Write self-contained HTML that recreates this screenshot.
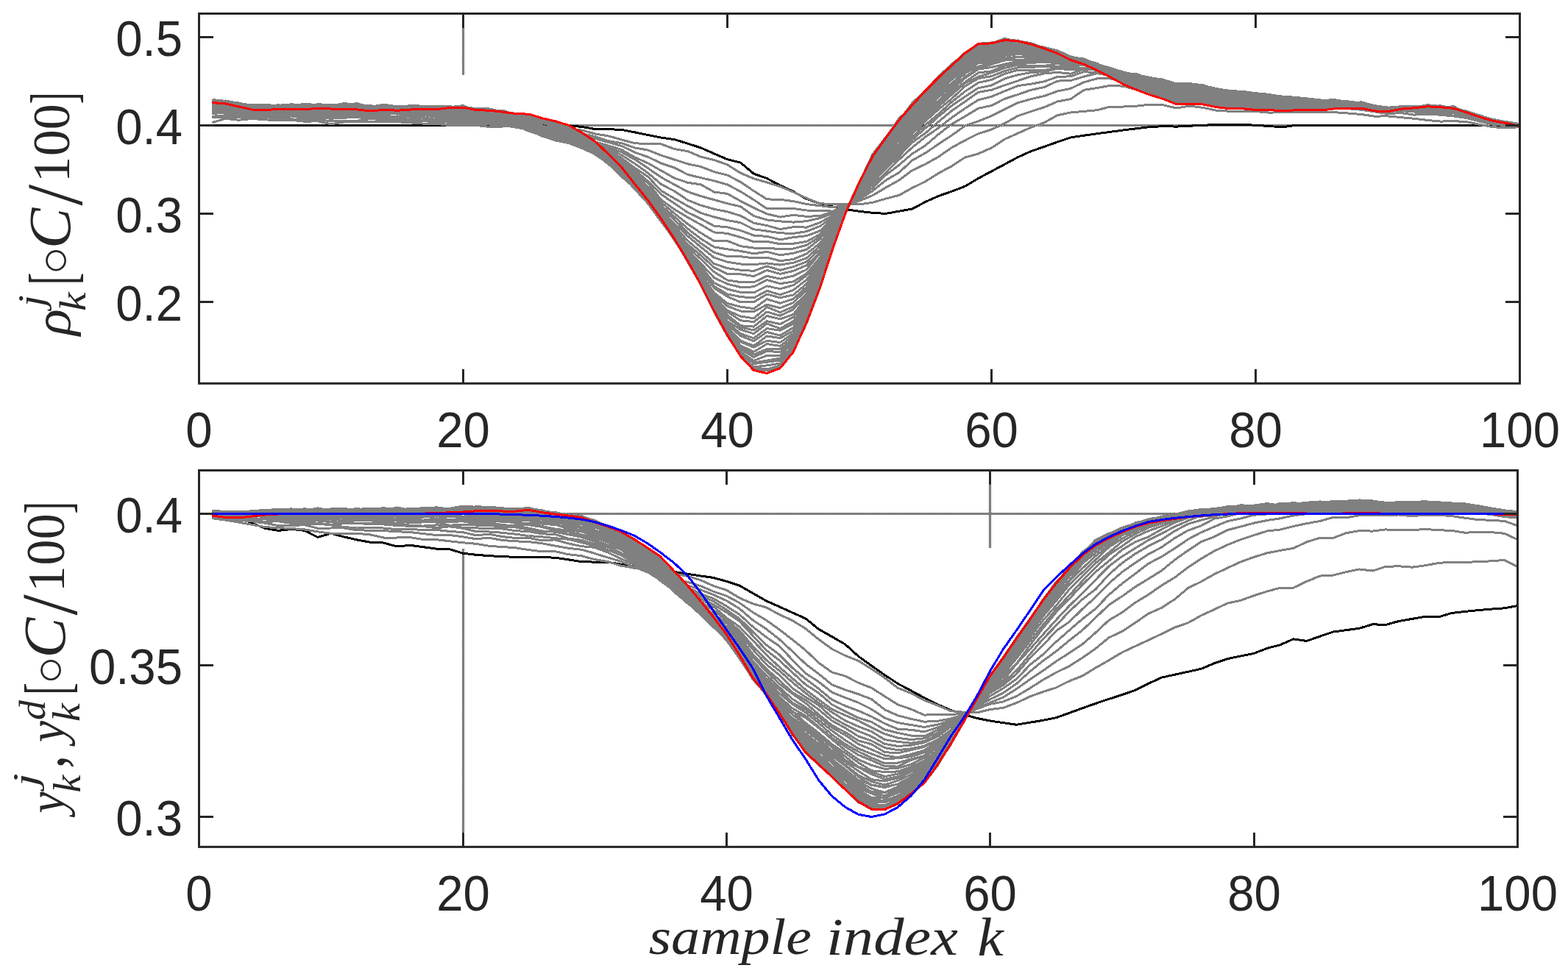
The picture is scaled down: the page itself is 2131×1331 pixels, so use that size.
<!DOCTYPE html>
<html><head><meta charset="utf-8"><title>ILC iterations</title>
<style>
html,body{margin:0;padding:0;background:#fff;}
svg{display:block;}
.tk{font-family:"Liberation Sans",Arial,sans-serif;font-size:68.4px;fill:#262626;}
.lb{font-family:"Liberation Serif","Times New Roman",serif;fill:#262626;}
</style></head><body>
<svg width="2131" height="1331" viewBox="0 0 2131 1331">
<defs>
<pattern id="dot" width="2" height="2" patternUnits="userSpaceOnUse"><rect width="1" height="1" fill="#000"/><rect x="1" y="1" width="1" height="1" fill="#000"/></pattern>
<pattern id="dotv" width="2" height="2" patternUnits="userSpaceOnUse"><rect width="1" height="1" fill="#000"/><rect x="1" y="1" width="1" height="1" fill="#000"/></pattern>
</defs>
<rect width="2131" height="1331" fill="#fff"/>
<line x1="270.5" y1="170.5" x2="2065.5" y2="170.5" stroke="url(#dot)" stroke-width="3"/>
<rect x="628.0" y="38" width="3" height="64" fill="url(#dotv)"/>
<polyline points="288.4,170.5 306.4,170.5 324.4,170.5 342.3,170.5 360.2,170.5 378.2,170.6 396.1,170.6 414.1,170.6 432.0,170.6 450.0,170.6 467.9,170.6 485.9,170.6 503.9,170.6 521.8,170.6 539.8,170.7 557.7,170.7 575.6,170.7 593.6,170.7 611.5,170.7 629.5,170.7 647.5,170.7 665.4,170.7 683.3,170.7 701.3,170.8 719.2,170.8 737.2,170.8 755.1,170.8 773.1,170.8 791.0,172.5 809.0,175.6 826.9,175.7 844.9,176.4 862.9,179.9 880.8,183.6 898.8,187.2 916.7,189.6 934.6,195.2 952.6,201.0 970.5,208.9 988.5,216.6 1006.4,221.1 1024.4,236.2 1042.3,242.5 1060.3,252.1 1078.2,260.4 1096.2,270.4 1114.2,276.7 1132.1,281.1 1150.0,284.8 1168.0,287.3 1185.9,289.4 1203.9,290.4 1221.8,287.2 1239.8,284.0 1257.8,274.4 1275.7,266.4 1293.7,260.1 1311.6,253.3 1329.5,242.5 1347.5,232.9 1365.5,223.3 1383.4,213.7 1401.3,205.6 1419.3,199.4 1437.2,193.0 1455.2,186.9 1473.1,184.2 1491.1,181.7 1509.0,179.3 1527.0,176.9 1545.0,174.7 1562.9,172.5 1580.8,171.7 1598.8,172.1 1616.8,171.2 1634.7,170.3 1652.6,169.5 1670.6,169.1 1688.5,169.4 1706.5,170.3 1724.5,171.5 1742.4,172.8 1760.3,170.5 1778.3,170.2 1796.2,170.2 1814.2,170.2 1832.1,170.2 1850.1,170.2 1868.0,170.2 1886.0,170.2 1904.0,170.3 1921.9,170.4 1939.8,170.5 1957.8,170.6 1975.8,170.7 1993.7,170.9 2011.6,171.0 2029.6,171.0 2047.5,171.0 2065.5,171.0" fill="none" stroke="#000" stroke-width="3" stroke-linejoin="round" stroke-linecap="butt" shape-rendering="crispEdges"/>
<polyline points="288.4,166.7 306.4,161.2 324.4,163.3 342.3,161.5 360.2,162.7 378.2,164.0 396.1,163.2 414.1,165.3 432.0,164.7 450.0,168.9 467.9,165.9 485.9,165.3 503.9,165.5 521.8,165.6 539.8,165.7 557.7,166.8 575.6,168.1 593.6,168.2 611.5,170.7 629.5,170.1 647.5,170.6 665.4,172.4 683.3,172.0 701.3,171.7 719.2,172.8 737.2,174.4 755.1,176.2 773.1,175.6 791.0,177.1 809.0,182.0 826.9,184.9 844.9,190.0 862.9,194.8 880.8,195.5 898.8,195.9 916.7,202.6 934.6,205.6 952.6,213.2 970.5,217.5 988.5,223.9 1006.4,235.2 1024.4,242.8 1042.3,248.0 1060.3,253.6 1078.2,261.1 1096.2,269.4 1114.2,276.7 1132.1,277.7 1150.0,277.3 1168.0,277.8 1185.9,275.3 1203.9,270.1 1221.8,265.4 1239.8,255.5 1257.8,246.7 1275.7,235.4 1293.7,225.7 1311.6,214.0 1329.5,209.0 1347.5,201.0 1365.5,189.2 1383.4,181.2 1401.3,173.1 1419.3,166.7 1437.2,156.7 1455.2,153.0 1473.1,151.4 1491.1,149.7 1509.0,145.0 1527.0,145.0 1545.0,144.1 1562.9,142.2 1580.8,142.8 1598.8,147.0 1616.8,144.1 1634.7,146.3 1652.6,150.1 1670.6,151.2 1688.5,151.5 1706.5,151.5 1724.5,153.1 1742.4,152.8 1760.3,152.9 1778.3,153.0 1796.2,152.7 1814.2,152.7 1832.1,154.0 1850.1,155.5 1868.0,158.1 1886.0,157.9 1904.0,159.6 1921.9,161.3 1939.8,163.4 1957.8,165.1 1975.8,164.6 1993.7,165.7 2011.6,169.5 2029.6,172.8 2047.5,173.7 2065.5,172.7" fill="none" stroke="#808080" stroke-width="3" stroke-linejoin="round" stroke-linecap="butt" shape-rendering="crispEdges"/>
<polyline points="288.4,159.7 306.4,159.8 324.4,159.2 342.3,160.0 360.2,159.5 378.2,161.2 396.1,161.9 414.1,162.9 432.0,162.5 450.0,165.0 467.9,164.0 485.9,164.2 503.9,161.3 521.8,163.3 539.8,163.8 557.7,165.6 575.6,163.6 593.6,168.2 611.5,169.5 629.5,167.7 647.5,168.4 665.4,169.0 683.3,170.7 701.3,172.8 719.2,176.2 737.2,176.1 755.1,178.5 773.1,179.3 791.0,181.6 809.0,185.7 826.9,191.7 844.9,194.7 862.9,201.0 880.8,204.1 898.8,211.3 916.7,217.0 934.6,222.8 952.6,226.6 970.5,233.6 988.5,238.1 1006.4,247.4 1024.4,259.6 1042.3,270.9 1060.3,271.3 1078.2,273.6 1096.2,277.5 1114.2,279.7 1132.1,281.8 1150.0,278.7 1168.0,273.0 1185.9,265.7 1203.9,255.0 1221.8,245.0 1239.8,231.6 1257.8,223.1 1275.7,213.0 1293.7,200.5 1311.6,190.8 1329.5,181.8 1347.5,176.1 1365.5,167.7 1383.4,157.6 1401.3,151.6 1419.3,145.7 1437.2,138.0 1455.2,134.6 1473.1,122.3 1491.1,119.5 1509.0,116.3 1527.0,117.2 1545.0,122.1 1562.9,125.8 1580.8,128.1 1598.8,134.1 1616.8,133.0 1634.7,134.5 1652.6,138.2 1670.6,140.7 1688.5,140.7 1706.5,143.2 1724.5,143.6 1742.4,145.3 1760.3,144.8 1778.3,145.5 1796.2,146.5 1814.2,146.8 1832.1,147.6 1850.1,149.3 1868.0,151.9 1886.0,154.6 1904.0,153.5 1921.9,156.1 1939.8,155.1 1957.8,156.2 1975.8,158.0 1993.7,160.5 2011.6,165.3 2029.6,169.4 2047.5,170.6 2065.5,171.4" fill="none" stroke="#808080" stroke-width="3" stroke-linejoin="round" stroke-linecap="butt" shape-rendering="crispEdges"/>
<polyline points="288.4,158.3 306.4,156.8 324.4,157.1 342.3,157.0 360.2,156.7 378.2,159.5 396.1,157.9 414.1,160.6 432.0,159.9 450.0,161.2 467.9,160.1 485.9,159.6 503.9,161.5 521.8,161.0 539.8,162.4 557.7,163.4 575.6,164.2 593.6,165.5 611.5,166.2 629.5,167.6 647.5,166.2 665.4,168.5 683.3,168.7 701.3,173.2 719.2,176.2 737.2,176.2 755.1,180.1 773.1,181.5 791.0,183.3 809.0,188.5 826.9,193.5 844.9,198.5 862.9,207.2 880.8,213.5 898.8,222.1 916.7,228.1 934.6,237.3 952.6,241.7 970.5,245.8 988.5,251.0 1006.4,260.4 1024.4,271.6 1042.3,283.6 1060.3,284.0 1078.2,283.5 1096.2,286.0 1114.2,286.6 1132.1,287.1 1150.0,278.7 1168.0,270.7 1185.9,259.5 1203.9,245.1 1221.8,234.6 1239.8,218.0 1257.8,207.9 1275.7,195.8 1293.7,183.9 1311.6,171.0 1329.5,164.8 1347.5,157.6 1365.5,148.4 1383.4,139.7 1401.3,134.6 1419.3,130.5 1437.2,124.0 1455.2,120.3 1473.1,111.7 1491.1,106.9 1509.0,106.9 1527.0,110.8 1545.0,115.5 1562.9,119.0 1580.8,122.8 1598.8,129.6 1616.8,128.0 1634.7,129.8 1652.6,134.1 1670.6,136.8 1688.5,136.7 1706.5,138.7 1724.5,139.5 1742.4,141.8 1760.3,141.1 1778.3,143.0 1796.2,144.3 1814.2,143.6 1832.1,146.2 1850.1,146.7 1868.0,149.4 1886.0,151.8 1904.0,150.3 1921.9,152.0 1939.8,154.5 1957.8,153.1 1975.8,157.5 1993.7,159.1 2011.6,164.1 2029.6,167.3 2047.5,168.2 2065.5,170.5" fill="none" stroke="#808080" stroke-width="3" stroke-linejoin="round" stroke-linecap="butt" shape-rendering="crispEdges"/>
<polyline points="288.4,154.5 306.4,153.2 324.4,153.7 342.3,155.9 360.2,155.9 378.2,155.3 396.1,157.2 414.1,159.0 432.0,157.5 450.0,159.2 467.9,159.8 485.9,158.6 503.9,158.4 521.8,158.6 539.8,161.0 557.7,162.7 575.6,163.1 593.6,164.9 611.5,165.3 629.5,166.9 647.5,166.8 665.4,167.3 683.3,167.8 701.3,170.2 719.2,174.9 737.2,178.3 755.1,181.1 773.1,184.0 791.0,186.0 809.0,192.8 826.9,198.0 844.9,203.6 862.9,213.9 880.8,221.9 898.8,232.1 916.7,242.2 934.6,248.3 952.6,250.9 970.5,261.0 988.5,263.4 1006.4,273.3 1024.4,282.5 1042.3,290.8 1060.3,295.1 1078.2,292.3 1096.2,294.4 1114.2,293.5 1132.1,287.9 1150.0,279.3 1168.0,268.9 1185.9,255.4 1203.9,237.9 1221.8,224.4 1239.8,209.0 1257.8,197.7 1275.7,182.3 1293.7,168.6 1311.6,158.2 1329.5,147.4 1347.5,143.4 1365.5,134.3 1383.4,128.5 1401.3,122.3 1419.3,118.5 1437.2,110.1 1455.2,109.5 1473.1,104.1 1491.1,99.7 1509.0,102.1 1527.0,105.8 1545.0,112.4 1562.9,116.1 1580.8,118.5 1598.8,126.0 1616.8,125.0 1634.7,127.2 1652.6,130.6 1670.6,133.9 1688.5,134.1 1706.5,136.0 1724.5,136.9 1742.4,139.1 1760.3,139.9 1778.3,140.9 1796.2,142.6 1814.2,142.6 1832.1,144.5 1850.1,145.3 1868.0,148.4 1886.0,149.5 1904.0,150.5 1921.9,152.0 1939.8,151.4 1957.8,153.1 1975.8,153.7 1993.7,157.6 2011.6,161.7 2029.6,167.3 2047.5,168.6 2065.5,170.1" fill="none" stroke="#808080" stroke-width="3" stroke-linejoin="round" stroke-linecap="butt" shape-rendering="crispEdges"/>
<polyline points="288.4,151.1 306.4,152.5 324.4,155.0 342.3,154.7 360.2,154.4 378.2,156.9 396.1,157.7 414.1,157.6 432.0,157.2 450.0,157.8 467.9,157.2 485.9,157.8 503.9,157.3 521.8,159.9 539.8,159.9 557.7,162.5 575.6,159.5 593.6,163.8 611.5,165.5 629.5,165.0 647.5,166.7 665.4,167.4 683.3,168.9 701.3,171.0 719.2,175.6 737.2,181.2 755.1,184.2 773.1,185.5 791.0,188.2 809.0,193.1 826.9,201.0 844.9,206.9 862.9,216.9 880.8,228.8 898.8,241.2 916.7,251.1 934.6,260.6 952.6,266.7 970.5,271.6 988.5,276.7 1006.4,280.8 1024.4,293.6 1042.3,298.9 1060.3,300.9 1078.2,302.1 1096.2,300.7 1114.2,296.6 1132.1,290.2 1150.0,280.2 1168.0,267.2 1185.9,251.2 1203.9,235.0 1221.8,217.0 1239.8,200.5 1257.8,186.0 1275.7,173.8 1293.7,159.8 1311.6,147.3 1329.5,135.9 1347.5,131.4 1365.5,123.8 1383.4,116.6 1401.3,114.2 1419.3,110.7 1437.2,104.4 1455.2,103.8 1473.1,97.5 1491.1,99.0 1509.0,103.2 1527.0,105.2 1545.0,109.8 1562.9,111.7 1580.8,117.0 1598.8,123.3 1616.8,122.2 1634.7,124.9 1652.6,128.0 1670.6,131.0 1688.5,131.9 1706.5,133.7 1724.5,135.4 1742.4,137.8 1760.3,137.6 1778.3,139.1 1796.2,141.2 1814.2,141.2 1832.1,142.1 1850.1,143.5 1868.0,147.5 1886.0,149.7 1904.0,150.2 1921.9,150.8 1939.8,152.1 1957.8,153.0 1975.8,153.9 1993.7,158.2 2011.6,162.7 2029.6,166.4 2047.5,167.5 2065.5,170.1" fill="none" stroke="#808080" stroke-width="3" stroke-linejoin="round" stroke-linecap="butt" shape-rendering="crispEdges"/>
<polyline points="288.4,151.0 306.4,152.9 324.4,152.4 342.3,153.6 360.2,154.2 378.2,155.9 396.1,155.2 414.1,155.1 432.0,155.4 450.0,154.9 467.9,155.5 485.9,155.7 503.9,157.1 521.8,159.1 539.8,158.0 557.7,159.2 575.6,160.1 593.6,162.6 611.5,162.2 629.5,163.5 647.5,165.2 665.4,166.2 683.3,167.5 701.3,170.8 719.2,175.2 737.2,181.7 755.1,185.6 773.1,187.1 791.0,190.1 809.0,195.3 826.9,201.7 844.9,211.0 862.9,222.6 880.8,235.3 898.8,250.7 916.7,259.9 934.6,272.1 952.6,279.2 970.5,284.3 988.5,287.8 1006.4,293.3 1024.4,303.2 1042.3,306.6 1060.3,311.7 1078.2,308.6 1096.2,309.1 1114.2,302.6 1132.1,292.8 1150.0,280.2 1168.0,266.9 1185.9,247.5 1203.9,229.7 1221.8,212.3 1239.8,193.6 1257.8,180.9 1275.7,165.3 1293.7,150.4 1311.6,138.1 1329.5,125.4 1347.5,122.3 1365.5,115.8 1383.4,109.8 1401.3,103.7 1419.3,100.0 1437.2,98.4 1455.2,100.2 1473.1,94.0 1491.1,95.1 1509.0,99.8 1527.0,103.0 1545.0,108.5 1562.9,112.7 1580.8,115.2 1598.8,121.5 1616.8,120.5 1634.7,123.0 1652.6,126.7 1670.6,129.8 1688.5,131.1 1706.5,132.2 1724.5,132.9 1742.4,136.0 1760.3,136.9 1778.3,138.8 1796.2,140.4 1814.2,139.9 1832.1,141.5 1850.1,143.7 1868.0,146.3 1886.0,149.7 1904.0,148.8 1921.9,150.6 1939.8,150.4 1957.8,151.8 1975.8,153.4 1993.7,155.7 2011.6,161.5 2029.6,165.6 2047.5,167.9 2065.5,170.0" fill="none" stroke="#808080" stroke-width="3" stroke-linejoin="round" stroke-linecap="butt" shape-rendering="crispEdges"/>
<polyline points="288.4,149.4 306.4,149.4 324.4,150.5 342.3,151.9 360.2,153.5 378.2,152.3 396.1,155.0 414.1,154.5 432.0,153.7 450.0,152.8 467.9,154.4 485.9,155.2 503.9,154.0 521.8,157.1 539.8,158.9 557.7,158.3 575.6,159.6 593.6,163.2 611.5,163.4 629.5,162.2 647.5,164.2 665.4,164.6 683.3,166.7 701.3,168.6 719.2,177.0 737.2,181.5 755.1,185.9 773.1,188.3 791.0,192.0 809.0,196.7 826.9,204.3 844.9,214.9 862.9,228.5 880.8,240.4 898.8,259.5 916.7,269.9 934.6,280.0 952.6,289.6 970.5,295.0 988.5,299.5 1006.4,302.7 1024.4,311.8 1042.3,314.1 1060.3,316.8 1078.2,317.5 1096.2,314.6 1114.2,307.6 1132.1,295.3 1150.0,281.1 1168.0,263.4 1185.9,244.7 1203.9,226.6 1221.8,207.9 1239.8,189.9 1257.8,174.1 1275.7,158.2 1293.7,143.5 1311.6,131.3 1329.5,119.7 1347.5,116.1 1365.5,106.9 1383.4,101.8 1401.3,98.5 1419.3,97.7 1437.2,93.0 1455.2,95.0 1473.1,93.0 1491.1,95.5 1509.0,99.0 1527.0,102.0 1545.0,107.5 1562.9,109.9 1580.8,113.9 1598.8,119.7 1616.8,119.5 1634.7,122.4 1652.6,125.8 1670.6,128.8 1688.5,128.8 1706.5,131.1 1724.5,132.9 1742.4,135.5 1760.3,135.6 1778.3,137.5 1796.2,138.8 1814.2,139.4 1832.1,141.7 1850.1,142.2 1868.0,146.0 1886.0,147.9 1904.0,148.7 1921.9,150.2 1939.8,149.8 1957.8,150.7 1975.8,150.7 1993.7,157.8 2011.6,160.8 2029.6,165.2 2047.5,167.8 2065.5,169.0" fill="none" stroke="#808080" stroke-width="3" stroke-linejoin="round" stroke-linecap="butt" shape-rendering="crispEdges"/>
<polyline points="288.4,148.5 306.4,148.9 324.4,150.6 342.3,152.4 360.2,152.3 378.2,150.3 396.1,152.5 414.1,153.3 432.0,153.0 450.0,151.8 467.9,151.4 485.9,153.9 503.9,154.9 521.8,154.8 539.8,154.4 557.7,158.6 575.6,155.1 593.6,159.3 611.5,163.1 629.5,161.9 647.5,163.5 665.4,162.6 683.3,167.5 701.3,169.3 719.2,176.6 737.2,182.8 755.1,186.0 773.1,189.9 791.0,192.7 809.0,198.1 826.9,207.3 844.9,216.8 862.9,231.4 880.8,246.7 898.8,264.4 916.7,276.7 934.6,288.8 952.6,297.6 970.5,307.2 988.5,308.9 1006.4,313.4 1024.4,320.0 1042.3,321.4 1060.3,325.9 1078.2,322.6 1096.2,320.7 1114.2,313.9 1132.1,297.1 1150.0,281.1 1168.0,262.1 1185.9,242.9 1203.9,222.3 1221.8,204.9 1239.8,186.1 1257.8,169.7 1275.7,154.7 1293.7,138.4 1311.6,124.3 1329.5,112.4 1347.5,108.5 1365.5,100.3 1383.4,95.2 1401.3,95.3 1419.3,95.5 1437.2,92.1 1455.2,92.3 1473.1,92.2 1491.1,92.4 1509.0,96.5 1527.0,100.7 1545.0,104.9 1562.9,109.2 1580.8,113.3 1598.8,118.4 1616.8,117.6 1634.7,119.8 1652.6,124.2 1670.6,126.1 1688.5,127.7 1706.5,130.4 1724.5,131.5 1742.4,134.3 1760.3,134.5 1778.3,136.1 1796.2,139.0 1814.2,139.4 1832.1,139.8 1850.1,141.8 1868.0,145.8 1886.0,148.5 1904.0,148.2 1921.9,148.6 1939.8,148.9 1957.8,150.2 1975.8,151.5 1993.7,154.1 2011.6,158.4 2029.6,164.5 2047.5,166.4 2065.5,169.4" fill="none" stroke="#808080" stroke-width="3" stroke-linejoin="round" stroke-linecap="butt" shape-rendering="crispEdges"/>
<polyline points="288.4,148.2 306.4,148.3 324.4,149.0 342.3,150.5 360.2,152.0 378.2,150.4 396.1,152.8 414.1,152.9 432.0,152.1 450.0,153.5 467.9,151.3 485.9,153.3 503.9,152.7 521.8,153.0 539.8,154.1 557.7,156.2 575.6,156.0 593.6,158.6 611.5,158.8 629.5,162.1 647.5,164.2 665.4,163.2 683.3,167.0 701.3,170.8 719.2,178.5 737.2,183.3 755.1,186.5 773.1,191.3 791.0,194.5 809.0,199.4 826.9,208.7 844.9,218.2 862.9,234.3 880.8,249.2 898.8,271.8 916.7,284.7 934.6,295.5 952.6,305.5 970.5,315.9 988.5,317.4 1006.4,322.5 1024.4,328.6 1042.3,328.3 1060.3,331.7 1078.2,331.2 1096.2,328.4 1114.2,318.6 1132.1,300.5 1150.0,282.1 1168.0,261.9 1185.9,241.7 1203.9,220.0 1221.8,202.7 1239.8,181.9 1257.8,164.6 1275.7,148.6 1293.7,134.0 1311.6,117.2 1329.5,106.6 1347.5,103.7 1365.5,96.5 1383.4,91.8 1401.3,91.4 1419.3,90.2 1437.2,90.3 1455.2,91.1 1473.1,87.8 1491.1,89.7 1509.0,96.4 1527.0,102.3 1545.0,105.2 1562.9,109.2 1580.8,110.9 1598.8,116.8 1616.8,117.2 1634.7,119.1 1652.6,123.6 1670.6,125.3 1688.5,126.8 1706.5,129.0 1724.5,130.8 1742.4,133.2 1760.3,134.0 1778.3,135.9 1796.2,138.4 1814.2,138.4 1832.1,139.7 1850.1,140.5 1868.0,144.9 1886.0,148.7 1904.0,146.2 1921.9,147.9 1939.8,149.0 1957.8,150.8 1975.8,150.9 1993.7,156.1 2011.6,160.8 2029.6,165.3 2047.5,167.0 2065.5,169.6" fill="none" stroke="#808080" stroke-width="3" stroke-linejoin="round" stroke-linecap="butt" shape-rendering="crispEdges"/>
<polyline points="288.4,146.8 306.4,148.7 324.4,147.5 342.3,150.5 360.2,149.1 378.2,148.8 396.1,151.5 414.1,150.5 432.0,151.4 450.0,150.1 467.9,152.7 485.9,151.4 503.9,151.6 521.8,153.0 539.8,155.1 557.7,154.0 575.6,156.4 593.6,159.6 611.5,159.8 629.5,160.0 647.5,160.9 665.4,162.7 683.3,163.2 701.3,166.9 719.2,175.7 737.2,182.8 755.1,189.6 773.1,191.6 791.0,195.4 809.0,200.8 826.9,211.8 844.9,221.5 862.9,237.1 880.8,254.2 898.8,275.4 916.7,290.2 934.6,304.5 952.6,316.8 970.5,327.6 988.5,327.5 1006.4,334.6 1024.4,337.1 1042.3,337.1 1060.3,338.7 1078.2,338.0 1096.2,333.3 1114.2,321.9 1132.1,303.7 1150.0,282.4 1168.0,260.8 1185.9,239.1 1203.9,219.2 1221.8,199.8 1239.8,179.7 1257.8,161.9 1275.7,144.7 1293.7,128.4 1311.6,113.1 1329.5,104.3 1347.5,98.9 1365.5,92.4 1383.4,88.3 1401.3,89.4 1419.3,89.4 1437.2,86.5 1455.2,89.3 1473.1,87.3 1491.1,92.9 1509.0,96.6 1527.0,99.7 1545.0,105.6 1562.9,108.0 1580.8,110.6 1598.8,116.8 1616.8,115.9 1634.7,118.1 1652.6,122.8 1670.6,125.0 1688.5,125.6 1706.5,129.2 1724.5,129.8 1742.4,132.6 1760.3,133.4 1778.3,135.8 1796.2,137.9 1814.2,138.1 1832.1,140.3 1850.1,139.9 1868.0,144.9 1886.0,147.4 1904.0,147.4 1921.9,148.9 1939.8,146.0 1957.8,152.4 1975.8,149.9 1993.7,155.4 2011.6,160.6 2029.6,165.0 2047.5,166.9 2065.5,168.4" fill="none" stroke="#808080" stroke-width="3" stroke-linejoin="round" stroke-linecap="butt" shape-rendering="crispEdges"/>
<polyline points="288.4,144.6 306.4,147.1 324.4,146.9 342.3,148.2 360.2,147.4 378.2,150.7 396.1,150.7 414.1,149.6 432.0,149.9 450.0,150.2 467.9,149.1 485.9,150.2 503.9,152.1 521.8,152.4 539.8,154.5 557.7,153.9 575.6,154.5 593.6,156.9 611.5,157.2 629.5,157.8 647.5,161.8 665.4,160.9 683.3,164.2 701.3,170.2 719.2,175.2 737.2,184.6 755.1,189.2 773.1,192.2 791.0,197.0 809.0,202.4 826.9,210.8 844.9,224.2 862.9,239.5 880.8,258.7 898.8,279.8 916.7,294.8 934.6,310.9 952.6,324.6 970.5,335.9 988.5,338.8 1006.4,341.4 1024.4,344.9 1042.3,342.3 1060.3,346.9 1078.2,344.2 1096.2,339.2 1114.2,325.1 1132.1,303.3 1150.0,281.0 1168.0,260.3 1185.9,238.5 1203.9,217.1 1221.8,195.3 1239.8,175.5 1257.8,159.8 1275.7,141.8 1293.7,124.5 1311.6,111.6 1329.5,99.0 1347.5,96.8 1365.5,89.1 1383.4,86.7 1401.3,85.5 1419.3,84.2 1437.2,84.5 1455.2,86.5 1473.1,87.8 1491.1,89.4 1509.0,93.5 1527.0,100.7 1545.0,104.9 1562.9,108.3 1580.8,110.3 1598.8,115.2 1616.8,115.2 1634.7,117.4 1652.6,121.9 1670.6,123.6 1688.5,125.4 1706.5,128.1 1724.5,129.0 1742.4,132.3 1760.3,133.6 1778.3,135.2 1796.2,137.6 1814.2,138.1 1832.1,139.7 1850.1,140.7 1868.0,144.6 1886.0,148.0 1904.0,146.7 1921.9,147.4 1939.8,148.3 1957.8,148.1 1975.8,150.7 1993.7,155.7 2011.6,159.8 2029.6,164.4 2047.5,167.0 2065.5,169.2" fill="none" stroke="#808080" stroke-width="3" stroke-linejoin="round" stroke-linecap="butt" shape-rendering="crispEdges"/>
<polyline points="288.4,143.3 306.4,144.2 324.4,148.4 342.3,148.7 360.2,146.9 378.2,147.4 396.1,149.4 414.1,148.7 432.0,149.7 450.0,149.6 467.9,149.8 485.9,148.5 503.9,151.6 521.8,152.9 539.8,151.6 557.7,154.2 575.6,155.0 593.6,156.2 611.5,156.8 629.5,156.9 647.5,158.9 665.4,161.2 683.3,164.4 701.3,170.3 719.2,177.1 737.2,185.0 755.1,189.1 773.1,192.4 791.0,197.9 809.0,204.5 826.9,214.6 844.9,224.9 862.9,242.5 880.8,259.5 898.8,283.3 916.7,298.9 934.6,316.5 952.6,330.7 970.5,343.2 988.5,348.8 1006.4,348.7 1024.4,351.0 1042.3,350.0 1060.3,354.7 1078.2,352.5 1096.2,344.9 1114.2,331.0 1132.1,307.2 1150.0,281.7 1168.0,259.3 1185.9,235.8 1203.9,213.0 1221.8,195.5 1239.8,172.8 1257.8,155.7 1275.7,139.4 1293.7,122.1 1311.6,106.1 1329.5,94.1 1347.5,91.5 1365.5,87.2 1383.4,83.5 1401.3,83.3 1419.3,82.5 1437.2,83.9 1455.2,86.0 1473.1,85.2 1491.1,89.4 1509.0,94.8 1527.0,100.8 1545.0,103.3 1562.9,107.0 1580.8,110.4 1598.8,115.0 1616.8,114.6 1634.7,117.6 1652.6,121.6 1670.6,124.0 1688.5,125.0 1706.5,127.5 1724.5,129.2 1742.4,131.8 1760.3,133.1 1778.3,134.5 1796.2,136.7 1814.2,137.4 1832.1,138.9 1850.1,140.6 1868.0,144.6 1886.0,146.8 1904.0,147.0 1921.9,147.3 1939.8,145.7 1957.8,147.4 1975.8,149.2 1993.7,154.1 2011.6,159.6 2029.6,164.7 2047.5,166.7 2065.5,169.4" fill="none" stroke="#808080" stroke-width="3" stroke-linejoin="round" stroke-linecap="butt" shape-rendering="crispEdges"/>
<polyline points="288.4,145.4 306.4,144.6 324.4,148.1 342.3,148.8 360.2,147.7 378.2,148.4 396.1,149.8 414.1,149.2 432.0,149.5 450.0,149.2 467.9,149.3 485.9,148.6 503.9,150.6 521.8,149.8 539.8,152.3 557.7,150.4 575.6,153.5 593.6,155.9 611.5,156.5 629.5,157.1 647.5,159.6 665.4,158.9 683.3,161.9 701.3,168.4 719.2,175.8 737.2,185.3 755.1,189.1 773.1,193.9 791.0,198.1 809.0,204.6 826.9,216.0 844.9,229.4 862.9,244.7 880.8,261.5 898.8,286.7 916.7,304.1 934.6,320.8 952.6,336.0 970.5,350.2 988.5,356.1 1006.4,359.0 1024.4,359.6 1042.3,357.9 1060.3,360.1 1078.2,357.2 1096.2,350.9 1114.2,334.7 1132.1,311.4 1150.0,283.7 1168.0,258.6 1185.9,233.2 1203.9,210.9 1221.8,190.8 1239.8,172.5 1257.8,152.8 1275.7,137.1 1293.7,119.8 1311.6,104.1 1329.5,93.3 1347.5,87.3 1365.5,82.0 1383.4,81.3 1401.3,80.7 1419.3,81.1 1437.2,82.0 1455.2,84.1 1473.1,85.2 1491.1,87.9 1509.0,92.3 1527.0,100.6 1545.0,102.1 1562.9,105.6 1580.8,109.7 1598.8,115.6 1616.8,114.5 1634.7,116.6 1652.6,121.1 1670.6,123.3 1688.5,124.8 1706.5,127.4 1724.5,128.8 1742.4,131.9 1760.3,132.9 1778.3,135.3 1796.2,137.3 1814.2,136.4 1832.1,139.5 1850.1,139.2 1868.0,143.7 1886.0,147.4 1904.0,146.0 1921.9,147.3 1939.8,148.1 1957.8,147.5 1975.8,148.8 1993.7,154.5 2011.6,160.2 2029.6,164.3 2047.5,165.6 2065.5,168.7" fill="none" stroke="#808080" stroke-width="3" stroke-linejoin="round" stroke-linecap="butt" shape-rendering="crispEdges"/>
<polyline points="288.4,143.2 306.4,146.0 324.4,146.7 342.3,147.9 360.2,148.6 378.2,147.1 396.1,148.5 414.1,148.8 432.0,146.8 450.0,148.0 467.9,148.4 485.9,147.1 503.9,150.3 521.8,150.1 539.8,151.9 557.7,150.5 575.6,152.4 593.6,155.3 611.5,155.8 629.5,155.5 647.5,158.5 665.4,160.4 683.3,162.1 701.3,168.7 719.2,178.3 737.2,184.5 755.1,189.9 773.1,193.4 791.0,199.1 809.0,207.2 826.9,217.1 844.9,228.6 862.9,246.3 880.8,266.0 898.8,289.7 916.7,306.9 934.6,327.3 952.6,342.5 970.5,358.5 988.5,364.7 1006.4,367.2 1024.4,368.4 1042.3,361.9 1060.3,367.3 1078.2,362.7 1096.2,355.8 1114.2,339.1 1132.1,312.1 1150.0,283.2 1168.0,257.9 1185.9,232.0 1203.9,208.6 1221.8,188.6 1239.8,169.7 1257.8,151.1 1275.7,131.9 1293.7,116.8 1311.6,99.4 1329.5,90.4 1347.5,86.1 1365.5,80.7 1383.4,77.4 1401.3,78.6 1419.3,79.9 1437.2,81.2 1455.2,82.3 1473.1,85.5 1491.1,88.6 1509.0,93.1 1527.0,99.5 1545.0,102.4 1562.9,105.7 1580.8,108.2 1598.8,114.9 1616.8,114.5 1634.7,116.5 1652.6,120.5 1670.6,123.3 1688.5,124.5 1706.5,127.5 1724.5,128.5 1742.4,131.9 1760.3,132.5 1778.3,134.2 1796.2,136.8 1814.2,136.6 1832.1,139.0 1850.1,140.4 1868.0,144.1 1886.0,146.8 1904.0,148.3 1921.9,147.5 1939.8,146.9 1957.8,148.6 1975.8,149.2 1993.7,153.9 2011.6,159.3 2029.6,162.4 2047.5,166.9 2065.5,168.6" fill="none" stroke="#808080" stroke-width="3" stroke-linejoin="round" stroke-linecap="butt" shape-rendering="crispEdges"/>
<polyline points="288.4,141.5 306.4,143.9 324.4,145.2 342.3,145.6 360.2,147.1 378.2,145.6 396.1,146.6 414.1,146.1 432.0,146.2 450.0,147.7 467.9,147.2 485.9,147.8 503.9,149.7 521.8,148.5 539.8,149.4 557.7,150.1 575.6,153.1 593.6,153.0 611.5,154.4 629.5,155.3 647.5,157.7 665.4,158.6 683.3,161.5 701.3,167.6 719.2,174.6 737.2,183.7 755.1,190.4 773.1,194.5 791.0,200.2 809.0,206.9 826.9,217.5 844.9,231.8 862.9,249.6 880.8,266.5 898.8,291.9 916.7,311.2 934.6,332.3 952.6,347.3 970.5,363.6 988.5,372.6 1006.4,372.7 1024.4,375.6 1042.3,367.4 1060.3,372.4 1078.2,368.4 1096.2,360.7 1114.2,343.4 1132.1,313.3 1150.0,283.8 1168.0,256.9 1185.9,231.6 1203.9,207.8 1221.8,187.6 1239.8,165.5 1257.8,148.8 1275.7,129.4 1293.7,115.1 1311.6,99.2 1329.5,85.9 1347.5,84.4 1365.5,79.4 1383.4,77.0 1401.3,77.5 1419.3,77.1 1437.2,78.4 1455.2,81.6 1473.1,84.2 1491.1,89.6 1509.0,94.1 1527.0,98.9 1545.0,101.5 1562.9,106.2 1580.8,108.4 1598.8,113.8 1616.8,113.8 1634.7,116.4 1652.6,120.5 1670.6,124.0 1688.5,124.3 1706.5,126.7 1724.5,128.3 1742.4,131.9 1760.3,132.1 1778.3,134.7 1796.2,136.7 1814.2,137.6 1832.1,139.0 1850.1,139.4 1868.0,144.4 1886.0,146.7 1904.0,147.0 1921.9,147.0 1939.8,148.4 1957.8,147.5 1975.8,149.5 1993.7,153.1 2011.6,159.0 2029.6,163.7 2047.5,166.2 2065.5,169.0" fill="none" stroke="#808080" stroke-width="3" stroke-linejoin="round" stroke-linecap="butt" shape-rendering="crispEdges"/>
<polyline points="288.4,141.4 306.4,142.0 324.4,145.7 342.3,145.9 360.2,145.9 378.2,147.3 396.1,147.6 414.1,144.4 432.0,146.1 450.0,147.5 467.9,147.4 485.9,146.4 503.9,149.7 521.8,147.2 539.8,149.2 557.7,149.9 575.6,150.7 593.6,153.0 611.5,154.3 629.5,154.5 647.5,158.2 665.4,156.9 683.3,160.7 701.3,169.1 719.2,175.1 737.2,185.3 755.1,189.9 773.1,194.3 791.0,200.3 809.0,207.7 826.9,219.1 844.9,232.5 862.9,251.2 880.8,271.0 898.8,293.2 916.7,314.0 934.6,335.3 952.6,352.4 970.5,369.6 988.5,380.9 1006.4,383.6 1024.4,383.8 1042.3,375.3 1060.3,379.1 1078.2,375.1 1096.2,366.4 1114.2,344.7 1132.1,315.7 1150.0,283.4 1168.0,256.8 1185.9,230.6 1203.9,207.3 1221.8,184.2 1239.8,166.0 1257.8,145.3 1275.7,127.7 1293.7,112.9 1311.6,98.1 1329.5,84.2 1347.5,82.6 1365.5,76.3 1383.4,73.4 1401.3,75.2 1419.3,78.1 1437.2,77.9 1455.2,82.4 1473.1,84.3 1491.1,87.4 1509.0,94.7 1527.0,100.4 1545.0,104.2 1562.9,107.0 1580.8,108.3 1598.8,114.5 1616.8,114.1 1634.7,116.2 1652.6,120.5 1670.6,123.8 1688.5,124.9 1706.5,126.9 1724.5,128.7 1742.4,131.1 1760.3,132.3 1778.3,134.2 1796.2,136.1 1814.2,136.9 1832.1,138.7 1850.1,139.3 1868.0,143.8 1886.0,146.1 1904.0,146.0 1921.9,146.3 1939.8,146.4 1957.8,146.1 1975.8,149.0 1993.7,154.0 2011.6,159.7 2029.6,164.2 2047.5,166.1 2065.5,168.6" fill="none" stroke="#808080" stroke-width="3" stroke-linejoin="round" stroke-linecap="butt" shape-rendering="crispEdges"/>
<polyline points="288.4,139.5 306.4,142.2 324.4,145.5 342.3,147.2 360.2,143.8 378.2,145.0 396.1,145.9 414.1,145.4 432.0,146.1 450.0,146.2 467.9,145.4 485.9,146.3 503.9,146.2 521.8,146.4 539.8,147.9 557.7,149.9 575.6,148.4 593.6,151.2 611.5,153.3 629.5,153.7 647.5,156.9 665.4,156.2 683.3,160.7 701.3,167.8 719.2,176.9 737.2,184.8 755.1,191.1 773.1,194.5 791.0,200.7 809.0,209.3 826.9,220.8 844.9,234.9 862.9,252.6 880.8,273.4 898.8,297.0 916.7,314.8 934.6,339.4 952.6,358.3 970.5,377.5 988.5,386.1 1006.4,390.5 1024.4,389.9 1042.3,380.5 1060.3,385.7 1078.2,382.8 1096.2,372.0 1114.2,350.5 1132.1,316.9 1150.0,283.7 1168.0,254.1 1185.9,227.6 1203.9,203.9 1221.8,182.8 1239.8,164.3 1257.8,144.0 1275.7,126.0 1293.7,108.1 1311.6,95.1 1329.5,82.5 1347.5,79.3 1365.5,74.7 1383.4,72.0 1401.3,73.3 1419.3,77.3 1437.2,77.8 1455.2,82.1 1473.1,83.8 1491.1,88.5 1509.0,93.6 1527.0,101.2 1545.0,102.6 1562.9,106.6 1580.8,108.6 1598.8,114.7 1616.8,113.7 1634.7,115.8 1652.6,121.6 1670.6,124.1 1688.5,124.3 1706.5,127.2 1724.5,128.8 1742.4,131.3 1760.3,133.1 1778.3,134.2 1796.2,136.4 1814.2,135.7 1832.1,139.5 1850.1,139.6 1868.0,144.9 1886.0,146.0 1904.0,146.2 1921.9,146.8 1939.8,146.2 1957.8,149.2 1975.8,150.9 1993.7,154.6 2011.6,158.4 2029.6,164.0 2047.5,166.6 2065.5,168.9" fill="none" stroke="#808080" stroke-width="3" stroke-linejoin="round" stroke-linecap="butt" shape-rendering="crispEdges"/>
<polyline points="288.4,141.3 306.4,142.2 324.4,142.8 342.3,145.6 360.2,147.0 378.2,144.3 396.1,145.8 414.1,146.8 432.0,144.0 450.0,145.5 467.9,143.7 485.9,145.2 503.9,145.9 521.8,145.9 539.8,147.8 557.7,148.2 575.6,149.2 593.6,148.3 611.5,153.3 629.5,152.7 647.5,154.3 665.4,155.6 683.3,160.0 701.3,165.4 719.2,173.8 737.2,183.5 755.1,190.4 773.1,194.1 791.0,201.1 809.0,208.9 826.9,220.9 844.9,235.7 862.9,253.0 880.8,271.3 898.8,296.2 916.7,317.7 934.6,340.3 952.6,362.2 970.5,384.7 988.5,393.0 1006.4,397.4 1024.4,397.9 1042.3,388.8 1060.3,392.8 1078.2,387.7 1096.2,374.7 1114.2,353.6 1132.1,318.9 1150.0,283.2 1168.0,254.4 1185.9,226.4 1203.9,203.1 1221.8,179.3 1239.8,160.5 1257.8,143.0 1275.7,123.7 1293.7,107.9 1311.6,92.0 1329.5,79.2 1347.5,78.2 1365.5,72.8 1383.4,70.0 1401.3,72.5 1419.3,75.3 1437.2,76.3 1455.2,81.4 1473.1,82.1 1491.1,89.0 1509.0,92.5 1527.0,100.8 1545.0,102.3 1562.9,105.5 1580.8,108.4 1598.8,114.9 1616.8,114.6 1634.7,116.6 1652.6,121.0 1670.6,124.0 1688.5,125.0 1706.5,127.3 1724.5,129.2 1742.4,131.5 1760.3,132.3 1778.3,134.3 1796.2,136.9 1814.2,136.3 1832.1,137.9 1850.1,140.3 1868.0,145.0 1886.0,147.3 1904.0,144.7 1921.9,146.6 1939.8,146.6 1957.8,147.0 1975.8,146.7 1993.7,152.9 2011.6,157.3 2029.6,162.7 2047.5,166.9 2065.5,169.0" fill="none" stroke="#808080" stroke-width="3" stroke-linejoin="round" stroke-linecap="butt" shape-rendering="crispEdges"/>
<polyline points="288.4,138.7 306.4,139.7 324.4,143.7 342.3,144.5 360.2,145.7 378.2,144.2 396.1,145.1 414.1,145.8 432.0,143.9 450.0,143.3 467.9,143.7 485.9,144.6 503.9,146.6 521.8,146.2 539.8,147.6 557.7,148.4 575.6,147.9 593.6,151.5 611.5,153.0 629.5,152.6 647.5,155.0 665.4,156.9 683.3,159.8 701.3,166.1 719.2,173.5 737.2,182.9 755.1,188.9 773.1,194.7 791.0,201.5 809.0,208.2 826.9,221.5 844.9,235.4 862.9,253.5 880.8,272.8 898.8,296.5 916.7,317.2 934.6,342.8 952.6,365.3 970.5,389.4 988.5,399.9 1006.4,403.6 1024.4,405.0 1042.3,395.4 1060.3,400.7 1078.2,394.4 1096.2,380.4 1114.2,354.9 1132.1,319.4 1150.0,284.5 1168.0,253.7 1185.9,226.2 1203.9,198.6 1221.8,178.7 1239.8,159.5 1257.8,140.8 1275.7,124.0 1293.7,105.1 1311.6,89.8 1329.5,78.7 1347.5,76.5 1365.5,70.5 1383.4,69.2 1401.3,72.2 1419.3,72.0 1437.2,74.7 1455.2,81.3 1473.1,84.0 1491.1,88.4 1509.0,92.4 1527.0,98.2 1545.0,102.0 1562.9,105.3 1580.8,109.0 1598.8,116.1 1616.8,115.2 1634.7,116.9 1652.6,121.2 1670.6,123.6 1688.5,125.4 1706.5,127.0 1724.5,129.1 1742.4,131.6 1760.3,132.5 1778.3,134.4 1796.2,137.2 1814.2,137.0 1832.1,140.2 1850.1,138.9 1868.0,143.5 1886.0,146.9 1904.0,146.2 1921.9,146.2 1939.8,143.5 1957.8,148.1 1975.8,148.7 1993.7,153.4 2011.6,158.0 2029.6,163.7 2047.5,165.6 2065.5,168.9" fill="none" stroke="#808080" stroke-width="3" stroke-linejoin="round" stroke-linecap="butt" shape-rendering="crispEdges"/>
<polyline points="288.4,139.5 306.4,141.9 324.4,142.4 342.3,144.4 360.2,145.8 378.2,144.6 396.1,144.9 414.1,144.9 432.0,145.4 450.0,144.1 467.9,144.9 485.9,146.9 503.9,146.7 521.8,145.0 539.8,146.0 557.7,147.4 575.6,146.9 593.6,147.9 611.5,149.5 629.5,150.4 647.5,155.0 665.4,153.5 683.3,160.2 701.3,164.6 719.2,173.3 737.2,183.7 755.1,189.6 773.1,194.5 791.0,200.8 809.0,207.5 826.9,221.9 844.9,234.1 862.9,254.1 880.8,275.3 898.8,297.5 916.7,319.9 934.6,343.8 952.6,368.4 970.5,391.6 988.5,403.2 1006.4,410.8 1024.4,410.7 1042.3,400.0 1060.3,404.8 1078.2,400.9 1096.2,385.9 1114.2,359.4 1132.1,321.1 1150.0,285.1 1168.0,255.1 1185.9,224.2 1203.9,199.1 1221.8,177.4 1239.8,158.9 1257.8,136.9 1275.7,121.1 1293.7,103.8 1311.6,90.1 1329.5,76.3 1347.5,74.6 1365.5,68.2 1383.4,68.6 1401.3,70.7 1419.3,73.8 1437.2,73.3 1455.2,78.9 1473.1,85.9 1491.1,88.4 1509.0,93.4 1527.0,99.8 1545.0,100.6 1562.9,108.1 1580.8,109.7 1598.8,115.2 1616.8,116.0 1634.7,117.3 1652.6,121.5 1670.6,124.6 1688.5,125.5 1706.5,127.9 1724.5,129.3 1742.4,131.9 1760.3,132.6 1778.3,135.4 1796.2,137.6 1814.2,137.4 1832.1,139.0 1850.1,139.4 1868.0,144.1 1886.0,146.1 1904.0,147.1 1921.9,145.8 1939.8,145.8 1957.8,146.5 1975.8,146.6 1993.7,154.7 2011.6,158.1 2029.6,162.9 2047.5,165.9 2065.5,168.7" fill="none" stroke="#808080" stroke-width="3" stroke-linejoin="round" stroke-linecap="butt" shape-rendering="crispEdges"/>
<polyline points="288.4,139.3 306.4,139.3 324.4,143.1 342.3,144.5 360.2,143.4 378.2,145.2 396.1,144.8 414.1,143.7 432.0,144.5 450.0,144.8 467.9,146.0 485.9,143.7 503.9,146.8 521.8,145.3 539.8,147.5 557.7,146.6 575.6,147.7 593.6,149.5 611.5,148.5 629.5,148.8 647.5,153.6 665.4,154.1 683.3,158.2 701.3,165.6 719.2,172.4 737.2,183.7 755.1,189.0 773.1,194.0 791.0,201.4 809.0,209.8 826.9,222.4 844.9,236.6 862.9,254.7 880.8,274.5 898.8,298.5 916.7,322.5 934.6,346.4 952.6,372.6 970.5,397.9 988.5,412.5 1006.4,417.1 1024.4,419.6 1042.3,406.7 1060.3,412.2 1078.2,406.4 1096.2,390.1 1114.2,363.4 1132.1,323.0 1150.0,285.0 1168.0,253.5 1185.9,222.6 1203.9,199.0 1221.8,176.1 1239.8,156.6 1257.8,138.4 1275.7,118.2 1293.7,103.0 1311.6,87.7 1329.5,75.3 1347.5,72.3 1365.5,69.0 1383.4,67.3 1401.3,67.9 1419.3,73.2 1437.2,72.7 1455.2,79.0 1473.1,81.2 1491.1,87.6 1509.0,94.1 1527.0,98.8 1545.0,103.5 1562.9,107.1 1580.8,109.6 1598.8,117.0 1616.8,116.2 1634.7,118.0 1652.6,122.1 1670.6,124.8 1688.5,125.8 1706.5,128.3 1724.5,130.2 1742.4,132.0 1760.3,132.7 1778.3,135.3 1796.2,136.8 1814.2,137.4 1832.1,138.6 1850.1,140.1 1868.0,144.5 1886.0,147.4 1904.0,146.5 1921.9,147.5 1939.8,145.8 1957.8,147.5 1975.8,148.4 1993.7,152.3 2011.6,157.5 2029.6,162.6 2047.5,166.1 2065.5,168.4" fill="none" stroke="#808080" stroke-width="3" stroke-linejoin="round" stroke-linecap="butt" shape-rendering="crispEdges"/>
<polyline points="288.4,139.1 306.4,139.2 324.4,143.0 342.3,144.5 360.2,143.8 378.2,143.9 396.1,142.1 414.1,144.8 432.0,144.3 450.0,142.3 467.9,144.7 485.9,144.2 503.9,145.9 521.8,143.7 539.8,147.2 557.7,147.1 575.6,147.3 593.6,147.5 611.5,149.9 629.5,151.6 647.5,153.6 665.4,155.0 683.3,157.1 701.3,164.7 719.2,172.5 737.2,182.3 755.1,190.6 773.1,193.7 791.0,200.7 809.0,210.1 826.9,221.8 844.9,237.3 862.9,256.8 880.8,275.2 898.8,298.7 916.7,321.7 934.6,348.6 952.6,373.6 970.5,401.5 988.5,416.2 1006.4,423.0 1024.4,423.6 1042.3,414.2 1060.3,418.7 1078.2,411.5 1096.2,394.0 1114.2,365.6 1132.1,323.8 1150.0,286.8 1168.0,252.9 1185.9,219.7 1203.9,195.9 1221.8,171.7 1239.8,155.1 1257.8,136.3 1275.7,119.4 1293.7,103.8 1311.6,84.9 1329.5,74.2 1347.5,72.9 1365.5,67.4 1383.4,65.7 1401.3,68.7 1419.3,71.0 1437.2,74.7 1455.2,78.6 1473.1,81.5 1491.1,87.1 1509.0,93.4 1527.0,99.2 1545.0,103.8 1562.9,108.2 1580.8,111.1 1598.8,117.7 1616.8,117.1 1634.7,119.0 1652.6,122.5 1670.6,125.7 1688.5,126.8 1706.5,128.6 1724.5,129.8 1742.4,132.9 1760.3,133.5 1778.3,135.7 1796.2,137.4 1814.2,137.9 1832.1,138.5 1850.1,139.8 1868.0,144.2 1886.0,146.3 1904.0,146.6 1921.9,146.2 1939.8,145.7 1957.8,145.9 1975.8,148.5 1993.7,153.4 2011.6,158.2 2029.6,162.3 2047.5,166.2 2065.5,169.2" fill="none" stroke="#808080" stroke-width="3" stroke-linejoin="round" stroke-linecap="butt" shape-rendering="crispEdges"/>
<polyline points="288.4,138.7 306.4,139.9 324.4,142.2 342.3,144.3 360.2,143.4 378.2,143.7 396.1,144.4 414.1,143.7 432.0,142.6 450.0,145.7 467.9,144.2 485.9,143.7 503.9,145.1 521.8,142.2 539.8,144.8 557.7,145.9 575.6,148.2 593.6,146.0 611.5,147.9 629.5,151.7 647.5,153.3 665.4,153.9 683.3,158.4 701.3,163.9 719.2,171.3 737.2,182.2 755.1,188.6 773.1,192.6 791.0,201.2 809.0,208.1 826.9,222.3 844.9,240.2 862.9,255.8 880.8,276.7 898.8,298.4 916.7,323.1 934.6,349.0 952.6,376.1 970.5,403.8 988.5,422.1 1006.4,430.0 1024.4,432.8 1042.3,417.6 1060.3,424.7 1078.2,416.8 1096.2,399.2 1114.2,367.6 1132.1,325.3 1150.0,286.6 1168.0,252.8 1185.9,220.2 1203.9,194.7 1221.8,172.9 1239.8,153.5 1257.8,134.8 1275.7,115.6 1293.7,99.9 1311.6,84.6 1329.5,71.1 1347.5,71.4 1365.5,65.3 1383.4,64.9 1401.3,64.5 1419.3,68.0 1437.2,71.7 1455.2,77.6 1473.1,80.4 1491.1,87.9 1509.0,94.1 1527.0,100.0 1545.0,102.5 1562.9,109.5 1580.8,111.2 1598.8,118.0 1616.8,117.2 1634.7,119.3 1652.6,123.8 1670.6,126.2 1688.5,127.3 1706.5,129.5 1724.5,131.4 1742.4,133.1 1760.3,134.1 1778.3,136.5 1796.2,137.9 1814.2,137.7 1832.1,138.4 1850.1,140.8 1868.0,143.6 1886.0,147.1 1904.0,145.9 1921.9,146.9 1939.8,146.5 1957.8,145.4 1975.8,146.8 1993.7,152.4 2011.6,157.0 2029.6,163.7 2047.5,165.6 2065.5,169.1" fill="none" stroke="#808080" stroke-width="3" stroke-linejoin="round" stroke-linecap="butt" shape-rendering="crispEdges"/>
<polyline points="288.4,137.0 306.4,139.3 324.4,141.1 342.3,143.9 360.2,143.1 378.2,144.5 396.1,143.2 414.1,141.5 432.0,143.9 450.0,143.3 467.9,142.4 485.9,146.2 503.9,145.2 521.8,143.1 539.8,145.3 557.7,146.1 575.6,146.2 593.6,148.8 611.5,149.1 629.5,148.3 647.5,152.1 665.4,153.6 683.3,156.2 701.3,162.9 719.2,171.6 737.2,181.2 755.1,186.3 773.1,192.2 791.0,200.1 809.0,209.1 826.9,222.2 844.9,238.6 862.9,255.5 880.8,275.1 898.8,299.7 916.7,321.7 934.6,349.7 952.6,379.0 970.5,404.8 988.5,423.8 1006.4,435.7 1024.4,437.6 1042.3,424.0 1060.3,429.2 1078.2,420.6 1096.2,401.9 1114.2,370.3 1132.1,329.2 1150.0,286.1 1168.0,251.2 1185.9,219.0 1203.9,194.3 1221.8,170.3 1239.8,150.8 1257.8,134.2 1275.7,113.3 1293.7,98.2 1311.6,83.7 1329.5,72.3 1347.5,68.1 1365.5,65.5 1383.4,63.5 1401.3,67.6 1419.3,69.4 1437.2,71.9 1455.2,78.7 1473.1,82.0 1491.1,86.9 1509.0,96.4 1527.0,100.4 1545.0,106.2 1562.9,108.5 1580.8,111.1 1598.8,118.0 1616.8,118.1 1634.7,120.4 1652.6,125.0 1670.6,126.8 1688.5,127.4 1706.5,129.8 1724.5,131.3 1742.4,134.3 1760.3,134.0 1778.3,137.0 1796.2,138.8 1814.2,139.3 1832.1,139.1 1850.1,140.2 1868.0,144.7 1886.0,146.2 1904.0,145.0 1921.9,145.1 1939.8,145.4 1957.8,146.4 1975.8,148.8 1993.7,152.2 2011.6,157.2 2029.6,163.5 2047.5,166.0 2065.5,169.3" fill="none" stroke="#808080" stroke-width="3" stroke-linejoin="round" stroke-linecap="butt" shape-rendering="crispEdges"/>
<polyline points="288.4,139.1 306.4,138.4 324.4,142.4 342.3,143.0 360.2,144.1 378.2,144.0 396.1,143.6 414.1,144.1 432.0,141.7 450.0,142.8 467.9,143.3 485.9,142.4 503.9,144.4 521.8,146.7 539.8,146.0 557.7,144.7 575.6,145.1 593.6,148.6 611.5,144.7 629.5,148.2 647.5,152.2 665.4,151.9 683.3,156.7 701.3,161.8 719.2,169.9 737.2,180.1 755.1,186.5 773.1,191.8 791.0,199.8 809.0,209.7 826.9,222.5 844.9,236.6 862.9,256.3 880.8,276.0 898.8,298.1 916.7,322.4 934.6,350.2 952.6,380.2 970.5,408.1 988.5,428.2 1006.4,442.7 1024.4,444.1 1042.3,429.5 1060.3,433.8 1078.2,427.5 1096.2,404.4 1114.2,374.0 1132.1,328.3 1150.0,286.8 1168.0,250.3 1185.9,219.0 1203.9,191.3 1221.8,170.2 1239.8,151.4 1257.8,132.0 1275.7,111.6 1293.7,98.1 1311.6,81.7 1329.5,69.3 1347.5,67.1 1365.5,62.5 1383.4,62.2 1401.3,65.9 1419.3,68.6 1437.2,72.7 1455.2,78.3 1473.1,80.0 1491.1,87.8 1509.0,96.6 1527.0,100.0 1545.0,105.8 1562.9,108.8 1580.8,112.4 1598.8,119.4 1616.8,119.3 1634.7,121.1 1652.6,125.2 1670.6,127.8 1688.5,127.6 1706.5,131.1 1724.5,132.1 1742.4,134.7 1760.3,135.3 1778.3,136.7 1796.2,139.1 1814.2,138.1 1832.1,139.0 1850.1,140.3 1868.0,144.6 1886.0,147.0 1904.0,146.9 1921.9,145.8 1939.8,144.8 1957.8,148.0 1975.8,145.9 1993.7,152.8 2011.6,158.9 2029.6,164.0 2047.5,166.9 2065.5,169.1" fill="none" stroke="#808080" stroke-width="3" stroke-linejoin="round" stroke-linecap="butt" shape-rendering="crispEdges"/>
<polyline points="288.4,138.1 306.4,138.6 324.4,140.9 342.3,143.1 360.2,142.6 378.2,143.5 396.1,144.3 414.1,142.6 432.0,143.6 450.0,142.6 467.9,141.9 485.9,140.8 503.9,146.1 521.8,144.8 539.8,145.2 557.7,144.8 575.6,144.5 593.6,147.3 611.5,147.0 629.5,148.6 647.5,151.3 665.4,150.6 683.3,154.1 701.3,162.7 719.2,167.5 737.2,179.5 755.1,186.3 773.1,190.4 791.0,199.5 809.0,208.6 826.9,223.2 844.9,236.6 862.9,256.6 880.8,276.9 898.8,301.6 916.7,325.4 934.6,352.9 952.6,380.1 970.5,411.5 988.5,431.8 1006.4,444.8 1024.4,449.0 1042.3,436.6 1060.3,440.6 1078.2,431.2 1096.2,408.8 1114.2,376.5 1132.1,328.0 1150.0,286.1 1168.0,252.0 1185.9,217.1 1203.9,193.2 1221.8,170.4 1239.8,151.3 1257.8,131.4 1275.7,110.7 1293.7,96.4 1311.6,80.5 1329.5,69.1 1347.5,67.2 1365.5,63.7 1383.4,63.0 1401.3,63.1 1419.3,67.0 1437.2,69.3 1455.2,79.3 1473.1,81.3 1491.1,87.8 1509.0,93.2 1527.0,101.2 1545.0,106.7 1562.9,110.0 1580.8,113.6 1598.8,119.9 1616.8,120.6 1634.7,121.4 1652.6,125.3 1670.6,128.1 1688.5,128.9 1706.5,131.6 1724.5,132.6 1742.4,135.1 1760.3,135.8 1778.3,137.7 1796.2,138.7 1814.2,139.8 1832.1,141.0 1850.1,139.4 1868.0,144.9 1886.0,147.8 1904.0,146.8 1921.9,147.5 1939.8,142.7 1957.8,144.5 1975.8,146.6 1993.7,152.9 2011.6,157.3 2029.6,163.4 2047.5,166.1 2065.5,169.5" fill="none" stroke="#808080" stroke-width="3" stroke-linejoin="round" stroke-linecap="butt" shape-rendering="crispEdges"/>
<polyline points="288.4,135.9 306.4,138.7 324.4,141.3 342.3,143.3 360.2,145.0 378.2,142.8 396.1,144.9 414.1,143.0 432.0,144.5 450.0,144.8 467.9,142.0 485.9,143.7 503.9,145.3 521.8,143.0 539.8,146.2 557.7,145.6 575.6,144.8 593.6,146.6 611.5,147.6 629.5,147.5 647.5,150.1 665.4,153.3 683.3,154.3 701.3,162.1 719.2,169.6 737.2,179.1 755.1,183.5 773.1,190.1 791.0,198.6 809.0,208.0 826.9,223.1 844.9,237.6 862.9,256.8 880.8,276.8 898.8,300.9 916.7,326.3 934.6,351.1 952.6,384.9 970.5,412.8 988.5,436.8 1006.4,448.0 1024.4,453.7 1042.3,440.0 1060.3,446.6 1078.2,436.7 1096.2,412.2 1114.2,377.1 1132.1,330.4 1150.0,285.6 1168.0,249.7 1185.9,215.9 1203.9,192.4 1221.8,168.6 1239.8,147.1 1257.8,129.6 1275.7,111.9 1293.7,96.8 1311.6,78.5 1329.5,67.6 1347.5,67.9 1365.5,60.6 1383.4,60.8 1401.3,64.1 1419.3,66.6 1437.2,71.1 1455.2,77.0 1473.1,80.8 1491.1,89.2 1509.0,94.9 1527.0,101.3 1545.0,106.8 1562.9,111.1 1580.8,115.0 1598.8,121.7 1616.8,121.5 1634.7,122.1 1652.6,126.7 1670.6,128.5 1688.5,130.0 1706.5,132.7 1724.5,133.2 1742.4,135.9 1760.3,136.2 1778.3,137.6 1796.2,139.9 1814.2,140.2 1832.1,139.8 1850.1,142.0 1868.0,145.3 1886.0,146.7 1904.0,146.3 1921.9,146.7 1939.8,145.1 1957.8,145.4 1975.8,148.9 1993.7,152.2 2011.6,158.6 2029.6,163.6 2047.5,165.5 2065.5,169.0" fill="none" stroke="#808080" stroke-width="3" stroke-linejoin="round" stroke-linecap="butt" shape-rendering="crispEdges"/>
<polyline points="288.4,135.4 306.4,138.0 324.4,141.6 342.3,142.3 360.2,143.3 378.2,144.8 396.1,141.7 414.1,144.1 432.0,143.2 450.0,143.9 467.9,141.4 485.9,143.8 503.9,143.8 521.8,145.4 539.8,144.5 557.7,145.3 575.6,144.7 593.6,146.5 611.5,144.8 629.5,147.5 647.5,151.1 665.4,151.3 683.3,156.5 701.3,161.6 719.2,168.5 737.2,177.9 755.1,185.1 773.1,189.0 791.0,197.8 809.0,207.4 826.9,222.7 844.9,237.1 862.9,257.4 880.8,276.7 898.8,299.3 916.7,325.1 934.6,353.9 952.6,381.3 970.5,416.6 988.5,438.5 1006.4,453.7 1024.4,459.8 1042.3,446.6 1060.3,449.2 1078.2,440.0 1096.2,416.8 1114.2,380.3 1132.1,332.2 1150.0,286.0 1168.0,249.7 1185.9,217.0 1203.9,192.3 1221.8,167.7 1239.8,146.4 1257.8,126.3 1275.7,111.8 1293.7,92.8 1311.6,78.5 1329.5,67.0 1347.5,68.1 1365.5,60.2 1383.4,60.2 1401.3,63.5 1419.3,67.2 1437.2,72.2 1455.2,78.2 1473.1,81.0 1491.1,86.4 1509.0,96.1 1527.0,102.3 1545.0,109.3 1562.9,111.0 1580.8,115.9 1598.8,122.0 1616.8,121.6 1634.7,124.4 1652.6,127.9 1670.6,130.1 1688.5,131.2 1706.5,133.1 1724.5,134.2 1742.4,136.7 1760.3,138.0 1778.3,138.9 1796.2,140.5 1814.2,140.3 1832.1,140.8 1850.1,141.2 1868.0,144.8 1886.0,148.0 1904.0,146.2 1921.9,145.6 1939.8,145.9 1957.8,143.8 1975.8,147.7 1993.7,151.2 2011.6,157.4 2029.6,163.2 2047.5,166.7 2065.5,169.3" fill="none" stroke="#808080" stroke-width="3" stroke-linejoin="round" stroke-linecap="butt" shape-rendering="crispEdges"/>
<polyline points="288.4,136.1 306.4,137.2 324.4,143.4 342.3,144.5 360.2,144.5 378.2,145.5 396.1,143.9 414.1,141.6 432.0,142.4 450.0,142.0 467.9,145.1 485.9,142.1 503.9,145.6 521.8,143.6 539.8,145.0 557.7,145.0 575.6,145.4 593.6,145.6 611.5,144.8 629.5,146.3 647.5,149.2 665.4,150.2 683.3,154.8 701.3,160.6 719.2,167.4 737.2,176.4 755.1,184.2 773.1,188.0 791.0,196.8 809.0,207.8 826.9,220.9 844.9,236.7 862.9,257.4 880.8,276.3 898.8,299.5 916.7,326.3 934.6,354.2 952.6,384.0 970.5,415.6 988.5,441.5 1006.4,456.6 1024.4,463.7 1042.3,451.4 1060.3,456.1 1078.2,445.4 1096.2,417.8 1114.2,380.6 1132.1,330.7 1150.0,285.6 1168.0,249.1 1185.9,216.0 1203.9,190.7 1221.8,167.6 1239.8,146.4 1257.8,124.6 1275.7,110.5 1293.7,94.9 1311.6,78.1 1329.5,66.1 1347.5,65.0 1365.5,61.9 1383.4,59.9 1401.3,64.0 1419.3,67.1 1437.2,71.4 1455.2,77.4 1473.1,81.6 1491.1,87.8 1509.0,96.9 1527.0,103.3 1545.0,107.4 1562.9,112.5 1580.8,116.2 1598.8,124.3 1616.8,123.0 1634.7,124.8 1652.6,128.3 1670.6,130.8 1688.5,132.3 1706.5,134.2 1724.5,135.3 1742.4,138.3 1760.3,138.7 1778.3,139.7 1796.2,141.0 1814.2,140.3 1832.1,141.1 1850.1,142.9 1868.0,145.3 1886.0,147.8 1904.0,144.5 1921.9,144.8 1939.8,145.1 1957.8,146.1 1975.8,147.5 1993.7,152.2 2011.6,157.8 2029.6,163.1 2047.5,165.9 2065.5,170.0" fill="none" stroke="#808080" stroke-width="3" stroke-linejoin="round" stroke-linecap="butt" shape-rendering="crispEdges"/>
<polyline points="288.4,138.6 306.4,138.8 324.4,140.8 342.3,143.3 360.2,144.6 378.2,143.3 396.1,141.9 414.1,145.3 432.0,143.0 450.0,143.0 467.9,142.2 485.9,142.8 503.9,146.3 521.8,143.3 539.8,145.7 557.7,145.7 575.6,147.4 593.6,146.8 611.5,145.8 629.5,146.2 647.5,150.9 665.4,151.9 683.3,153.8 701.3,160.9 719.2,165.9 737.2,174.1 755.1,181.0 773.1,187.7 791.0,196.8 809.0,206.8 826.9,220.9 844.9,235.5 862.9,256.7 880.8,276.6 898.8,298.1 916.7,326.1 934.6,353.4 952.6,385.9 970.5,418.8 988.5,445.2 1006.4,463.3 1024.4,470.2 1042.3,456.9 1060.3,459.7 1078.2,449.8 1096.2,421.8 1114.2,381.1 1132.1,330.6 1150.0,287.4 1168.0,251.6 1185.9,215.7 1203.9,189.4 1221.8,166.6 1239.8,143.1 1257.8,125.6 1275.7,109.9 1293.7,93.6 1311.6,74.1 1329.5,65.6 1347.5,63.7 1365.5,59.4 1383.4,58.8 1401.3,61.9 1419.3,64.8 1437.2,70.9 1455.2,78.5 1473.1,81.2 1491.1,89.7 1509.0,96.3 1527.0,105.5 1545.0,110.6 1562.9,112.0 1580.8,118.3 1598.8,125.2 1616.8,124.0 1634.7,125.8 1652.6,129.9 1670.6,131.8 1688.5,132.8 1706.5,135.8 1724.5,136.3 1742.4,139.1 1760.3,139.1 1778.3,140.5 1796.2,141.5 1814.2,141.1 1832.1,142.8 1850.1,142.9 1868.0,146.5 1886.0,147.7 1904.0,145.5 1921.9,146.3 1939.8,145.1 1957.8,143.7 1975.8,147.4 1993.7,152.9 2011.6,158.6 2029.6,163.1 2047.5,167.4 2065.5,170.1" fill="none" stroke="#808080" stroke-width="3" stroke-linejoin="round" stroke-linecap="butt" shape-rendering="crispEdges"/>
<polyline points="288.4,135.6 306.4,137.6 324.4,142.3 342.3,144.8 360.2,144.6 378.2,143.7 396.1,143.7 414.1,143.5 432.0,142.1 450.0,144.1 467.9,140.4 485.9,143.1 503.9,146.8 521.8,143.6 539.8,144.4 557.7,147.0 575.6,146.5 593.6,145.9 611.5,145.0 629.5,146.1 647.5,149.4 665.4,150.3 683.3,153.2 701.3,160.2 719.2,164.6 737.2,172.8 755.1,179.5 773.1,186.1 791.0,194.8 809.0,203.5 826.9,222.0 844.9,236.2 862.9,255.3 880.8,275.5 898.8,300.1 916.7,326.8 934.6,353.7 952.6,386.1 970.5,418.6 988.5,447.0 1006.4,464.6 1024.4,472.2 1042.3,463.3 1060.3,465.5 1078.2,453.4 1096.2,423.2 1114.2,385.6 1132.1,333.5 1150.0,287.9 1168.0,248.6 1185.9,215.9 1203.9,189.0 1221.8,165.8 1239.8,146.2 1257.8,124.1 1275.7,106.9 1293.7,93.8 1311.6,73.9 1329.5,63.0 1347.5,62.9 1365.5,59.1 1383.4,57.8 1401.3,61.5 1419.3,64.4 1437.2,70.0 1455.2,78.7 1473.1,82.7 1491.1,89.6 1509.0,97.8 1527.0,105.2 1545.0,110.6 1562.9,114.9 1580.8,118.7 1598.8,126.3 1616.8,125.0 1634.7,127.5 1652.6,131.9 1670.6,134.0 1688.5,134.9 1706.5,136.0 1724.5,137.2 1742.4,139.2 1760.3,139.3 1778.3,140.2 1796.2,141.6 1814.2,141.6 1832.1,142.5 1850.1,143.1 1868.0,147.2 1886.0,148.8 1904.0,145.7 1921.9,145.9 1939.8,145.3 1957.8,146.8 1975.8,146.7 1993.7,152.1 2011.6,158.0 2029.6,164.5 2047.5,166.6 2065.5,169.9" fill="none" stroke="#808080" stroke-width="3" stroke-linejoin="round" stroke-linecap="butt" shape-rendering="crispEdges"/>
<polyline points="288.4,136.2 306.4,138.9 324.4,139.9 342.3,144.4 360.2,144.3 378.2,143.3 396.1,144.3 414.1,144.6 432.0,146.5 450.0,143.8 467.9,144.2 485.9,143.3 503.9,144.3 521.8,145.8 539.8,147.9 557.7,144.2 575.6,145.5 593.6,147.2 611.5,145.6 629.5,143.6 647.5,150.6 665.4,150.2 683.3,154.4 701.3,158.2 719.2,165.2 737.2,174.2 755.1,178.7 773.1,185.1 791.0,193.9 809.0,204.2 826.9,218.8 844.9,234.8 862.9,254.8 880.8,277.1 898.8,299.3 916.7,324.3 934.6,356.0 952.6,386.8 970.5,421.3 988.5,448.6 1006.4,469.8 1024.4,478.4 1042.3,467.6 1060.3,470.4 1078.2,456.7 1096.2,426.5 1114.2,386.5 1132.1,332.4 1150.0,287.2 1168.0,248.0 1185.9,213.7 1203.9,189.2 1221.8,165.3 1239.8,144.1 1257.8,126.2 1275.7,107.5 1293.7,92.3 1311.6,76.1 1329.5,62.5 1347.5,60.6 1365.5,57.2 1383.4,58.7 1401.3,61.4 1419.3,64.3 1437.2,68.8 1455.2,77.0 1473.1,81.9 1491.1,90.9 1509.0,98.1 1527.0,106.9 1545.0,111.4 1562.9,118.0 1580.8,120.6 1598.8,127.6 1616.8,126.7 1634.7,128.5 1652.6,132.8 1670.6,134.9 1688.5,135.7 1706.5,137.3 1724.5,138.3 1742.4,141.0 1760.3,140.5 1778.3,141.6 1796.2,142.7 1814.2,141.6 1832.1,142.7 1850.1,143.7 1868.0,147.3 1886.0,148.7 1904.0,145.9 1921.9,145.1 1939.8,147.1 1957.8,145.2 1975.8,147.3 1993.7,152.2 2011.6,158.6 2029.6,163.4 2047.5,166.5 2065.5,170.5" fill="none" stroke="#808080" stroke-width="3" stroke-linejoin="round" stroke-linecap="butt" shape-rendering="crispEdges"/>
<polyline points="288.4,136.4 306.4,139.1 324.4,141.8 342.3,145.6 360.2,144.5 378.2,144.7 396.1,143.4 414.1,142.7 432.0,142.3 450.0,143.0 467.9,142.6 485.9,144.1 503.9,147.3 521.8,143.7 539.8,146.6 557.7,145.5 575.6,145.0 593.6,145.2 611.5,145.8 629.5,146.4 647.5,149.1 665.4,150.0 683.3,153.4 701.3,157.3 719.2,163.5 737.2,172.4 755.1,179.1 773.1,183.0 791.0,192.7 809.0,203.6 826.9,218.3 844.9,234.2 862.9,255.1 880.8,275.3 898.8,299.4 916.7,325.9 934.6,353.0 952.6,387.1 970.5,418.8 988.5,452.0 1006.4,473.0 1024.4,482.0 1042.3,474.7 1060.3,474.6 1078.2,460.5 1096.2,429.4 1114.2,387.2 1132.1,334.7 1150.0,287.5 1168.0,248.4 1185.9,213.3 1203.9,187.5 1221.8,163.0 1239.8,145.9 1257.8,125.7 1275.7,105.6 1293.7,91.2 1311.6,74.5 1329.5,60.0 1347.5,60.3 1365.5,56.4 1383.4,59.1 1401.3,61.8 1419.3,66.6 1437.2,70.8 1455.2,79.1 1473.1,82.0 1491.1,91.3 1509.0,99.4 1527.0,105.5 1545.0,112.8 1562.9,119.0 1580.8,123.0 1598.8,129.4 1616.8,127.9 1634.7,129.6 1652.6,133.4 1670.6,136.3 1688.5,136.0 1706.5,138.3 1724.5,138.7 1742.4,141.5 1760.3,141.5 1778.3,142.2 1796.2,143.2 1814.2,142.3 1832.1,143.8 1850.1,142.3 1868.0,147.4 1886.0,149.1 1904.0,147.0 1921.9,147.4 1939.8,145.5 1957.8,145.9 1975.8,148.7 1993.7,153.7 2011.6,158.8 2029.6,163.8 2047.5,165.9 2065.5,170.4" fill="none" stroke="#808080" stroke-width="3" stroke-linejoin="round" stroke-linecap="butt" shape-rendering="crispEdges"/>
<polyline points="288.4,136.5 306.4,137.5 324.4,141.8 342.3,143.8 360.2,144.7 378.2,144.1 396.1,145.1 414.1,144.5 432.0,144.3 450.0,145.9 467.9,144.9 485.9,143.7 503.9,144.9 521.8,144.3 539.8,145.5 557.7,143.6 575.6,144.2 593.6,144.5 611.5,144.7 629.5,147.2 647.5,151.0 665.4,149.0 683.3,152.6 701.3,156.7 719.2,160.7 737.2,170.7 755.1,176.5 773.1,181.9 791.0,191.9 809.0,202.2 826.9,219.1 844.9,233.3 862.9,255.4 880.8,275.0 898.8,299.3 916.7,325.9 934.6,353.3 952.6,385.9 970.5,421.5 988.5,451.4 1006.4,474.9 1024.4,485.6 1042.3,477.3 1060.3,478.8 1078.2,463.6 1096.2,429.8 1114.2,389.1 1132.1,335.9 1150.0,287.7 1168.0,249.1 1185.9,212.4 1203.9,190.1 1221.8,163.7 1239.8,144.2 1257.8,125.1 1275.7,106.8 1293.7,90.4 1311.6,72.9 1329.5,61.2 1347.5,60.6 1365.5,57.3 1383.4,56.3 1401.3,61.1 1419.3,65.6 1437.2,70.7 1455.2,77.9 1473.1,83.5 1491.1,89.5 1509.0,99.5 1527.0,108.0 1545.0,113.1 1562.9,119.4 1580.8,123.5 1598.8,129.8 1616.8,129.9 1634.7,130.8 1652.6,135.9 1670.6,136.8 1688.5,137.3 1706.5,139.6 1724.5,140.5 1742.4,142.8 1760.3,142.3 1778.3,143.1 1796.2,144.8 1814.2,143.5 1832.1,143.4 1850.1,143.6 1868.0,147.0 1886.0,149.3 1904.0,148.2 1921.9,145.2 1939.8,143.3 1957.8,145.8 1975.8,144.8 1993.7,154.0 2011.6,157.6 2029.6,163.4 2047.5,166.6 2065.5,170.8" fill="none" stroke="#808080" stroke-width="3" stroke-linejoin="round" stroke-linecap="butt" shape-rendering="crispEdges"/>
<polyline points="288.4,137.8 306.4,137.0 324.4,140.6 342.3,145.8 360.2,144.0 378.2,144.7 396.1,144.3 414.1,145.9 432.0,145.4 450.0,142.1 467.9,144.9 485.9,145.8 503.9,146.3 521.8,145.0 539.8,145.5 557.7,145.5 575.6,146.5 593.6,147.7 611.5,146.7 629.5,145.3 647.5,148.3 665.4,150.9 683.3,150.1 701.3,156.1 719.2,162.0 737.2,171.4 755.1,174.4 773.1,180.8 791.0,190.0 809.0,201.2 826.9,216.9 844.9,232.4 862.9,254.5 880.8,274.8 898.8,299.5 916.7,325.1 934.6,353.5 952.6,387.0 970.5,422.9 988.5,452.1 1006.4,478.5 1024.4,490.5 1042.3,483.2 1060.3,483.1 1078.2,466.1 1096.2,431.6 1114.2,389.8 1132.1,336.6 1150.0,286.9 1168.0,248.0 1185.9,212.8 1203.9,188.5 1221.8,165.6 1239.8,142.9 1257.8,124.4 1275.7,106.1 1293.7,90.4 1311.6,74.7 1329.5,60.3 1347.5,58.0 1365.5,55.4 1383.4,55.0 1401.3,61.9 1419.3,64.4 1437.2,70.4 1455.2,79.0 1473.1,84.2 1491.1,91.3 1509.0,100.0 1527.0,109.5 1545.0,114.4 1562.9,121.9 1580.8,124.9 1598.8,130.5 1616.8,131.4 1634.7,131.6 1652.6,136.4 1670.6,139.4 1688.5,139.3 1706.5,140.7 1724.5,141.2 1742.4,143.6 1760.3,143.7 1778.3,143.8 1796.2,145.3 1814.2,143.7 1832.1,144.0 1850.1,144.0 1868.0,149.1 1886.0,148.7 1904.0,146.1 1921.9,147.2 1939.8,145.6 1957.8,144.3 1975.8,146.3 1993.7,151.7 2011.6,159.1 2029.6,163.5 2047.5,167.4 2065.5,170.8" fill="none" stroke="#808080" stroke-width="3" stroke-linejoin="round" stroke-linecap="butt" shape-rendering="crispEdges"/>
<polyline points="288.4,137.9 306.4,139.3 324.4,143.2 342.3,146.8 360.2,146.4 378.2,145.7 396.1,146.3 414.1,145.5 432.0,145.6 450.0,144.9 467.9,144.1 485.9,145.9 503.9,149.1 521.8,147.6 539.8,145.6 557.7,146.5 575.6,145.9 593.6,146.2 611.5,145.0 629.5,145.3 647.5,148.6 665.4,149.5 683.3,152.9 701.3,155.8 719.2,159.2 737.2,167.2 755.1,172.7 773.1,179.5 791.0,188.5 809.0,200.0 826.9,216.1 844.9,233.1 862.9,253.6 880.8,275.7 898.8,298.8 916.7,325.5 934.6,355.5 952.6,385.5 970.5,422.8 988.5,455.4 1006.4,479.3 1024.4,493.1 1042.3,490.2 1060.3,487.0 1078.2,470.7 1096.2,431.8 1114.2,389.8 1132.1,335.6 1150.0,287.6 1168.0,249.3 1185.9,212.7 1203.9,187.4 1221.8,161.1 1239.8,144.1 1257.8,125.1 1275.7,106.0 1293.7,89.0 1311.6,73.3 1329.5,61.8 1347.5,60.4 1365.5,57.3 1383.4,55.8 1401.3,58.7 1419.3,65.6 1437.2,72.2 1455.2,78.6 1473.1,84.5 1491.1,91.7 1509.0,99.5 1527.0,108.8 1545.0,113.8 1562.9,121.8 1580.8,126.5 1598.8,133.6 1616.8,132.3 1634.7,133.6 1652.6,137.0 1670.6,139.3 1688.5,140.6 1706.5,143.3 1724.5,142.3 1742.4,144.6 1760.3,144.5 1778.3,144.7 1796.2,145.8 1814.2,144.1 1832.1,144.4 1850.1,145.1 1868.0,148.5 1886.0,149.2 1904.0,147.8 1921.9,146.4 1939.8,144.1 1957.8,144.8 1975.8,147.8 1993.7,152.1 2011.6,158.8 2029.6,164.5 2047.5,166.8 2065.5,171.1" fill="none" stroke="#808080" stroke-width="3" stroke-linejoin="round" stroke-linecap="butt" shape-rendering="crispEdges"/>
<polyline points="288.4,136.5 306.4,139.9 324.4,143.5 342.3,148.1 360.2,146.9 378.2,146.8 396.1,145.8 414.1,144.9 432.0,144.2 450.0,144.8 467.9,146.1 485.9,145.4 503.9,148.1 521.8,147.5 539.8,148.9 557.7,147.6 575.6,148.2 593.6,145.7 611.5,145.0 629.5,145.9 647.5,150.3 665.4,150.3 683.3,151.7 701.3,156.3 719.2,157.7 737.2,167.5 755.1,170.6 773.1,177.7 791.0,187.8 809.0,199.4 826.9,213.3 844.9,231.7 862.9,252.7 880.8,274.0 898.8,300.3 916.7,325.5 934.6,353.3 952.6,386.0 970.5,423.4 988.5,454.8 1006.4,479.8 1024.4,494.6 1042.3,492.2 1060.3,490.0 1078.2,472.8 1096.2,435.0 1114.2,391.0 1132.1,337.6 1150.0,286.2 1168.0,247.4 1185.9,214.3 1203.9,187.1 1221.8,163.7 1239.8,144.0 1257.8,122.8 1275.7,105.1 1293.7,87.6 1311.6,73.1 1329.5,60.0 1347.5,59.0 1365.5,52.3 1383.4,57.1 1401.3,60.6 1419.3,64.4 1437.2,72.3 1455.2,77.0 1473.1,84.9 1491.1,91.2 1509.0,104.2 1527.0,107.8 1545.0,115.8 1562.9,122.2 1580.8,128.2 1598.8,135.2 1616.8,134.3 1634.7,135.2 1652.6,140.0 1670.6,141.0 1688.5,141.7 1706.5,144.2 1724.5,143.5 1742.4,145.6 1760.3,145.6 1778.3,146.0 1796.2,146.0 1814.2,144.9 1832.1,146.2 1850.1,144.8 1868.0,149.4 1886.0,150.2 1904.0,146.7 1921.9,147.9 1939.8,145.6 1957.8,146.7 1975.8,147.0 1993.7,152.9 2011.6,159.0 2029.6,164.3 2047.5,166.8 2065.5,170.9" fill="none" stroke="#808080" stroke-width="3" stroke-linejoin="round" stroke-linecap="butt" shape-rendering="crispEdges"/>
<polyline points="288.4,139.4 306.4,138.5 324.4,142.8 342.3,146.7 360.2,146.9 378.2,145.2 396.1,145.6 414.1,147.2 432.0,145.1 450.0,145.2 467.9,147.5 485.9,145.4 503.9,149.6 521.8,147.4 539.8,146.7 557.7,146.6 575.6,146.7 593.6,148.3 611.5,146.5 629.5,145.2 647.5,147.9 665.4,148.0 683.3,152.1 701.3,154.5 719.2,158.0 737.2,165.1 755.1,170.4 773.1,176.3 791.0,185.8 809.0,197.5 826.9,213.4 844.9,231.6 862.9,253.1 880.8,275.4 898.8,299.8 916.7,324.3 934.6,353.1 952.6,387.6 970.5,423.8 988.5,454.3 1006.4,483.7 1024.4,498.9 1042.3,496.9 1060.3,494.0 1078.2,472.8 1096.2,435.0 1114.2,390.4 1132.1,335.4 1150.0,287.3 1168.0,247.8 1185.9,209.9 1203.9,186.5 1221.8,164.0 1239.8,140.5 1257.8,123.0 1275.7,103.9 1293.7,87.0 1311.6,73.4 1329.5,61.2 1347.5,58.6 1365.5,54.1 1383.4,57.2 1401.3,61.0 1419.3,65.2 1437.2,72.2 1455.2,79.9 1473.1,85.1 1491.1,94.1 1509.0,101.8 1527.0,112.0 1545.0,117.9 1562.9,123.9 1580.8,129.0 1598.8,136.6 1616.8,136.1 1634.7,137.1 1652.6,140.3 1670.6,143.0 1688.5,142.7 1706.5,144.6 1724.5,145.1 1742.4,147.2 1760.3,146.5 1778.3,147.0 1796.2,147.7 1814.2,146.0 1832.1,145.5 1850.1,146.0 1868.0,149.3 1886.0,150.7 1904.0,147.9 1921.9,146.4 1939.8,143.1 1957.8,145.3 1975.8,146.8 1993.7,152.7 2011.6,158.6 2029.6,163.5 2047.5,166.3 2065.5,171.3" fill="none" stroke="#808080" stroke-width="3" stroke-linejoin="round" stroke-linecap="butt" shape-rendering="crispEdges"/>
<polyline points="288.4,139.2 306.4,140.3 324.4,143.7 342.3,149.2 360.2,148.6 378.2,147.0 396.1,147.8 414.1,147.0 432.0,146.8 450.0,146.8 467.9,147.0 485.9,147.4 503.9,148.9 521.8,148.2 539.8,149.9 557.7,146.7 575.6,147.1 593.6,146.4 611.5,146.7 629.5,145.4 647.5,150.1 665.4,149.0 683.3,153.0 701.3,154.9 719.2,156.8 737.2,164.3 755.1,168.2 773.1,173.8 791.0,184.5 809.0,195.6 826.9,213.6 844.9,232.1 862.9,251.2 880.8,273.1 898.8,296.7 916.7,323.8 934.6,355.2 952.6,387.4 970.5,423.1 988.5,455.8 1006.4,482.5 1024.4,499.3 1042.3,502.1 1060.3,496.8 1078.2,477.3 1096.2,437.6 1114.2,392.0 1132.1,336.3 1150.0,287.4 1168.0,247.7 1185.9,212.9 1203.9,188.7 1221.8,164.1 1239.8,140.0 1257.8,123.2 1275.7,105.3 1293.7,89.7 1311.6,72.3 1329.5,59.3 1347.5,58.2 1365.5,54.2 1383.4,55.2 1401.3,61.3 1419.3,66.1 1437.2,71.8 1455.2,81.4 1473.1,88.2 1491.1,94.0 1509.0,103.1 1527.0,112.3 1545.0,118.4 1562.9,125.3 1580.8,130.5 1598.8,138.4 1616.8,137.6 1634.7,138.9 1652.6,141.9 1670.6,144.7 1688.5,144.2 1706.5,146.4 1724.5,147.0 1742.4,148.6 1760.3,147.8 1778.3,148.5 1796.2,148.5 1814.2,146.2 1832.1,146.2 1850.1,145.6 1868.0,150.1 1886.0,150.5 1904.0,147.3 1921.9,145.7 1939.8,143.1 1957.8,148.1 1975.8,148.2 1993.7,151.1 2011.6,159.4 2029.6,164.0 2047.5,166.2 2065.5,171.3" fill="none" stroke="#808080" stroke-width="3" stroke-linejoin="round" stroke-linecap="butt" shape-rendering="crispEdges"/>
<polyline points="288.4,139.2 306.4,141.0 324.4,145.5 342.3,147.6 360.2,148.7 378.2,148.4 396.1,148.3 414.1,148.2 432.0,146.9 450.0,148.5 467.9,146.0 485.9,146.7 503.9,151.8 521.8,148.9 539.8,150.6 557.7,148.5 575.6,147.9 593.6,147.6 611.5,146.3 629.5,145.4 647.5,149.4 665.4,149.9 683.3,153.0 701.3,155.8 719.2,157.8 737.2,161.7 755.1,166.7 773.1,172.8 791.0,182.5 809.0,192.3 826.9,211.4 844.9,228.7 862.9,250.7 880.8,272.8 898.8,297.4 916.7,326.1 934.6,355.4 952.6,387.4 970.5,424.1 988.5,456.5 1006.4,483.3 1024.4,501.7 1042.3,503.8 1060.3,499.9 1078.2,477.8 1096.2,439.5 1114.2,392.1 1132.1,336.9 1150.0,286.6 1168.0,247.7 1185.9,214.8 1203.9,186.8 1221.8,162.8 1239.8,142.7 1257.8,124.7 1275.7,105.3 1293.7,87.9 1311.6,71.6 1329.5,59.9 1347.5,59.0 1365.5,55.6 1383.4,58.4 1401.3,61.4 1419.3,66.4 1437.2,72.3 1455.2,80.3 1473.1,87.4 1491.1,96.3 1509.0,104.9 1527.0,113.6 1545.0,121.7 1562.9,127.3 1580.8,132.7 1598.8,139.9 1616.8,139.3 1634.7,140.2 1652.6,144.3 1670.6,146.0 1688.5,146.1 1706.5,148.3 1724.5,148.3 1742.4,149.9 1760.3,148.4 1778.3,149.3 1796.2,149.0 1814.2,146.6 1832.1,146.9 1850.1,145.9 1868.0,150.0 1886.0,151.1 1904.0,148.8 1921.9,145.5 1939.8,145.1 1957.8,145.4 1975.8,148.9 1993.7,153.3 2011.6,159.6 2029.6,165.2 2047.5,166.9 2065.5,171.5" fill="none" stroke="#808080" stroke-width="3" stroke-linejoin="round" stroke-linecap="butt" shape-rendering="crispEdges"/>
<polyline points="288.4,139.5 306.4,141.0 324.4,145.0 342.3,149.0 360.2,149.5 378.2,148.5 396.1,148.5 414.1,148.5 432.0,147.5 450.0,148.0 467.9,148.0 485.9,149.0 503.9,151.0 521.8,149.3 539.8,150.2 557.7,149.0 575.6,148.9 593.6,148.6 611.5,146.5 629.5,146.1 647.5,149.7 665.4,150.2 683.3,152.2 701.3,154.6 719.2,155.2 737.2,160.8 755.1,164.9 773.1,170.4 791.0,180.5 809.0,192.4 826.9,209.6 844.9,227.6 862.9,250.4 880.8,272.7 898.8,297.8 916.7,324.8 934.6,354.6 952.6,387.1 970.5,422.9 988.5,455.6 1006.4,484.3 1024.4,503.5 1042.3,507.5 1060.3,500.6 1078.2,478.6 1096.2,438.5 1114.2,391.5 1132.1,337.0 1150.0,287.4 1168.0,247.8 1185.9,212.5 1203.9,187.4 1221.8,163.5 1239.8,142.8 1257.8,123.2 1275.7,105.2 1293.7,88.8 1311.6,72.1 1329.5,59.9 1347.5,58.8 1365.5,54.5 1383.4,55.9 1401.3,60.1 1419.3,66.0 1437.2,72.6 1455.2,81.6 1473.1,87.4 1491.1,95.6 1509.0,104.9 1527.0,114.8 1545.0,122.3 1562.9,129.0 1580.8,134.5 1598.8,141.8 1616.8,141.0 1634.7,141.9 1652.6,145.6 1670.6,147.6 1688.5,147.7 1706.5,149.5 1724.5,149.4 1742.4,150.8 1760.3,149.8 1778.3,149.9 1796.2,149.9 1814.2,147.8 1832.1,147.6 1850.1,147.2 1868.0,150.9 1886.0,151.7 1904.0,148.2 1921.9,146.8 1939.8,144.8 1957.8,145.7 1975.8,147.4 1993.7,153.1 2011.6,159.3 2029.6,164.5 2047.5,167.5 2065.5,171.8" fill="none" stroke="#f00" stroke-width="3" stroke-linejoin="round" stroke-linecap="butt" shape-rendering="crispEdges"/>
<rect x="270.5" y="18.5" width="1795.0" height="502.79999999999995" fill="none" stroke="#262626" stroke-width="3"/>
<line x1="270.5" y1="521.3" x2="270.5" y2="501.79999999999995" stroke="#262626" stroke-width="3"/>
<line x1="270.5" y1="18.5" x2="270.5" y2="38.0" stroke="#262626" stroke-width="3"/>
<text transform="translate(270.5 607.5) scale(0.955 1)" class="tk" text-anchor="middle">0</text>
<line x1="629.5" y1="521.3" x2="629.5" y2="501.79999999999995" stroke="#262626" stroke-width="3"/>
<line x1="629.5" y1="18.5" x2="629.5" y2="38.0" stroke="#262626" stroke-width="3"/>
<text transform="translate(629.5 607.5) scale(0.955 1)" class="tk" text-anchor="middle">20</text>
<line x1="988.5" y1="521.3" x2="988.5" y2="501.79999999999995" stroke="#262626" stroke-width="3"/>
<line x1="988.5" y1="18.5" x2="988.5" y2="38.0" stroke="#262626" stroke-width="3"/>
<text transform="translate(988.5 607.5) scale(0.955 1)" class="tk" text-anchor="middle">40</text>
<line x1="1347.5" y1="521.3" x2="1347.5" y2="501.79999999999995" stroke="#262626" stroke-width="3"/>
<line x1="1347.5" y1="18.5" x2="1347.5" y2="38.0" stroke="#262626" stroke-width="3"/>
<text transform="translate(1347.5 607.5) scale(0.955 1)" class="tk" text-anchor="middle">60</text>
<line x1="1706.5" y1="521.3" x2="1706.5" y2="501.79999999999995" stroke="#262626" stroke-width="3"/>
<line x1="1706.5" y1="18.5" x2="1706.5" y2="38.0" stroke="#262626" stroke-width="3"/>
<text transform="translate(1706.5 607.5) scale(0.955 1)" class="tk" text-anchor="middle">80</text>
<line x1="2065.5" y1="521.3" x2="2065.5" y2="501.79999999999995" stroke="#262626" stroke-width="3"/>
<line x1="2065.5" y1="18.5" x2="2065.5" y2="38.0" stroke="#262626" stroke-width="3"/>
<text transform="translate(2065.5 607.5) scale(0.955 1)" class="tk" text-anchor="middle">100</text>
<line x1="270.5" y1="410.5" x2="290.0" y2="410.5" stroke="#262626" stroke-width="3"/>
<line x1="2065.5" y1="410.5" x2="2046.0" y2="410.5" stroke="#262626" stroke-width="3"/>
<text transform="translate(248 436.3) scale(0.955 1)" class="tk" text-anchor="end">0.2</text>
<line x1="270.5" y1="290.5" x2="290.0" y2="290.5" stroke="#262626" stroke-width="3"/>
<line x1="2065.5" y1="290.5" x2="2046.0" y2="290.5" stroke="#262626" stroke-width="3"/>
<text transform="translate(248 316.3) scale(0.955 1)" class="tk" text-anchor="end">0.3</text>
<line x1="270.5" y1="170.5" x2="290.0" y2="170.5" stroke="#262626" stroke-width="3"/>
<line x1="2065.5" y1="170.5" x2="2046.0" y2="170.5" stroke="#262626" stroke-width="3"/>
<text transform="translate(248 196.3) scale(0.955 1)" class="tk" text-anchor="end">0.4</text>
<line x1="270.5" y1="50.5" x2="290.0" y2="50.5" stroke="#262626" stroke-width="3"/>
<line x1="2065.5" y1="50.5" x2="2046.0" y2="50.5" stroke="#262626" stroke-width="3"/>
<text transform="translate(248 76.3) scale(0.955 1)" class="tk" text-anchor="end">0.5</text>
<line x1="270.5" y1="698.5" x2="2062.5" y2="698.5" stroke="url(#dot)" stroke-width="3"/>
<rect x="628.0" y="746" width="3" height="405.4" fill="url(#dotv)"/>
<rect x="1344.0" y="639.5" width="3" height="105.5" fill="url(#dotv)"/>
<polyline points="288.4,698.5 306.3,700.1 324.3,704.1 342.2,711.0 360.1,718.2 378.0,721.4 395.9,719.4 413.9,721.3 431.8,730.4 449.7,725.2 467.6,729.9 485.5,734.0 503.5,737.3 521.4,738.0 539.3,743.0 557.2,741.3 575.1,743.7 593.1,746.1 611.0,746.7 628.9,752.1 646.8,754.3 664.7,755.6 682.7,756.8 700.6,757.2 718.5,757.5 736.4,757.8 754.3,758.1 772.3,760.8 790.2,763.7 808.1,764.1 826.0,764.1 843.9,767.2 861.9,770.2 879.8,772.6 897.7,775.0 915.6,777.4 933.5,780.1 951.5,782.9 969.4,785.4 987.3,790.3 1005.2,796.3 1023.1,806.5 1041.1,816.8 1059.0,824.8 1076.9,832.9 1094.8,840.9 1112.7,855.4 1130.7,865.6 1148.6,875.9 1166.5,892.2 1184.4,905.1 1202.3,917.6 1220.3,929.5 1238.2,939.0 1256.1,948.6 1274.0,957.6 1291.9,965.5 1309.9,971.5 1327.8,976.5 1345.7,980.0 1363.6,982.7 1381.5,985.3 1399.5,982.3 1417.4,979.4 1435.3,975.8 1453.2,969.3 1471.1,962.8 1489.1,956.4 1507.0,950.4 1524.9,944.6 1542.8,938.4 1560.7,929.4 1578.7,921.1 1596.6,917.2 1614.5,913.3 1632.4,909.3 1650.3,901.8 1668.3,895.7 1686.2,891.9 1704.1,888.4 1722.0,881.4 1739.9,876.7 1757.9,868.8 1775.8,871.5 1793.7,865.2 1811.6,859.1 1829.5,856.7 1847.5,854.2 1865.4,848.8 1883.3,849.4 1901.2,844.5 1919.1,841.4 1937.1,838.3 1955.0,838.9 1972.9,833.5 1990.8,831.4 2008.7,829.6 2026.7,828.1 2044.6,826.8 2062.5,823.6" fill="none" stroke="#000" stroke-width="3" stroke-linejoin="round" stroke-linecap="butt" shape-rendering="crispEdges"/>
<polyline points="288.4,704.7 306.3,707.1 324.3,710.1 342.2,713.2 360.1,716.6 378.0,717.6 395.9,718.5 413.9,719.9 431.8,722.9 449.7,725.3 467.6,725.4 485.5,725.3 503.5,727.0 521.4,731.0 539.3,731.0 557.2,730.6 575.1,733.5 593.1,733.6 611.0,735.8 628.9,737.7 646.8,739.3 664.7,742.3 682.7,743.5 700.6,744.8 718.5,747.6 736.4,749.8 754.3,749.6 772.3,753.7 790.2,755.7 808.1,760.6 826.0,763.6 843.9,769.1 861.9,772.3 879.8,774.6 897.7,776.3 915.6,779.7 933.5,783.2 951.5,788.4 969.4,796.5 987.3,802.3 1005.2,813.0 1023.1,820.8 1041.1,825.7 1059.0,835.3 1076.9,843.6 1094.8,854.6 1112.7,869.3 1130.7,882.3 1148.6,891.3 1166.5,898.3 1184.4,909.4 1202.3,921.5 1220.3,935.4 1238.2,942.4 1256.1,952.0 1274.0,958.9 1291.9,966.6 1309.9,968.3 1327.8,968.9 1345.7,964.5 1363.6,962.3 1381.5,955.6 1399.5,947.1 1417.4,940.6 1435.3,934.9 1453.2,926.0 1471.1,918.9 1489.1,907.9 1507.0,897.7 1524.9,887.0 1542.8,878.6 1560.7,870.4 1578.7,861.8 1596.6,853.0 1614.5,846.9 1632.4,836.8 1650.3,828.6 1668.3,820.1 1686.2,816.3 1704.1,809.7 1722.0,804.1 1739.9,799.2 1757.9,799.1 1775.8,790.5 1793.7,783.1 1811.6,782.1 1829.5,777.6 1847.5,773.9 1865.4,776.1 1883.3,770.3 1901.2,769.8 1919.1,771.2 1937.1,768.7 1955.0,765.5 1972.9,764.0 1990.8,764.7 2008.7,763.5 2026.7,762.9 2044.6,761.4 2062.5,770.5" fill="none" stroke="#808080" stroke-width="3" stroke-linejoin="round" stroke-linecap="butt" shape-rendering="crispEdges"/>
<polyline points="288.4,702.3 306.3,704.7 324.3,707.2 342.2,708.8 360.1,711.2 378.0,714.6 395.9,714.5 413.9,713.7 431.8,718.3 449.7,718.0 467.6,717.9 485.5,720.9 503.5,721.1 521.4,721.6 539.3,722.7 557.2,723.5 575.1,725.6 593.1,727.6 611.0,727.5 628.9,729.8 646.8,732.7 664.7,731.2 682.7,734.5 700.6,735.8 718.5,736.6 736.4,738.7 754.3,742.1 772.3,745.3 790.2,747.2 808.1,752.4 826.0,758.0 843.9,763.3 861.9,770.7 879.8,778.0 897.7,783.1 915.6,787.1 933.5,791.1 951.5,796.4 969.4,804.1 987.3,810.1 1005.2,819.7 1023.1,832.5 1041.1,843.0 1059.0,855.8 1076.9,869.6 1094.8,884.1 1112.7,901.1 1130.7,914.0 1148.6,919.1 1166.5,928.3 1184.4,935.2 1202.3,946.7 1220.3,958.0 1238.2,964.2 1256.1,972.1 1274.0,971.5 1291.9,972.0 1309.9,969.5 1327.8,963.8 1345.7,957.3 1363.6,953.9 1381.5,946.5 1399.5,935.8 1417.4,924.4 1435.3,914.3 1453.2,905.6 1471.1,894.3 1489.1,881.7 1507.0,866.9 1524.9,858.5 1542.8,846.7 1560.7,834.3 1578.7,826.3 1596.6,814.7 1614.5,799.6 1632.4,790.8 1650.3,780.7 1668.3,772.1 1686.2,763.9 1704.1,757.4 1722.0,751.9 1739.9,748.4 1757.9,745.3 1775.8,736.9 1793.7,731.3 1811.6,731.5 1829.5,724.7 1847.5,721.6 1865.4,722.1 1883.3,719.9 1901.2,721.0 1919.1,720.6 1937.1,719.5 1955.0,720.7 1972.9,721.4 1990.8,724.2 2008.7,723.5 2026.7,723.6 2044.6,725.3 2062.5,733.6" fill="none" stroke="#808080" stroke-width="3" stroke-linejoin="round" stroke-linecap="butt" shape-rendering="crispEdges"/>
<polyline points="288.4,700.9 306.3,702.6 324.3,705.0 342.2,706.8 360.1,709.5 378.0,708.7 395.9,711.5 413.9,712.7 431.8,712.3 449.7,713.7 467.6,716.7 485.5,717.6 503.5,717.6 521.4,718.0 539.3,719.8 557.2,719.5 575.1,720.4 593.1,720.4 611.0,722.4 628.9,723.6 646.8,727.8 664.7,726.2 682.7,729.6 700.6,731.5 718.5,731.2 736.4,734.9 754.3,733.9 772.3,738.9 790.2,742.7 808.1,744.3 826.0,751.0 843.9,759.8 861.9,767.1 879.8,776.3 897.7,784.1 915.6,789.6 933.5,795.5 951.5,801.6 969.4,808.6 987.3,816.6 1005.2,827.6 1023.1,843.1 1041.1,855.0 1059.0,869.0 1076.9,885.6 1094.8,902.6 1112.7,916.2 1130.7,930.9 1148.6,937.8 1166.5,943.7 1184.4,950.5 1202.3,964.8 1220.3,972.8 1238.2,977.4 1256.1,981.2 1274.0,980.4 1291.9,977.1 1309.9,971.8 1327.8,963.5 1345.7,955.2 1363.6,947.9 1381.5,936.6 1399.5,923.9 1417.4,912.0 1435.3,899.1 1453.2,887.8 1471.1,875.8 1489.1,860.0 1507.0,843.3 1524.9,832.7 1542.8,819.3 1560.7,808.5 1578.7,795.9 1596.6,785.1 1614.5,771.5 1632.4,759.6 1650.3,749.2 1668.3,740.7 1686.2,733.6 1704.1,727.7 1722.0,722.0 1739.9,720.0 1757.9,715.5 1775.8,711.7 1793.7,708.5 1811.6,703.4 1829.5,703.9 1847.5,700.7 1865.4,700.8 1883.3,700.3 1901.2,700.0 1919.1,701.7 1937.1,700.2 1955.0,700.3 1972.9,701.6 1990.8,704.2 2008.7,706.6 2026.7,707.3 2044.6,708.4 2062.5,714.7" fill="none" stroke="#808080" stroke-width="3" stroke-linejoin="round" stroke-linecap="butt" shape-rendering="crispEdges"/>
<polyline points="288.4,699.6 306.3,702.7 324.3,703.9 342.2,704.5 360.1,705.7 378.0,708.0 395.9,709.3 413.9,709.2 431.8,711.3 449.7,713.2 467.6,711.8 485.5,711.6 503.5,712.5 521.4,712.9 539.3,714.5 557.2,715.3 575.1,715.4 593.1,717.9 611.0,715.8 628.9,718.2 646.8,722.6 664.7,723.0 682.7,724.3 700.6,726.2 718.5,728.6 736.4,729.8 754.3,731.7 772.3,733.2 790.2,737.4 808.1,741.9 826.0,747.7 843.9,754.7 861.9,765.3 879.8,776.9 897.7,786.6 915.6,792.0 933.5,798.3 951.5,807.0 969.4,813.7 987.3,824.0 1005.2,835.7 1023.1,852.0 1041.1,866.0 1059.0,878.2 1076.9,897.2 1094.8,915.3 1112.7,927.0 1130.7,941.3 1148.6,948.4 1166.5,955.2 1184.4,964.3 1202.3,976.0 1220.3,982.6 1238.2,985.6 1256.1,988.5 1274.0,985.2 1291.9,979.6 1309.9,971.9 1327.8,960.8 1345.7,950.7 1363.6,941.9 1381.5,929.5 1399.5,913.1 1417.4,898.6 1435.3,885.5 1453.2,870.8 1471.1,856.7 1489.1,839.6 1507.0,822.4 1524.9,810.8 1542.8,797.9 1560.7,787.0 1578.7,775.8 1596.6,761.1 1614.5,748.4 1632.4,736.6 1650.3,729.8 1668.3,720.6 1686.2,716.0 1704.1,711.1 1722.0,707.5 1739.9,704.8 1757.9,700.9 1775.8,698.6 1793.7,696.1 1811.6,694.8 1829.5,695.1 1847.5,691.7 1865.4,693.6 1883.3,693.4 1901.2,693.8 1919.1,693.5 1937.1,691.5 1955.0,693.3 1972.9,695.8 1990.8,695.1 2008.7,697.8 2026.7,699.5 2044.6,702.6 2062.5,703.9" fill="none" stroke="#808080" stroke-width="3" stroke-linejoin="round" stroke-linecap="butt" shape-rendering="crispEdges"/>
<polyline points="288.4,699.8 306.3,701.1 324.3,702.0 342.2,705.0 360.1,705.6 378.0,706.2 395.9,707.0 413.9,707.0 431.8,708.0 449.7,709.6 467.6,710.5 485.5,711.2 503.5,711.1 521.4,711.1 539.3,712.2 557.2,714.2 575.1,715.1 593.1,713.9 611.0,714.6 628.9,717.4 646.8,717.8 664.7,719.0 682.7,718.9 700.6,721.7 718.5,722.6 736.4,725.8 754.3,726.4 772.3,732.1 790.2,734.3 808.1,739.7 826.0,744.1 843.9,752.7 861.9,765.1 879.8,775.3 897.7,787.0 915.6,795.1 933.5,800.8 951.5,809.5 969.4,817.5 987.3,829.1 1005.2,841.4 1023.1,859.0 1041.1,876.5 1059.0,889.9 1076.9,908.0 1094.8,923.0 1112.7,936.5 1130.7,951.3 1148.6,959.6 1166.5,966.3 1184.4,974.2 1202.3,983.7 1220.3,991.3 1238.2,992.2 1256.1,994.9 1274.0,989.2 1291.9,981.9 1309.9,972.7 1327.8,962.0 1345.7,946.2 1363.6,935.7 1381.5,923.1 1399.5,904.2 1417.4,889.9 1435.3,872.6 1453.2,856.9 1471.1,841.5 1489.1,827.5 1507.0,808.6 1524.9,793.5 1542.8,780.0 1560.7,766.3 1578.7,756.8 1596.6,745.5 1614.5,733.3 1632.4,723.8 1650.3,716.1 1668.3,708.6 1686.2,704.9 1704.1,700.2 1722.0,698.9 1739.9,695.3 1757.9,694.0 1775.8,693.0 1793.7,691.1 1811.6,690.7 1829.5,689.2 1847.5,688.2 1865.4,689.9 1883.3,687.7 1901.2,688.0 1919.1,689.6 1937.1,689.6 1955.0,691.1 1972.9,691.1 1990.8,692.9 2008.7,693.3 2026.7,697.3 2044.6,699.4 2062.5,699.8" fill="none" stroke="#808080" stroke-width="3" stroke-linejoin="round" stroke-linecap="butt" shape-rendering="crispEdges"/>
<polyline points="288.4,698.0 306.3,700.4 324.3,701.9 342.2,700.2 360.1,703.3 378.0,704.4 395.9,704.7 413.9,705.9 431.8,706.8 449.7,705.9 467.6,708.0 485.5,707.9 503.5,707.7 521.4,709.5 539.3,711.4 557.2,709.1 575.1,709.3 593.1,709.9 611.0,714.3 628.9,713.0 646.8,714.0 664.7,714.4 682.7,716.2 700.6,717.0 718.5,720.1 736.4,722.8 754.3,723.0 772.3,726.7 790.2,730.3 808.1,736.4 826.0,742.9 843.9,751.6 861.9,763.6 879.8,777.6 897.7,788.8 915.6,796.2 933.5,803.5 951.5,813.0 969.4,821.9 987.3,832.5 1005.2,844.8 1023.1,864.2 1041.1,883.6 1059.0,897.7 1076.9,914.2 1094.8,930.6 1112.7,942.3 1130.7,957.8 1148.6,967.2 1166.5,975.9 1184.4,981.5 1202.3,992.0 1220.3,996.5 1238.2,1000.1 1256.1,1000.9 1274.0,992.6 1291.9,984.9 1309.9,973.3 1327.8,958.7 1345.7,941.9 1363.6,931.4 1381.5,916.2 1399.5,895.0 1417.4,877.5 1435.3,857.8 1453.2,845.5 1471.1,828.0 1489.1,811.7 1507.0,793.2 1524.9,777.8 1542.8,765.2 1560.7,753.5 1578.7,744.0 1596.6,731.5 1614.5,721.2 1632.4,714.8 1650.3,705.2 1668.3,701.9 1686.2,697.5 1704.1,694.3 1722.0,691.3 1739.9,692.4 1757.9,689.4 1775.8,688.5 1793.7,689.0 1811.6,686.3 1829.5,686.4 1847.5,685.7 1865.4,687.5 1883.3,688.5 1901.2,687.0 1919.1,688.0 1937.1,686.6 1955.0,687.2 1972.9,688.1 1990.8,690.9 2008.7,691.1 2026.7,695.1 2044.6,698.2 2062.5,698.6" fill="none" stroke="#808080" stroke-width="3" stroke-linejoin="round" stroke-linecap="butt" shape-rendering="crispEdges"/>
<polyline points="288.4,698.5 306.3,699.4 324.3,701.1 342.2,701.0 360.1,701.4 378.0,701.6 395.9,702.8 413.9,704.0 431.8,703.9 449.7,706.1 467.6,707.3 485.5,704.7 503.5,707.5 521.4,707.4 539.3,708.0 557.2,710.8 575.1,709.9 593.1,709.5 611.0,710.0 628.9,708.5 646.8,712.2 664.7,711.7 682.7,714.6 700.6,716.4 718.5,718.1 736.4,721.9 754.3,723.2 772.3,726.3 790.2,728.1 808.1,734.4 826.0,741.0 843.9,746.9 861.9,762.9 879.8,775.4 897.7,786.7 915.6,798.9 933.5,807.8 951.5,814.0 969.4,824.5 987.3,839.8 1005.2,852.3 1023.1,870.7 1041.1,889.7 1059.0,906.8 1076.9,922.2 1094.8,937.6 1112.7,951.3 1130.7,964.3 1148.6,972.5 1166.5,979.8 1184.4,989.1 1202.3,997.7 1220.3,1003.3 1238.2,1005.6 1256.1,1003.8 1274.0,996.3 1291.9,986.6 1309.9,974.4 1327.8,959.4 1345.7,940.6 1363.6,927.8 1381.5,911.5 1399.5,889.9 1417.4,868.9 1435.3,850.5 1453.2,831.2 1471.1,814.8 1489.1,801.0 1507.0,781.1 1524.9,765.5 1542.8,753.0 1560.7,742.5 1578.7,733.6 1596.6,721.9 1614.5,712.4 1632.4,707.2 1650.3,702.6 1668.3,696.4 1686.2,693.7 1704.1,693.4 1722.0,689.5 1739.9,688.9 1757.9,687.9 1775.8,687.7 1793.7,686.6 1811.6,685.1 1829.5,685.3 1847.5,683.3 1865.4,683.8 1883.3,684.4 1901.2,687.5 1919.1,684.2 1937.1,686.0 1955.0,686.5 1972.9,688.0 1990.8,688.9 2008.7,690.8 2026.7,694.0 2044.6,695.6 2062.5,696.7" fill="none" stroke="#808080" stroke-width="3" stroke-linejoin="round" stroke-linecap="butt" shape-rendering="crispEdges"/>
<polyline points="288.4,697.7 306.3,698.8 324.3,701.1 342.2,700.8 360.1,700.5 378.0,702.0 395.9,703.3 413.9,701.3 431.8,702.3 449.7,702.6 467.6,704.3 485.5,705.0 503.5,705.0 521.4,704.6 539.3,705.3 557.2,707.5 575.1,707.7 593.1,707.1 611.0,706.3 628.9,709.0 646.8,709.3 664.7,710.3 682.7,713.7 700.6,714.7 718.5,713.6 736.4,716.4 754.3,721.2 772.3,722.8 790.2,726.8 808.1,731.5 826.0,737.1 843.9,746.7 861.9,761.1 879.8,775.9 897.7,787.3 915.6,799.5 933.5,808.0 951.5,817.5 969.4,829.3 987.3,842.6 1005.2,857.4 1023.1,878.4 1041.1,897.2 1059.0,911.7 1076.9,927.6 1094.8,942.3 1112.7,955.6 1130.7,968.3 1148.6,979.6 1166.5,987.7 1184.4,994.5 1202.3,1005.6 1220.3,1008.4 1238.2,1010.3 1256.1,1007.6 1274.0,999.3 1291.9,987.6 1309.9,974.1 1327.8,958.6 1345.7,939.0 1363.6,924.7 1381.5,902.6 1399.5,883.0 1417.4,862.8 1435.3,842.9 1453.2,823.7 1471.1,806.4 1489.1,788.1 1507.0,769.9 1524.9,756.6 1542.8,745.4 1560.7,734.3 1578.7,725.5 1596.6,715.9 1614.5,708.1 1632.4,700.9 1650.3,694.8 1668.3,693.2 1686.2,690.6 1704.1,689.9 1722.0,688.3 1739.9,687.4 1757.9,687.6 1775.8,686.6 1793.7,686.0 1811.6,686.7 1829.5,683.7 1847.5,683.4 1865.4,686.1 1883.3,684.7 1901.2,684.4 1919.1,686.5 1937.1,685.1 1955.0,685.8 1972.9,687.2 1990.8,689.4 2008.7,690.4 2026.7,693.4 2044.6,694.7 2062.5,697.8" fill="none" stroke="#808080" stroke-width="3" stroke-linejoin="round" stroke-linecap="butt" shape-rendering="crispEdges"/>
<polyline points="288.4,696.8 306.3,698.4 324.3,700.0 342.2,701.9 360.1,698.9 378.0,701.4 395.9,702.0 413.9,702.7 431.8,701.3 449.7,703.6 467.6,703.5 485.5,703.0 503.5,703.1 521.4,704.1 539.3,705.2 557.2,705.6 575.1,707.2 593.1,704.9 611.0,706.3 628.9,706.0 646.8,707.8 664.7,708.0 682.7,709.3 700.6,710.4 718.5,711.6 736.4,715.4 754.3,719.1 772.3,721.2 790.2,722.6 808.1,729.2 826.0,736.2 843.9,744.6 861.9,758.4 879.8,775.8 897.7,788.9 915.6,800.5 933.5,808.7 951.5,819.4 969.4,829.5 987.3,843.9 1005.2,861.9 1023.1,882.9 1041.1,902.9 1059.0,917.5 1076.9,935.7 1094.8,947.7 1112.7,958.8 1130.7,975.1 1148.6,985.1 1166.5,993.9 1184.4,1001.3 1202.3,1011.4 1220.3,1014.5 1238.2,1013.2 1256.1,1009.5 1274.0,1001.5 1291.9,988.3 1309.9,973.5 1327.8,956.3 1345.7,936.4 1363.6,919.9 1381.5,902.3 1399.5,877.4 1417.4,854.2 1435.3,832.6 1453.2,814.3 1471.1,794.8 1489.1,777.5 1507.0,762.7 1524.9,747.6 1542.8,736.9 1560.7,729.9 1578.7,719.7 1596.6,710.6 1614.5,704.0 1632.4,698.7 1650.3,694.3 1668.3,692.1 1686.2,691.6 1704.1,688.9 1722.0,687.0 1739.9,686.0 1757.9,685.3 1775.8,685.6 1793.7,685.6 1811.6,684.7 1829.5,684.5 1847.5,682.8 1865.4,684.9 1883.3,685.4 1901.2,686.0 1919.1,682.6 1937.1,685.3 1955.0,682.9 1972.9,684.7 1990.8,688.6 2008.7,689.9 2026.7,694.8 2044.6,695.6 2062.5,696.3" fill="none" stroke="#808080" stroke-width="3" stroke-linejoin="round" stroke-linecap="butt" shape-rendering="crispEdges"/>
<polyline points="288.4,696.3 306.3,697.9 324.3,699.8 342.2,700.1 360.1,699.7 378.0,699.0 395.9,699.9 413.9,701.4 431.8,699.9 449.7,700.2 467.6,702.2 485.5,702.4 503.5,701.7 521.4,701.9 539.3,700.6 557.2,704.1 575.1,702.9 593.1,701.9 611.0,702.6 628.9,703.5 646.8,706.5 664.7,706.4 682.7,706.3 700.6,711.4 718.5,711.4 736.4,711.9 754.3,712.7 772.3,719.2 790.2,721.0 808.1,727.4 826.0,733.6 843.9,744.1 861.9,758.4 879.8,775.1 897.7,788.5 915.6,801.7 933.5,812.2 951.5,820.3 969.4,835.0 987.3,846.9 1005.2,865.8 1023.1,889.2 1041.1,909.2 1059.0,924.5 1076.9,941.6 1094.8,951.6 1112.7,964.7 1130.7,979.9 1148.6,989.6 1166.5,1001.0 1184.4,1007.1 1202.3,1016.6 1220.3,1019.7 1238.2,1017.9 1256.1,1014.1 1274.0,1005.8 1291.9,992.8 1309.9,973.9 1327.8,956.7 1345.7,935.7 1363.6,917.0 1381.5,895.0 1399.5,872.0 1417.4,849.7 1435.3,828.5 1453.2,809.5 1471.1,789.7 1489.1,771.5 1507.0,754.1 1524.9,742.5 1542.8,729.9 1560.7,721.8 1578.7,715.4 1596.6,708.1 1614.5,701.7 1632.4,698.6 1650.3,693.4 1668.3,692.0 1686.2,689.2 1704.1,688.9 1722.0,688.1 1739.9,686.0 1757.9,683.4 1775.8,686.2 1793.7,685.2 1811.6,684.0 1829.5,682.3 1847.5,682.3 1865.4,684.2 1883.3,684.8 1901.2,686.2 1919.1,684.2 1937.1,682.8 1955.0,684.7 1972.9,684.9 1990.8,687.8 2008.7,688.3 2026.7,692.6 2044.6,695.9 2062.5,696.6" fill="none" stroke="#808080" stroke-width="3" stroke-linejoin="round" stroke-linecap="butt" shape-rendering="crispEdges"/>
<polyline points="288.4,695.8 306.3,698.0 324.3,698.6 342.2,699.6 360.1,698.0 378.0,698.4 395.9,698.8 413.9,697.4 431.8,698.2 449.7,700.4 467.6,699.9 485.5,701.8 503.5,700.5 521.4,700.7 539.3,702.2 557.2,701.7 575.1,703.1 593.1,700.6 611.0,702.5 628.9,703.3 646.8,703.6 664.7,704.9 682.7,706.8 700.6,707.7 718.5,707.5 736.4,712.0 754.3,713.5 772.3,717.2 790.2,721.1 808.1,725.9 826.0,731.5 843.9,741.1 861.9,756.6 879.8,773.4 897.7,789.8 915.6,802.5 933.5,813.3 951.5,823.3 969.4,836.2 987.3,851.4 1005.2,869.0 1023.1,893.2 1041.1,912.4 1059.0,929.5 1076.9,943.1 1094.8,955.9 1112.7,971.3 1130.7,986.2 1148.6,995.4 1166.5,1006.9 1184.4,1011.8 1202.3,1022.6 1220.3,1023.8 1238.2,1019.7 1256.1,1015.4 1274.0,1006.3 1291.9,993.3 1309.9,976.1 1327.8,955.8 1345.7,934.6 1363.6,915.2 1381.5,890.5 1399.5,867.1 1417.4,843.6 1435.3,823.5 1453.2,801.4 1471.1,783.2 1489.1,765.6 1507.0,751.3 1524.9,736.3 1542.8,725.9 1560.7,717.5 1578.7,711.6 1596.6,707.1 1614.5,698.9 1632.4,695.1 1650.3,692.8 1668.3,691.4 1686.2,688.4 1704.1,689.1 1722.0,688.4 1739.9,686.5 1757.9,685.4 1775.8,684.2 1793.7,684.2 1811.6,682.7 1829.5,683.9 1847.5,683.9 1865.4,683.2 1883.3,684.4 1901.2,682.8 1919.1,683.2 1937.1,683.6 1955.0,684.0 1972.9,685.4 1990.8,688.2 2008.7,690.0 2026.7,692.4 2044.6,696.8 2062.5,695.2" fill="none" stroke="#808080" stroke-width="3" stroke-linejoin="round" stroke-linecap="butt" shape-rendering="crispEdges"/>
<polyline points="288.4,695.1 306.3,697.1 324.3,697.7 342.2,697.1 360.1,697.3 378.0,697.1 395.9,698.0 413.9,699.0 431.8,698.7 449.7,699.0 467.6,698.2 485.5,698.1 503.5,699.1 521.4,700.5 539.3,700.2 557.2,701.1 575.1,701.1 593.1,701.3 611.0,699.7 628.9,702.2 646.8,702.1 664.7,704.1 682.7,704.6 700.6,706.1 718.5,706.0 736.4,709.3 754.3,710.0 772.3,714.2 790.2,717.8 808.1,725.0 826.0,730.1 843.9,739.9 861.9,756.4 879.8,772.3 897.7,789.3 915.6,802.8 933.5,814.3 951.5,826.0 969.4,839.3 987.3,852.4 1005.2,871.6 1023.1,898.9 1041.1,917.6 1059.0,934.2 1076.9,950.3 1094.8,961.6 1112.7,974.6 1130.7,989.3 1148.6,999.2 1166.5,1011.6 1184.4,1019.0 1202.3,1027.0 1220.3,1029.8 1238.2,1025.4 1256.1,1020.3 1274.0,1007.8 1291.9,995.2 1309.9,977.4 1327.8,954.2 1345.7,932.5 1363.6,911.3 1381.5,888.4 1399.5,863.2 1417.4,838.0 1435.3,817.0 1453.2,794.9 1471.1,778.0 1489.1,760.9 1507.0,744.0 1524.9,732.3 1542.8,722.3 1560.7,714.6 1578.7,709.0 1596.6,702.6 1614.5,698.0 1632.4,693.8 1650.3,691.4 1668.3,689.7 1686.2,689.2 1704.1,687.6 1722.0,689.2 1739.9,686.2 1757.9,685.0 1775.8,685.1 1793.7,685.2 1811.6,685.0 1829.5,683.3 1847.5,681.4 1865.4,683.0 1883.3,685.2 1901.2,684.6 1919.1,684.3 1937.1,682.9 1955.0,685.0 1972.9,686.4 1990.8,688.2 2008.7,689.9 2026.7,691.0 2044.6,693.8 2062.5,697.4" fill="none" stroke="#808080" stroke-width="3" stroke-linejoin="round" stroke-linecap="butt" shape-rendering="crispEdges"/>
<polyline points="288.4,695.5 306.3,695.9 324.3,697.5 342.2,698.0 360.1,697.8 378.0,696.6 395.9,697.9 413.9,697.6 431.8,697.6 449.7,699.0 467.6,699.2 485.5,697.7 503.5,697.4 521.4,697.2 539.3,697.3 557.2,700.1 575.1,700.6 593.1,699.1 611.0,700.2 628.9,698.9 646.8,699.7 664.7,701.3 682.7,702.7 700.6,704.2 718.5,702.8 736.4,706.1 754.3,709.6 772.3,712.2 790.2,716.2 808.1,721.8 826.0,729.0 843.9,738.4 861.9,754.0 879.8,772.2 897.7,787.7 915.6,803.4 933.5,816.1 951.5,827.0 969.4,839.5 987.3,854.3 1005.2,875.9 1023.1,901.5 1041.1,922.4 1059.0,937.5 1076.9,955.4 1094.8,964.7 1112.7,979.0 1130.7,993.4 1148.6,1006.2 1166.5,1017.7 1184.4,1024.9 1202.3,1031.6 1220.3,1030.8 1238.2,1028.6 1256.1,1023.0 1274.0,1011.2 1291.9,995.2 1309.9,975.8 1327.8,954.1 1345.7,931.0 1363.6,910.5 1381.5,885.5 1399.5,860.5 1417.4,835.5 1435.3,813.1 1453.2,790.6 1471.1,772.7 1489.1,755.8 1507.0,741.4 1524.9,728.0 1542.8,719.5 1560.7,711.2 1578.7,707.2 1596.6,701.5 1614.5,698.1 1632.4,694.5 1650.3,692.7 1668.3,689.6 1686.2,689.4 1704.1,687.6 1722.0,686.8 1739.9,686.3 1757.9,685.6 1775.8,683.1 1793.7,682.5 1811.6,683.2 1829.5,682.1 1847.5,679.9 1865.4,681.4 1883.3,683.2 1901.2,684.5 1919.1,683.5 1937.1,683.8 1955.0,684.4 1972.9,687.2 1990.8,685.6 2008.7,689.6 2026.7,693.6 2044.6,693.9 2062.5,695.6" fill="none" stroke="#808080" stroke-width="3" stroke-linejoin="round" stroke-linecap="butt" shape-rendering="crispEdges"/>
<polyline points="288.4,695.1 306.3,697.2 324.3,698.0 342.2,695.4 360.1,695.2 378.0,696.3 395.9,696.0 413.9,697.2 431.8,697.2 449.7,698.8 467.6,697.2 485.5,697.5 503.5,697.4 521.4,698.5 539.3,696.5 557.2,698.1 575.1,696.9 593.1,696.3 611.0,699.0 628.9,698.7 646.8,699.7 664.7,699.2 682.7,701.5 700.6,702.8 718.5,703.4 736.4,705.6 754.3,710.1 772.3,710.4 790.2,716.4 808.1,720.8 826.0,728.7 843.9,737.2 861.9,752.9 879.8,772.8 897.7,788.0 915.6,803.5 933.5,816.5 951.5,829.2 969.4,839.8 987.3,858.4 1005.2,879.4 1023.1,902.4 1041.1,924.4 1059.0,942.5 1076.9,957.2 1094.8,968.7 1112.7,983.1 1130.7,999.0 1148.6,1011.5 1166.5,1021.8 1184.4,1030.3 1202.3,1037.8 1220.3,1037.1 1238.2,1031.9 1256.1,1027.5 1274.0,1012.2 1291.9,997.3 1309.9,976.6 1327.8,953.5 1345.7,929.4 1363.6,907.5 1381.5,885.4 1399.5,857.9 1417.4,832.7 1435.3,811.2 1453.2,789.1 1471.1,766.1 1489.1,751.5 1507.0,737.5 1524.9,725.4 1542.8,717.5 1560.7,709.9 1578.7,706.0 1596.6,699.2 1614.5,695.1 1632.4,693.8 1650.3,692.1 1668.3,691.3 1686.2,688.5 1704.1,687.0 1722.0,688.1 1739.9,686.2 1757.9,687.0 1775.8,684.3 1793.7,682.0 1811.6,682.2 1829.5,681.1 1847.5,680.4 1865.4,682.1 1883.3,683.2 1901.2,683.9 1919.1,682.7 1937.1,683.1 1955.0,683.6 1972.9,684.9 1990.8,687.1 2008.7,687.7 2026.7,690.9 2044.6,694.2 2062.5,697.2" fill="none" stroke="#808080" stroke-width="3" stroke-linejoin="round" stroke-linecap="butt" shape-rendering="crispEdges"/>
<polyline points="288.4,694.3 306.3,696.4 324.3,697.3 342.2,697.8 360.1,696.1 378.0,695.3 395.9,697.0 413.9,696.4 431.8,696.0 449.7,697.4 467.6,695.5 485.5,696.6 503.5,696.5 521.4,697.4 539.3,695.5 557.2,695.4 575.1,696.2 593.1,696.3 611.0,696.7 628.9,696.6 646.8,697.5 664.7,698.3 682.7,699.7 700.6,700.2 718.5,702.5 736.4,703.0 754.3,706.8 772.3,710.6 790.2,712.6 808.1,720.8 826.0,728.4 843.9,737.3 861.9,751.8 879.8,771.5 897.7,786.9 915.6,804.2 933.5,817.3 951.5,829.9 969.4,843.9 987.3,859.1 1005.2,878.7 1023.1,907.3 1041.1,927.7 1059.0,947.2 1076.9,963.0 1094.8,973.1 1112.7,988.3 1130.7,1003.2 1148.6,1014.9 1166.5,1026.4 1184.4,1033.8 1202.3,1041.6 1220.3,1042.1 1238.2,1033.5 1256.1,1028.0 1274.0,1016.3 1291.9,998.5 1309.9,977.6 1327.8,951.7 1345.7,927.3 1363.6,906.1 1381.5,881.2 1399.5,855.0 1417.4,828.5 1435.3,806.9 1453.2,783.6 1471.1,763.7 1489.1,747.0 1507.0,735.5 1524.9,723.4 1542.8,715.6 1560.7,706.9 1578.7,705.7 1596.6,700.7 1614.5,695.0 1632.4,692.6 1650.3,693.4 1668.3,688.9 1686.2,690.5 1704.1,687.2 1722.0,684.6 1739.9,687.2 1757.9,685.6 1775.8,685.0 1793.7,683.3 1811.6,682.7 1829.5,683.0 1847.5,680.9 1865.4,680.9 1883.3,684.7 1901.2,683.4 1919.1,684.4 1937.1,682.2 1955.0,682.7 1972.9,684.4 1990.8,684.5 2008.7,690.7 2026.7,691.8 2044.6,694.8 2062.5,698.4" fill="none" stroke="#808080" stroke-width="3" stroke-linejoin="round" stroke-linecap="butt" shape-rendering="crispEdges"/>
<polyline points="288.4,694.7 306.3,696.8 324.3,697.1 342.2,696.6 360.1,695.6 378.0,696.4 395.9,695.1 413.9,696.0 431.8,694.9 449.7,696.8 467.6,693.5 485.5,695.9 503.5,696.0 521.4,696.0 539.3,695.8 557.2,697.2 575.1,697.7 593.1,695.0 611.0,693.7 628.9,694.8 646.8,695.1 664.7,696.2 682.7,698.2 700.6,701.1 718.5,699.6 736.4,703.2 754.3,705.8 772.3,707.6 790.2,711.6 808.1,721.1 826.0,725.2 843.9,733.6 861.9,748.2 879.8,770.7 897.7,786.6 915.6,803.8 933.5,819.4 951.5,832.3 969.4,843.4 987.3,860.7 1005.2,883.8 1023.1,910.2 1041.1,928.8 1059.0,950.2 1076.9,967.8 1094.8,975.6 1112.7,989.6 1130.7,1005.2 1148.6,1020.0 1166.5,1032.6 1184.4,1040.3 1202.3,1045.3 1220.3,1044.3 1238.2,1039.2 1256.1,1030.4 1274.0,1015.8 1291.9,999.4 1309.9,978.6 1327.8,953.2 1345.7,926.9 1363.6,903.2 1381.5,879.5 1399.5,850.8 1417.4,826.9 1435.3,803.2 1453.2,782.0 1471.1,760.9 1489.1,746.3 1507.0,731.9 1524.9,721.7 1542.8,714.8 1560.7,708.1 1578.7,703.4 1596.6,699.3 1614.5,697.2 1632.4,693.1 1650.3,691.5 1668.3,689.6 1686.2,689.0 1704.1,687.5 1722.0,689.3 1739.9,684.4 1757.9,685.7 1775.8,684.3 1793.7,684.9 1811.6,681.3 1829.5,683.2 1847.5,680.3 1865.4,683.5 1883.3,684.3 1901.2,684.1 1919.1,682.4 1937.1,681.8 1955.0,683.2 1972.9,684.0 1990.8,684.9 2008.7,687.7 2026.7,693.2 2044.6,695.8 2062.5,697.4" fill="none" stroke="#808080" stroke-width="3" stroke-linejoin="round" stroke-linecap="butt" shape-rendering="crispEdges"/>
<polyline points="288.4,694.6 306.3,696.5 324.3,697.0 342.2,695.9 360.1,694.2 378.0,694.1 395.9,693.7 413.9,695.2 431.8,694.1 449.7,694.8 467.6,696.4 485.5,694.6 503.5,695.9 521.4,696.5 539.3,693.2 557.2,693.6 575.1,695.3 593.1,694.0 611.0,695.3 628.9,695.6 646.8,694.3 664.7,696.1 682.7,698.9 700.6,699.8 718.5,697.9 736.4,701.9 754.3,704.0 772.3,708.8 790.2,710.5 808.1,716.5 826.0,724.2 843.9,734.0 861.9,749.0 879.8,768.9 897.7,786.4 915.6,804.3 933.5,818.8 951.5,832.1 969.4,845.9 987.3,863.0 1005.2,883.8 1023.1,912.6 1041.1,932.5 1059.0,951.6 1076.9,967.0 1094.8,982.8 1112.7,996.6 1130.7,1011.8 1148.6,1023.8 1166.5,1036.8 1184.4,1047.7 1202.3,1049.6 1220.3,1048.9 1238.2,1042.5 1256.1,1034.4 1274.0,1019.8 1291.9,999.6 1309.9,978.4 1327.8,951.4 1345.7,927.6 1363.6,903.3 1381.5,876.0 1399.5,848.6 1417.4,825.1 1435.3,802.2 1453.2,778.9 1471.1,761.4 1489.1,743.8 1507.0,730.0 1524.9,719.8 1542.8,713.4 1560.7,707.4 1578.7,704.2 1596.6,700.9 1614.5,696.5 1632.4,694.6 1650.3,693.2 1668.3,690.6 1686.2,688.5 1704.1,688.5 1722.0,686.8 1739.9,686.7 1757.9,685.3 1775.8,683.5 1793.7,684.6 1811.6,683.2 1829.5,683.0 1847.5,680.6 1865.4,684.2 1883.3,685.2 1901.2,683.9 1919.1,683.2 1937.1,682.9 1955.0,683.3 1972.9,685.7 1990.8,686.3 2008.7,688.5 2026.7,692.3 2044.6,697.0 2062.5,696.7" fill="none" stroke="#808080" stroke-width="3" stroke-linejoin="round" stroke-linecap="butt" shape-rendering="crispEdges"/>
<polyline points="288.4,694.1 306.3,695.9 324.3,696.8 342.2,696.5 360.1,694.0 378.0,694.7 395.9,694.7 413.9,695.1 431.8,694.8 449.7,695.6 467.6,695.3 485.5,693.9 503.5,696.8 521.4,693.0 539.3,693.1 557.2,695.4 575.1,694.3 593.1,693.8 611.0,694.2 628.9,694.8 646.8,693.6 664.7,693.7 682.7,695.2 700.6,697.0 718.5,696.9 736.4,702.1 754.3,703.8 772.3,706.7 790.2,709.1 808.1,717.2 826.0,721.6 843.9,733.0 861.9,749.2 879.8,767.4 897.7,784.8 915.6,804.1 933.5,817.8 951.5,831.7 969.4,847.5 987.3,862.8 1005.2,886.2 1023.1,915.4 1041.1,933.7 1059.0,954.8 1076.9,971.6 1094.8,983.9 1112.7,998.4 1130.7,1014.1 1148.6,1028.4 1166.5,1042.6 1184.4,1049.2 1202.3,1055.7 1220.3,1052.1 1238.2,1045.6 1256.1,1036.2 1274.0,1020.5 1291.9,1001.5 1309.9,977.5 1327.8,952.3 1345.7,923.7 1363.6,901.2 1381.5,875.5 1399.5,850.9 1417.4,824.9 1435.3,800.3 1453.2,777.5 1471.1,758.4 1489.1,742.6 1507.0,729.0 1524.9,719.4 1542.8,711.1 1560.7,707.1 1578.7,705.2 1596.6,699.5 1614.5,696.8 1632.4,694.5 1650.3,692.3 1668.3,690.8 1686.2,686.8 1704.1,687.7 1722.0,687.7 1739.9,686.2 1757.9,686.6 1775.8,684.3 1793.7,685.0 1811.6,685.0 1829.5,682.1 1847.5,682.0 1865.4,682.9 1883.3,684.9 1901.2,682.2 1919.1,682.0 1937.1,682.7 1955.0,684.3 1972.9,685.6 1990.8,686.3 2008.7,691.4 2026.7,692.7 2044.6,694.5 2062.5,697.6" fill="none" stroke="#808080" stroke-width="3" stroke-linejoin="round" stroke-linecap="butt" shape-rendering="crispEdges"/>
<polyline points="288.4,695.0 306.3,696.2 324.3,695.8 342.2,695.0 360.1,694.6 378.0,695.2 395.9,693.2 413.9,694.5 431.8,693.1 449.7,694.2 467.6,692.8 485.5,693.6 503.5,692.4 521.4,692.9 539.3,692.3 557.2,691.9 575.1,694.8 593.1,694.6 611.0,693.8 628.9,693.0 646.8,694.7 664.7,693.2 682.7,695.8 700.6,698.1 718.5,697.0 736.4,701.5 754.3,702.4 772.3,705.1 790.2,708.8 808.1,714.1 826.0,721.2 843.9,732.4 861.9,745.9 879.8,768.3 897.7,785.4 915.6,804.1 933.5,819.1 951.5,833.9 969.4,850.2 987.3,865.1 1005.2,887.7 1023.1,916.2 1041.1,935.1 1059.0,957.4 1076.9,976.3 1094.8,986.7 1112.7,1000.9 1130.7,1015.9 1148.6,1033.5 1166.5,1043.2 1184.4,1052.5 1202.3,1059.3 1220.3,1055.7 1238.2,1048.1 1256.1,1039.2 1274.0,1022.5 1291.9,1001.8 1309.9,977.8 1327.8,952.6 1345.7,925.1 1363.6,901.3 1381.5,874.0 1399.5,845.6 1417.4,822.3 1435.3,798.2 1453.2,773.9 1471.1,757.8 1489.1,740.7 1507.0,728.3 1524.9,719.8 1542.8,712.6 1560.7,707.2 1578.7,703.2 1596.6,699.7 1614.5,697.1 1632.4,694.6 1650.3,694.4 1668.3,690.3 1686.2,688.5 1704.1,687.5 1722.0,687.9 1739.9,686.6 1757.9,685.8 1775.8,684.7 1793.7,684.2 1811.6,684.2 1829.5,684.0 1847.5,682.6 1865.4,683.3 1883.3,683.2 1901.2,683.5 1919.1,683.7 1937.1,683.0 1955.0,683.6 1972.9,684.1 1990.8,687.2 2008.7,687.9 2026.7,691.5 2044.6,694.4 2062.5,697.7" fill="none" stroke="#808080" stroke-width="3" stroke-linejoin="round" stroke-linecap="butt" shape-rendering="crispEdges"/>
<polyline points="288.4,694.2 306.3,695.9 324.3,696.7 342.2,695.2 360.1,695.2 378.0,694.3 395.9,694.1 413.9,693.7 431.8,694.5 449.7,693.0 467.6,692.2 485.5,694.5 503.5,693.0 521.4,693.4 539.3,694.0 557.2,694.3 575.1,690.1 593.1,691.7 611.0,693.9 628.9,691.0 646.8,692.9 664.7,692.3 682.7,693.6 700.6,696.0 718.5,694.1 736.4,699.5 754.3,702.8 772.3,702.9 790.2,707.1 808.1,715.5 826.0,721.7 843.9,730.4 861.9,748.2 879.8,764.6 897.7,784.1 915.6,803.3 933.5,818.3 951.5,834.5 969.4,847.4 987.3,866.1 1005.2,888.1 1023.1,917.6 1041.1,938.2 1059.0,957.5 1076.9,977.2 1094.8,990.2 1112.7,1004.5 1130.7,1020.7 1148.6,1035.7 1166.5,1048.2 1184.4,1059.6 1202.3,1062.1 1220.3,1057.9 1238.2,1049.4 1256.1,1040.8 1274.0,1025.6 1291.9,1004.1 1309.9,979.9 1327.8,953.0 1345.7,923.7 1363.6,898.3 1381.5,872.7 1399.5,846.7 1417.4,818.9 1435.3,797.4 1453.2,774.3 1471.1,755.1 1489.1,738.8 1507.0,728.2 1524.9,721.8 1542.8,710.9 1560.7,706.7 1578.7,705.1 1596.6,698.8 1614.5,696.4 1632.4,694.2 1650.3,692.4 1668.3,688.6 1686.2,689.4 1704.1,688.8 1722.0,690.1 1739.9,686.6 1757.9,685.1 1775.8,685.2 1793.7,681.9 1811.6,684.0 1829.5,684.3 1847.5,682.4 1865.4,683.5 1883.3,684.3 1901.2,684.9 1919.1,682.6 1937.1,685.0 1955.0,683.4 1972.9,684.9 1990.8,689.1 2008.7,690.0 2026.7,692.4 2044.6,696.9 2062.5,697.3" fill="none" stroke="#808080" stroke-width="3" stroke-linejoin="round" stroke-linecap="butt" shape-rendering="crispEdges"/>
<polyline points="288.4,694.9 306.3,696.1 324.3,695.7 342.2,695.4 360.1,695.6 378.0,693.3 395.9,694.0 413.9,694.4 431.8,693.9 449.7,693.5 467.6,694.2 485.5,693.5 503.5,692.6 521.4,694.1 539.3,693.9 557.2,693.3 575.1,693.3 593.1,689.7 611.0,692.5 628.9,692.2 646.8,689.9 664.7,694.2 682.7,694.2 700.6,695.0 718.5,694.7 736.4,698.7 754.3,700.9 772.3,701.9 790.2,706.6 808.1,714.0 826.0,721.2 843.9,730.9 861.9,744.9 879.8,764.8 897.7,784.0 915.6,802.6 933.5,818.7 951.5,833.2 969.4,850.3 987.3,867.0 1005.2,890.6 1023.1,917.7 1041.1,937.6 1059.0,958.9 1076.9,980.9 1094.8,992.8 1112.7,1007.1 1130.7,1024.1 1148.6,1039.7 1166.5,1053.8 1184.4,1062.5 1202.3,1067.1 1220.3,1061.3 1238.2,1053.1 1256.1,1042.6 1274.0,1025.3 1291.9,1006.1 1309.9,979.3 1327.8,952.1 1345.7,925.2 1363.6,900.2 1381.5,871.2 1399.5,846.8 1417.4,818.9 1435.3,797.1 1453.2,772.5 1471.1,753.5 1489.1,737.8 1507.0,729.3 1524.9,717.2 1542.8,713.2 1560.7,707.8 1578.7,703.2 1596.6,700.7 1614.5,699.4 1632.4,694.8 1650.3,692.0 1668.3,691.9 1686.2,690.1 1704.1,687.3 1722.0,688.1 1739.9,687.2 1757.9,684.9 1775.8,684.4 1793.7,684.3 1811.6,682.8 1829.5,683.7 1847.5,683.1 1865.4,681.7 1883.3,684.5 1901.2,685.3 1919.1,682.9 1937.1,683.5 1955.0,684.5 1972.9,684.0 1990.8,687.4 2008.7,687.8 2026.7,693.7 2044.6,694.7 2062.5,695.8" fill="none" stroke="#808080" stroke-width="3" stroke-linejoin="round" stroke-linecap="butt" shape-rendering="crispEdges"/>
<polyline points="288.4,693.9 306.3,695.7 324.3,697.3 342.2,694.6 360.1,693.5 378.0,693.3 395.9,692.0 413.9,694.3 431.8,690.9 449.7,694.1 467.6,692.4 485.5,693.1 503.5,693.2 521.4,693.6 539.3,691.5 557.2,693.2 575.1,692.2 593.1,691.8 611.0,691.5 628.9,692.8 646.8,691.8 664.7,692.8 682.7,694.2 700.6,692.7 718.5,694.2 736.4,698.7 754.3,699.3 772.3,701.1 790.2,703.9 808.1,714.8 826.0,718.9 843.9,729.4 861.9,744.0 879.8,764.9 897.7,784.4 915.6,801.7 933.5,818.2 951.5,833.4 969.4,848.2 987.3,866.6 1005.2,890.9 1023.1,919.9 1041.1,940.6 1059.0,961.6 1076.9,981.4 1094.8,996.9 1112.7,1011.5 1130.7,1027.6 1148.6,1041.0 1166.5,1056.0 1184.4,1067.4 1202.3,1070.6 1220.3,1065.9 1238.2,1056.4 1256.1,1045.1 1274.0,1027.5 1291.9,1005.4 1309.9,979.4 1327.8,950.8 1345.7,921.1 1363.6,898.6 1381.5,870.8 1399.5,845.9 1417.4,818.6 1435.3,796.0 1453.2,774.1 1471.1,754.4 1489.1,738.8 1507.0,725.9 1524.9,717.4 1542.8,711.9 1560.7,708.4 1578.7,702.3 1596.6,699.0 1614.5,699.2 1632.4,693.1 1650.3,691.8 1668.3,690.2 1686.2,688.8 1704.1,687.9 1722.0,689.1 1739.9,687.3 1757.9,686.4 1775.8,683.9 1793.7,686.0 1811.6,684.5 1829.5,683.6 1847.5,683.9 1865.4,684.5 1883.3,685.1 1901.2,685.9 1919.1,683.8 1937.1,683.2 1955.0,683.1 1972.9,686.9 1990.8,687.2 2008.7,690.5 2026.7,694.2 2044.6,697.3 2062.5,696.9" fill="none" stroke="#808080" stroke-width="3" stroke-linejoin="round" stroke-linecap="butt" shape-rendering="crispEdges"/>
<polyline points="288.4,694.8 306.3,696.5 324.3,696.1 342.2,694.9 360.1,696.8 378.0,693.5 395.9,695.2 413.9,694.1 431.8,695.0 449.7,694.4 467.6,693.2 485.5,691.6 503.5,694.1 521.4,693.3 539.3,693.0 557.2,693.3 575.1,691.2 593.1,691.8 611.0,691.4 628.9,689.8 646.8,689.7 664.7,690.9 682.7,690.5 700.6,695.0 718.5,694.5 736.4,697.0 754.3,699.9 772.3,700.3 790.2,705.8 808.1,712.9 826.0,719.7 843.9,729.5 861.9,744.3 879.8,765.6 897.7,782.2 915.6,801.9 933.5,818.8 951.5,833.5 969.4,849.3 987.3,868.9 1005.2,890.3 1023.1,918.8 1041.1,941.2 1059.0,961.8 1076.9,984.1 1094.8,997.6 1112.7,1013.3 1130.7,1032.5 1148.6,1045.9 1166.5,1060.5 1184.4,1067.0 1202.3,1069.9 1220.3,1066.2 1238.2,1059.2 1256.1,1048.6 1274.0,1026.8 1291.9,1004.2 1309.9,979.9 1327.8,951.1 1345.7,921.9 1363.6,897.5 1381.5,869.4 1399.5,844.5 1417.4,817.8 1435.3,795.9 1453.2,772.7 1471.1,751.2 1489.1,738.9 1507.0,728.5 1524.9,719.7 1542.8,711.6 1560.7,705.8 1578.7,704.2 1596.6,699.5 1614.5,697.5 1632.4,695.6 1650.3,692.4 1668.3,688.8 1686.2,690.2 1704.1,687.7 1722.0,686.7 1739.9,687.3 1757.9,686.6 1775.8,685.8 1793.7,686.2 1811.6,682.7 1829.5,684.4 1847.5,685.1 1865.4,684.5 1883.3,685.0 1901.2,685.6 1919.1,686.2 1937.1,684.3 1955.0,684.0 1972.9,684.5 1990.8,689.6 2008.7,692.0 2026.7,693.2 2044.6,697.6 2062.5,696.9" fill="none" stroke="#808080" stroke-width="3" stroke-linejoin="round" stroke-linecap="butt" shape-rendering="crispEdges"/>
<polyline points="288.4,695.1 306.3,696.1 324.3,696.3 342.2,695.3 360.1,694.5 378.0,694.1 395.9,692.4 413.9,692.7 431.8,693.0 449.7,692.6 467.6,692.5 485.5,693.5 503.5,693.7 521.4,690.5 539.3,693.7 557.2,692.4 575.1,692.1 593.1,691.8 611.0,692.1 628.9,691.7 646.8,689.0 664.7,691.5 682.7,691.2 700.6,694.1 718.5,693.4 736.4,695.0 754.3,699.1 772.3,701.4 790.2,704.4 808.1,713.7 826.0,718.8 843.9,727.5 861.9,745.4 879.8,762.6 897.7,780.7 915.6,800.0 933.5,818.0 951.5,835.2 969.4,852.6 987.3,867.4 1005.2,893.2 1023.1,921.6 1041.1,941.6 1059.0,964.1 1076.9,985.3 1094.8,1001.7 1112.7,1016.5 1130.7,1031.6 1148.6,1049.0 1166.5,1062.7 1184.4,1072.1 1202.3,1077.4 1220.3,1069.5 1238.2,1058.3 1256.1,1047.0 1274.0,1030.6 1291.9,1006.5 1309.9,978.8 1327.8,948.5 1345.7,920.1 1363.6,895.1 1381.5,869.8 1399.5,843.0 1417.4,816.7 1435.3,794.1 1453.2,771.7 1471.1,753.1 1489.1,733.9 1507.0,725.4 1524.9,719.9 1542.8,712.2 1560.7,705.7 1578.7,703.1 1596.6,699.6 1614.5,696.8 1632.4,696.5 1650.3,692.4 1668.3,691.3 1686.2,689.1 1704.1,688.3 1722.0,687.0 1739.9,687.0 1757.9,686.4 1775.8,686.0 1793.7,686.0 1811.6,685.2 1829.5,685.0 1847.5,683.7 1865.4,686.3 1883.3,686.5 1901.2,687.6 1919.1,685.3 1937.1,686.1 1955.0,685.4 1972.9,684.9 1990.8,688.5 2008.7,690.6 2026.7,691.9 2044.6,694.6 2062.5,696.8" fill="none" stroke="#808080" stroke-width="3" stroke-linejoin="round" stroke-linecap="butt" shape-rendering="crispEdges"/>
<polyline points="288.4,695.9 306.3,697.0 324.3,698.0 342.2,696.1 360.1,695.1 378.0,694.3 395.9,691.8 413.9,694.5 431.8,692.1 449.7,693.3 467.6,692.7 485.5,694.3 503.5,693.7 521.4,694.2 539.3,692.8 557.2,692.2 575.1,692.5 593.1,693.8 611.0,691.6 628.9,690.9 646.8,689.1 664.7,689.6 682.7,692.0 700.6,694.1 718.5,693.4 736.4,696.0 754.3,698.8 772.3,702.7 790.2,706.4 808.1,712.4 826.0,719.7 843.9,728.6 861.9,744.8 879.8,760.5 897.7,779.3 915.6,800.1 933.5,817.3 951.5,835.3 969.4,848.8 987.3,868.9 1005.2,892.9 1023.1,920.0 1041.1,941.2 1059.0,966.2 1076.9,989.1 1094.8,1003.8 1112.7,1019.8 1130.7,1035.9 1148.6,1052.2 1166.5,1065.8 1184.4,1076.5 1202.3,1077.8 1220.3,1072.5 1238.2,1061.4 1256.1,1050.8 1274.0,1032.1 1291.9,1006.3 1309.9,979.4 1327.8,950.6 1345.7,920.2 1363.6,896.7 1381.5,868.3 1399.5,844.4 1417.4,818.6 1435.3,795.5 1453.2,772.2 1471.1,751.8 1489.1,735.8 1507.0,727.4 1524.9,719.7 1542.8,712.5 1560.7,707.3 1578.7,704.2 1596.6,700.1 1614.5,696.0 1632.4,693.9 1650.3,692.3 1668.3,690.5 1686.2,688.7 1704.1,688.9 1722.0,687.8 1739.9,688.7 1757.9,687.2 1775.8,687.6 1793.7,685.2 1811.6,684.6 1829.5,683.2 1847.5,684.7 1865.4,688.6 1883.3,686.6 1901.2,686.3 1919.1,686.1 1937.1,685.4 1955.0,686.8 1972.9,687.1 1990.8,688.0 2008.7,689.2 2026.7,694.0 2044.6,696.9 2062.5,697.7" fill="none" stroke="#808080" stroke-width="3" stroke-linejoin="round" stroke-linecap="butt" shape-rendering="crispEdges"/>
<polyline points="288.4,694.8 306.3,696.9 324.3,697.1 342.2,696.1 360.1,694.2 378.0,694.8 395.9,693.2 413.9,692.6 431.8,695.0 449.7,691.9 467.6,692.0 485.5,694.8 503.5,692.8 521.4,694.2 539.3,689.9 557.2,693.5 575.1,691.7 593.1,691.5 611.0,691.5 628.9,688.0 646.8,689.3 664.7,690.7 682.7,695.1 700.6,692.4 718.5,694.8 736.4,696.4 754.3,699.3 772.3,699.9 790.2,704.8 808.1,709.9 826.0,716.5 843.9,728.2 861.9,741.6 879.8,760.3 897.7,779.5 915.6,798.8 933.5,815.4 951.5,833.9 969.4,850.9 987.3,870.5 1005.2,891.8 1023.1,921.9 1041.1,942.6 1059.0,965.6 1076.9,990.0 1094.8,1006.2 1112.7,1020.9 1130.7,1037.2 1148.6,1054.7 1166.5,1067.7 1184.4,1077.5 1202.3,1081.8 1220.3,1074.4 1238.2,1064.1 1256.1,1051.3 1274.0,1031.1 1291.9,1006.6 1309.9,978.7 1327.8,951.6 1345.7,919.3 1363.6,893.1 1381.5,868.0 1399.5,843.9 1417.4,815.7 1435.3,793.4 1453.2,771.1 1471.1,750.7 1489.1,736.7 1507.0,725.7 1524.9,719.1 1542.8,713.0 1560.7,707.0 1578.7,706.3 1596.6,699.5 1614.5,698.9 1632.4,695.9 1650.3,694.8 1668.3,692.2 1686.2,688.2 1704.1,689.3 1722.0,690.2 1739.9,688.4 1757.9,686.3 1775.8,686.7 1793.7,687.3 1811.6,687.4 1829.5,684.7 1847.5,685.0 1865.4,685.0 1883.3,685.6 1901.2,686.6 1919.1,687.7 1937.1,686.6 1955.0,685.9 1972.9,687.4 1990.8,689.7 2008.7,691.2 2026.7,693.3 2044.6,695.6 2062.5,698.2" fill="none" stroke="#808080" stroke-width="3" stroke-linejoin="round" stroke-linecap="butt" shape-rendering="crispEdges"/>
<polyline points="288.4,695.2 306.3,697.6 324.3,696.5 342.2,695.2 360.1,693.8 378.0,694.2 395.9,692.4 413.9,692.7 431.8,693.4 449.7,692.7 467.6,692.1 485.5,692.3 503.5,691.5 521.4,693.2 539.3,692.8 557.2,693.0 575.1,693.9 593.1,692.5 611.0,691.4 628.9,690.5 646.8,692.3 664.7,690.3 682.7,691.4 700.6,694.1 718.5,692.5 736.4,695.2 754.3,698.4 772.3,702.5 790.2,704.0 808.1,710.8 826.0,716.5 843.9,726.0 861.9,742.6 879.8,759.8 897.7,777.8 915.6,798.6 933.5,815.4 951.5,834.9 969.4,849.9 987.3,868.3 1005.2,892.5 1023.1,920.1 1041.1,942.8 1059.0,966.8 1076.9,992.9 1094.8,1007.7 1112.7,1025.0 1130.7,1042.2 1148.6,1056.3 1166.5,1071.4 1184.4,1078.8 1202.3,1085.6 1220.3,1077.1 1238.2,1067.1 1256.1,1053.7 1274.0,1033.8 1291.9,1007.4 1309.9,980.6 1327.8,950.3 1345.7,919.7 1363.6,895.6 1381.5,867.1 1399.5,843.2 1417.4,816.3 1435.3,794.8 1453.2,772.7 1471.1,752.3 1489.1,737.1 1507.0,730.0 1524.9,718.2 1542.8,714.4 1560.7,708.3 1578.7,704.7 1596.6,699.0 1614.5,698.7 1632.4,695.3 1650.3,692.8 1668.3,692.6 1686.2,690.2 1704.1,690.6 1722.0,688.6 1739.9,689.4 1757.9,688.6 1775.8,686.9 1793.7,686.6 1811.6,686.1 1829.5,685.4 1847.5,684.9 1865.4,688.4 1883.3,687.8 1901.2,687.4 1919.1,686.6 1937.1,685.7 1955.0,687.1 1972.9,687.9 1990.8,688.9 2008.7,691.0 2026.7,693.6 2044.6,695.1 2062.5,697.8" fill="none" stroke="#808080" stroke-width="3" stroke-linejoin="round" stroke-linecap="butt" shape-rendering="crispEdges"/>
<polyline points="288.4,695.3 306.3,697.8 324.3,697.6 342.2,696.4 360.1,694.0 378.0,692.0 395.9,692.2 413.9,693.2 431.8,693.7 449.7,693.4 467.6,693.5 485.5,693.5 503.5,693.1 521.4,693.0 539.3,692.4 557.2,692.9 575.1,691.8 593.1,691.4 611.0,691.3 628.9,693.1 646.8,688.7 664.7,689.5 682.7,691.3 700.6,693.2 718.5,691.9 736.4,696.9 754.3,696.2 772.3,702.1 790.2,702.3 808.1,709.4 826.0,717.6 843.9,726.1 861.9,741.0 879.8,759.0 897.7,776.9 915.6,797.4 933.5,815.0 951.5,831.5 969.4,849.4 987.3,870.3 1005.2,895.3 1023.1,922.8 1041.1,943.5 1059.0,967.6 1076.9,994.7 1094.8,1009.8 1112.7,1025.9 1130.7,1042.2 1148.6,1060.4 1166.5,1073.5 1184.4,1084.3 1202.3,1084.6 1220.3,1077.8 1238.2,1069.2 1256.1,1056.3 1274.0,1035.2 1291.9,1009.2 1309.9,979.9 1327.8,949.7 1345.7,918.7 1363.6,894.5 1381.5,870.0 1399.5,842.7 1417.4,815.3 1435.3,792.9 1453.2,770.9 1471.1,751.3 1489.1,737.4 1507.0,726.4 1524.9,718.1 1542.8,714.2 1560.7,709.3 1578.7,704.2 1596.6,702.6 1614.5,697.7 1632.4,696.1 1650.3,695.3 1668.3,692.7 1686.2,692.1 1704.1,687.7 1722.0,690.3 1739.9,688.8 1757.9,688.5 1775.8,686.8 1793.7,687.4 1811.6,688.0 1829.5,687.2 1847.5,686.9 1865.4,688.0 1883.3,689.1 1901.2,688.8 1919.1,687.4 1937.1,686.6 1955.0,687.0 1972.9,687.6 1990.8,689.1 2008.7,692.0 2026.7,692.0 2044.6,695.1 2062.5,697.0" fill="none" stroke="#808080" stroke-width="3" stroke-linejoin="round" stroke-linecap="butt" shape-rendering="crispEdges"/>
<polyline points="288.4,696.1 306.3,698.3 324.3,698.3 342.2,696.3 360.1,694.3 378.0,695.2 395.9,694.4 413.9,693.0 431.8,693.4 449.7,693.6 467.6,694.1 485.5,692.7 503.5,694.4 521.4,694.0 539.3,692.4 557.2,692.4 575.1,691.2 593.1,690.8 611.0,691.5 628.9,692.3 646.8,691.6 664.7,690.3 682.7,691.2 700.6,692.0 718.5,692.2 736.4,694.7 754.3,698.4 772.3,700.0 790.2,703.7 808.1,709.4 826.0,718.8 843.9,726.8 861.9,740.5 879.8,757.1 897.7,775.9 915.6,796.2 933.5,813.0 951.5,832.2 969.4,851.9 987.3,869.0 1005.2,893.1 1023.1,922.7 1041.1,944.5 1059.0,967.4 1076.9,993.3 1094.8,1012.0 1112.7,1028.3 1130.7,1046.2 1148.6,1061.3 1166.5,1074.2 1184.4,1086.7 1202.3,1088.6 1220.3,1081.8 1238.2,1070.1 1256.1,1056.9 1274.0,1035.8 1291.9,1008.9 1309.9,978.9 1327.8,949.7 1345.7,918.5 1363.6,896.5 1381.5,868.5 1399.5,844.4 1417.4,815.2 1435.3,791.9 1453.2,772.3 1471.1,750.9 1489.1,737.1 1507.0,725.5 1524.9,720.1 1542.8,711.2 1560.7,707.6 1578.7,702.6 1596.6,701.8 1614.5,699.5 1632.4,696.6 1650.3,693.4 1668.3,693.2 1686.2,692.6 1704.1,691.6 1722.0,691.7 1739.9,691.6 1757.9,689.4 1775.8,688.6 1793.7,688.1 1811.6,688.1 1829.5,687.0 1847.5,686.3 1865.4,688.1 1883.3,690.6 1901.2,688.2 1919.1,687.8 1937.1,687.5 1955.0,687.0 1972.9,690.2 1990.8,690.4 2008.7,693.0 2026.7,693.0 2044.6,697.1 2062.5,697.8" fill="none" stroke="#808080" stroke-width="3" stroke-linejoin="round" stroke-linecap="butt" shape-rendering="crispEdges"/>
<polyline points="288.4,695.6 306.3,698.6 324.3,698.9 342.2,696.8 360.1,695.5 378.0,693.4 395.9,695.0 413.9,693.6 431.8,694.1 449.7,694.0 467.6,693.8 485.5,692.5 503.5,693.4 521.4,693.2 539.3,694.2 557.2,692.1 575.1,693.3 593.1,692.3 611.0,691.5 628.9,692.9 646.8,691.1 664.7,689.6 682.7,691.9 700.6,691.9 718.5,690.5 736.4,694.5 754.3,697.1 772.3,701.7 790.2,704.0 808.1,707.3 826.0,716.4 843.9,724.6 861.9,739.6 879.8,757.1 897.7,774.0 915.6,794.8 933.5,812.1 951.5,832.7 969.4,849.1 987.3,869.8 1005.2,893.4 1023.1,922.6 1041.1,941.8 1059.0,969.3 1076.9,994.8 1094.8,1013.5 1112.7,1030.2 1130.7,1047.2 1148.6,1061.4 1166.5,1077.8 1184.4,1087.4 1202.3,1091.0 1220.3,1083.0 1238.2,1070.6 1256.1,1057.4 1274.0,1035.9 1291.9,1007.6 1309.9,980.2 1327.8,951.4 1345.7,918.0 1363.6,893.3 1381.5,867.2 1399.5,843.1 1417.4,815.6 1435.3,794.9 1453.2,771.6 1471.1,752.1 1489.1,736.8 1507.0,728.4 1524.9,720.9 1542.8,713.3 1560.7,709.2 1578.7,705.8 1596.6,701.9 1614.5,698.8 1632.4,696.2 1650.3,694.9 1668.3,692.8 1686.2,693.5 1704.1,691.9 1722.0,690.7 1739.9,689.8 1757.9,690.1 1775.8,690.5 1793.7,689.7 1811.6,689.8 1829.5,687.5 1847.5,687.7 1865.4,689.0 1883.3,689.5 1901.2,690.1 1919.1,690.0 1937.1,688.5 1955.0,689.7 1972.9,689.2 1990.8,691.6 2008.7,692.4 2026.7,694.5 2044.6,697.3 2062.5,699.4" fill="none" stroke="#808080" stroke-width="3" stroke-linejoin="round" stroke-linecap="butt" shape-rendering="crispEdges"/>
<polyline points="288.4,696.5 306.3,698.6 324.3,699.5 342.2,696.4 360.1,696.3 378.0,693.5 395.9,692.4 413.9,694.5 431.8,693.7 449.7,693.2 467.6,691.3 485.5,694.0 503.5,693.0 521.4,692.3 539.3,693.3 557.2,692.0 575.1,691.9 593.1,691.4 611.0,692.7 628.9,691.2 646.8,691.8 664.7,689.5 682.7,690.5 700.6,694.4 718.5,690.3 736.4,696.2 754.3,696.4 772.3,700.6 790.2,702.3 808.1,711.1 826.0,718.4 843.9,726.0 861.9,739.5 879.8,755.6 897.7,773.5 915.6,794.1 933.5,811.2 951.5,829.3 969.4,850.5 987.3,868.1 1005.2,894.2 1023.1,922.5 1041.1,943.3 1059.0,968.3 1076.9,995.2 1094.8,1013.8 1112.7,1031.0 1130.7,1047.7 1148.6,1066.0 1166.5,1080.2 1184.4,1090.6 1202.3,1090.4 1220.3,1084.6 1238.2,1074.2 1256.1,1059.5 1274.0,1037.6 1291.9,1010.0 1309.9,979.9 1327.8,950.8 1345.7,918.9 1363.6,893.5 1381.5,868.3 1399.5,842.3 1417.4,817.4 1435.3,793.8 1453.2,770.4 1471.1,753.3 1489.1,736.8 1507.0,728.2 1524.9,720.7 1542.8,712.9 1560.7,707.7 1578.7,705.6 1596.6,701.6 1614.5,698.0 1632.4,698.8 1650.3,696.1 1668.3,694.1 1686.2,692.9 1704.1,692.7 1722.0,691.4 1739.9,691.6 1757.9,690.7 1775.8,689.5 1793.7,691.3 1811.6,689.7 1829.5,688.0 1847.5,687.8 1865.4,686.8 1883.3,688.4 1901.2,689.0 1919.1,690.4 1937.1,690.0 1955.0,690.6 1972.9,690.8 1990.8,693.4 2008.7,692.9 2026.7,694.5 2044.6,696.0 2062.5,698.5" fill="none" stroke="#808080" stroke-width="3" stroke-linejoin="round" stroke-linecap="butt" shape-rendering="crispEdges"/>
<polyline points="288.4,696.7 306.3,698.6 324.3,698.9 342.2,697.5 360.1,694.5 378.0,694.9 395.9,694.5 413.9,696.1 431.8,694.4 449.7,692.7 467.6,694.2 485.5,694.1 503.5,692.5 521.4,690.7 539.3,694.5 557.2,693.4 575.1,692.3 593.1,692.3 611.0,693.3 628.9,693.3 646.8,690.3 664.7,692.0 682.7,691.8 700.6,692.7 718.5,691.5 736.4,694.9 754.3,697.4 772.3,699.2 790.2,703.0 808.1,708.5 826.0,716.8 843.9,724.0 861.9,739.0 879.8,754.8 897.7,769.5 915.6,792.3 933.5,810.5 951.5,829.4 969.4,847.7 987.3,869.7 1005.2,893.1 1023.1,923.2 1041.1,943.2 1059.0,967.4 1076.9,996.6 1094.8,1015.3 1112.7,1033.4 1130.7,1050.4 1148.6,1066.6 1166.5,1081.5 1184.4,1093.6 1202.3,1095.4 1220.3,1085.0 1238.2,1073.4 1256.1,1061.9 1274.0,1036.8 1291.9,1011.5 1309.9,979.6 1327.8,949.1 1345.7,919.4 1363.6,894.8 1381.5,866.8 1399.5,841.5 1417.4,816.8 1435.3,794.2 1453.2,772.4 1471.1,753.3 1489.1,738.8 1507.0,727.0 1524.9,720.8 1542.8,714.5 1560.7,709.0 1578.7,703.9 1596.6,701.2 1614.5,700.5 1632.4,696.0 1650.3,694.4 1668.3,695.5 1686.2,692.0 1704.1,691.3 1722.0,692.4 1739.9,692.0 1757.9,690.7 1775.8,689.3 1793.7,690.3 1811.6,690.4 1829.5,688.5 1847.5,687.9 1865.4,691.0 1883.3,691.2 1901.2,691.8 1919.1,691.3 1937.1,689.0 1955.0,690.6 1972.9,692.1 1990.8,692.8 2008.7,692.5 2026.7,693.9 2044.6,696.3 2062.5,698.9" fill="none" stroke="#808080" stroke-width="3" stroke-linejoin="round" stroke-linecap="butt" shape-rendering="crispEdges"/>
<polyline points="288.4,697.2 306.3,699.5 324.3,699.0 342.2,698.4 360.1,695.3 378.0,696.4 395.9,694.8 413.9,691.7 431.8,694.3 449.7,693.4 467.6,693.4 485.5,694.0 503.5,695.2 521.4,695.0 539.3,695.5 557.2,693.9 575.1,691.5 593.1,692.3 611.0,691.4 628.9,691.2 646.8,693.7 664.7,691.5 682.7,691.0 700.6,694.0 718.5,691.4 736.4,693.7 754.3,698.7 772.3,699.4 790.2,703.0 808.1,711.7 826.0,715.1 843.9,725.4 861.9,737.6 879.8,752.7 897.7,769.6 915.6,790.4 933.5,809.1 951.5,826.8 969.4,848.1 987.3,866.6 1005.2,893.5 1023.1,922.5 1041.1,942.5 1059.0,969.5 1076.9,995.6 1094.8,1017.1 1112.7,1032.8 1130.7,1049.4 1148.6,1067.1 1166.5,1081.6 1184.4,1093.5 1202.3,1094.6 1220.3,1088.8 1238.2,1073.8 1256.1,1062.3 1274.0,1038.1 1291.9,1011.1 1309.9,980.0 1327.8,948.8 1345.7,918.8 1363.6,894.2 1381.5,868.7 1399.5,842.0 1417.4,817.8 1435.3,794.6 1453.2,769.4 1471.1,753.2 1489.1,738.5 1507.0,727.6 1524.9,718.0 1542.8,712.1 1560.7,708.5 1578.7,706.0 1596.6,702.9 1614.5,700.2 1632.4,697.6 1650.3,696.9 1668.3,694.8 1686.2,694.5 1704.1,692.4 1722.0,691.6 1739.9,690.2 1757.9,693.0 1775.8,690.9 1793.7,690.5 1811.6,688.9 1829.5,690.8 1847.5,688.3 1865.4,690.6 1883.3,691.6 1901.2,693.2 1919.1,690.5 1937.1,688.8 1955.0,691.7 1972.9,691.9 1990.8,692.0 2008.7,694.1 2026.7,697.7 2044.6,697.4 2062.5,697.9" fill="none" stroke="#808080" stroke-width="3" stroke-linejoin="round" stroke-linecap="butt" shape-rendering="crispEdges"/>
<polyline points="288.4,697.6 306.3,700.0 324.3,700.3 342.2,698.4 360.1,696.8 378.0,694.4 395.9,695.8 413.9,696.1 431.8,695.5 449.7,694.5 467.6,694.5 485.5,694.8 503.5,694.6 521.4,692.9 539.3,694.5 557.2,695.7 575.1,693.5 593.1,692.8 611.0,693.4 628.9,692.4 646.8,690.7 664.7,691.2 682.7,694.0 700.6,694.9 718.5,691.9 736.4,695.0 754.3,698.9 772.3,700.4 790.2,703.5 808.1,709.3 826.0,714.7 843.9,722.8 861.9,737.3 879.8,751.7 897.7,769.3 915.6,789.2 933.5,808.6 951.5,827.3 969.4,848.4 987.3,868.3 1005.2,893.4 1023.1,923.0 1041.1,942.5 1059.0,965.9 1076.9,997.8 1094.8,1019.7 1112.7,1037.1 1130.7,1053.0 1148.6,1069.0 1166.5,1084.8 1184.4,1094.7 1202.3,1096.7 1220.3,1086.6 1238.2,1074.8 1256.1,1062.8 1274.0,1036.3 1291.9,1009.5 1309.9,980.1 1327.8,949.3 1345.7,919.1 1363.6,895.1 1381.5,868.5 1399.5,843.1 1417.4,815.7 1435.3,793.0 1453.2,771.3 1471.1,753.2 1489.1,739.6 1507.0,729.4 1524.9,719.1 1542.8,713.0 1560.7,710.9 1578.7,703.6 1596.6,702.9 1614.5,698.9 1632.4,698.0 1650.3,695.8 1668.3,694.9 1686.2,692.7 1704.1,694.1 1722.0,695.0 1739.9,689.9 1757.9,691.3 1775.8,690.7 1793.7,692.5 1811.6,693.3 1829.5,692.5 1847.5,691.9 1865.4,691.6 1883.3,691.6 1901.2,693.8 1919.1,691.4 1937.1,690.8 1955.0,691.7 1972.9,691.1 1990.8,693.1 2008.7,693.6 2026.7,696.2 2044.6,698.5 2062.5,698.2" fill="none" stroke="#808080" stroke-width="3" stroke-linejoin="round" stroke-linecap="butt" shape-rendering="crispEdges"/>
<polyline points="288.4,698.3 306.3,700.7 324.3,700.2 342.2,698.6 360.1,696.5 378.0,697.9 395.9,695.1 413.9,695.6 431.8,693.9 449.7,694.1 467.6,695.7 485.5,694.8 503.5,695.8 521.4,695.1 539.3,697.8 557.2,694.7 575.1,695.3 593.1,693.1 611.0,692.8 628.9,691.2 646.8,694.4 664.7,689.3 682.7,692.7 700.6,692.8 718.5,692.7 736.4,694.7 754.3,699.7 772.3,701.2 790.2,703.6 808.1,709.9 826.0,717.1 843.9,724.5 861.9,738.5 879.8,752.6 897.7,767.0 915.6,787.4 933.5,806.2 951.5,827.2 969.4,845.4 987.3,866.7 1005.2,891.6 1023.1,923.0 1041.1,943.4 1059.0,968.5 1076.9,998.9 1094.8,1020.2 1112.7,1035.3 1130.7,1054.8 1148.6,1070.2 1166.5,1083.4 1184.4,1097.0 1202.3,1097.7 1220.3,1089.5 1238.2,1076.6 1256.1,1061.9 1274.0,1038.9 1291.9,1009.6 1309.9,980.5 1327.8,950.6 1345.7,920.1 1363.6,893.8 1381.5,870.2 1399.5,842.9 1417.4,815.9 1435.3,793.2 1453.2,771.5 1471.1,754.4 1489.1,738.4 1507.0,728.7 1524.9,720.2 1542.8,713.7 1560.7,709.0 1578.7,707.9 1596.6,703.4 1614.5,701.7 1632.4,698.7 1650.3,697.8 1668.3,694.4 1686.2,693.3 1704.1,695.5 1722.0,693.8 1739.9,691.5 1757.9,693.5 1775.8,692.8 1793.7,693.0 1811.6,693.6 1829.5,690.8 1847.5,692.7 1865.4,692.5 1883.3,692.5 1901.2,692.2 1919.1,694.7 1937.1,692.2 1955.0,691.2 1972.9,693.0 1990.8,694.4 2008.7,695.7 2026.7,698.0 2044.6,698.4 2062.5,698.9" fill="none" stroke="#808080" stroke-width="3" stroke-linejoin="round" stroke-linecap="butt" shape-rendering="crispEdges"/>
<polyline points="288.4,699.4 306.3,701.6 324.3,700.5 342.2,699.9 360.1,696.8 378.0,698.0 395.9,695.1 413.9,696.2 431.8,697.3 449.7,695.9 467.6,696.7 485.5,694.9 503.5,694.4 521.4,694.5 539.3,696.3 557.2,694.9 575.1,696.4 593.1,694.1 611.0,695.2 628.9,693.6 646.8,691.2 664.7,691.9 682.7,693.4 700.6,694.0 718.5,692.1 736.4,696.6 754.3,699.0 772.3,701.2 790.2,702.4 808.1,707.4 826.0,716.6 843.9,723.0 861.9,735.8 879.8,750.4 897.7,765.8 915.6,784.8 933.5,804.3 951.5,826.0 969.4,843.2 987.3,865.7 1005.2,894.1 1023.1,923.1 1041.1,943.8 1059.0,969.4 1076.9,995.9 1094.8,1021.1 1112.7,1036.3 1130.7,1054.6 1148.6,1070.5 1166.5,1086.4 1184.4,1097.7 1202.3,1099.7 1220.3,1089.8 1238.2,1077.7 1256.1,1064.0 1274.0,1039.6 1291.9,1010.2 1309.9,980.3 1327.8,950.0 1345.7,919.1 1363.6,896.0 1381.5,868.8 1399.5,841.7 1417.4,817.0 1435.3,794.2 1453.2,772.9 1471.1,754.3 1489.1,738.3 1507.0,729.7 1524.9,722.3 1542.8,714.4 1560.7,709.2 1578.7,706.8 1596.6,702.9 1614.5,699.9 1632.4,698.9 1650.3,697.2 1668.3,696.8 1686.2,694.7 1704.1,693.0 1722.0,694.4 1739.9,692.8 1757.9,694.3 1775.8,693.2 1793.7,694.7 1811.6,694.0 1829.5,692.7 1847.5,691.0 1865.4,692.6 1883.3,695.2 1901.2,694.5 1919.1,695.0 1937.1,693.5 1955.0,693.4 1972.9,692.9 1990.8,695.0 2008.7,694.8 2026.7,696.1 2044.6,699.2 2062.5,698.1" fill="none" stroke="#808080" stroke-width="3" stroke-linejoin="round" stroke-linecap="butt" shape-rendering="crispEdges"/>
<polyline points="288.4,699.9 306.3,701.3 324.3,701.3 342.2,700.7 360.1,696.9 378.0,697.1 395.9,696.6 413.9,697.3 431.8,697.9 449.7,696.3 467.6,694.8 485.5,694.8 503.5,695.7 521.4,697.0 539.3,696.4 557.2,696.4 575.1,695.2 593.1,696.3 611.0,693.2 628.9,695.7 646.8,693.9 664.7,692.9 682.7,693.3 700.6,693.5 718.5,692.3 736.4,695.1 754.3,697.8 772.3,699.5 790.2,704.0 808.1,709.6 826.0,716.4 843.9,722.9 861.9,734.4 879.8,748.6 897.7,764.0 915.6,783.2 933.5,803.1 951.5,822.2 969.4,843.1 987.3,865.5 1005.2,891.1 1023.1,920.0 1041.1,944.2 1059.0,969.0 1076.9,996.8 1094.8,1023.2 1112.7,1040.1 1130.7,1055.2 1148.6,1072.3 1166.5,1090.9 1184.4,1097.9 1202.3,1100.6 1220.3,1091.9 1238.2,1077.5 1256.1,1062.7 1274.0,1038.5 1291.9,1011.7 1309.9,981.0 1327.8,952.2 1345.7,918.0 1363.6,894.4 1381.5,867.4 1399.5,843.4 1417.4,816.7 1435.3,791.7 1453.2,771.8 1471.1,754.0 1489.1,740.7 1507.0,730.6 1524.9,722.7 1542.8,715.1 1560.7,710.4 1578.7,706.7 1596.6,704.8 1614.5,701.8 1632.4,698.6 1650.3,697.7 1668.3,695.6 1686.2,695.3 1704.1,695.3 1722.0,694.6 1739.9,694.2 1757.9,693.7 1775.8,696.1 1793.7,695.0 1811.6,693.6 1829.5,693.4 1847.5,694.2 1865.4,695.9 1883.3,696.0 1901.2,694.9 1919.1,695.6 1937.1,692.7 1955.0,695.1 1972.9,694.4 1990.8,695.5 2008.7,694.9 2026.7,697.7 2044.6,697.1 2062.5,697.7" fill="none" stroke="#808080" stroke-width="3" stroke-linejoin="round" stroke-linecap="butt" shape-rendering="crispEdges"/>
<polyline points="288.4,700.1 306.3,701.3 324.3,702.7 342.2,699.8 360.1,698.3 378.0,697.5 395.9,698.1 413.9,697.3 431.8,695.8 449.7,695.9 467.6,697.9 485.5,698.0 503.5,696.2 521.4,697.7 539.3,696.8 557.2,697.8 575.1,695.2 593.1,696.4 611.0,694.4 628.9,693.0 646.8,693.8 664.7,693.2 682.7,692.2 700.6,691.8 718.5,692.4 736.4,696.3 754.3,697.9 772.3,700.6 790.2,702.9 808.1,709.0 826.0,716.3 843.9,724.7 861.9,735.5 879.8,748.0 897.7,761.4 915.6,781.9 933.5,799.2 951.5,821.7 969.4,842.3 987.3,864.6 1005.2,891.7 1023.1,921.8 1041.1,941.6 1059.0,969.8 1076.9,997.2 1094.8,1022.1 1112.7,1037.9 1130.7,1054.2 1148.6,1073.2 1166.5,1088.7 1184.4,1098.9 1202.3,1100.4 1220.3,1093.1 1238.2,1078.5 1256.1,1064.6 1274.0,1041.3 1291.9,1011.3 1309.9,981.7 1327.8,949.6 1345.7,920.0 1363.6,894.3 1381.5,869.1 1399.5,841.8 1417.4,815.8 1435.3,792.5 1453.2,772.1 1471.1,755.3 1489.1,740.8 1507.0,731.1 1524.9,722.1 1542.8,715.4 1560.7,710.6 1578.7,707.3 1596.6,703.6 1614.5,701.2 1632.4,698.9 1650.3,699.0 1668.3,698.0 1686.2,697.9 1704.1,692.2 1722.0,696.0 1739.9,695.5 1757.9,697.6 1775.8,695.0 1793.7,695.1 1811.6,695.7 1829.5,693.3 1847.5,692.7 1865.4,695.4 1883.3,693.9 1901.2,695.0 1919.1,696.8 1937.1,695.8 1955.0,693.8 1972.9,696.8 1990.8,695.9 2008.7,696.3 2026.7,697.8 2044.6,698.5 2062.5,700.6" fill="none" stroke="#808080" stroke-width="3" stroke-linejoin="round" stroke-linecap="butt" shape-rendering="crispEdges"/>
<polyline points="288.4,700.2 306.3,702.0 324.3,702.5 342.2,701.4 360.1,698.3 378.0,696.9 395.9,695.1 413.9,698.1 431.8,697.1 449.7,696.7 467.6,696.1 485.5,696.6 503.5,697.2 521.4,696.2 539.3,697.6 557.2,699.1 575.1,696.2 593.1,696.2 611.0,697.1 628.9,694.9 646.8,695.3 664.7,694.1 682.7,695.0 700.6,694.2 718.5,692.3 736.4,697.4 754.3,698.7 772.3,700.6 790.2,701.2 808.1,709.5 826.0,718.4 843.9,723.9 861.9,736.2 879.8,747.3 897.7,759.0 915.6,779.9 933.5,800.4 951.5,820.2 969.4,841.0 987.3,863.7 1005.2,890.5 1023.1,921.6 1041.1,943.2 1059.0,970.2 1076.9,998.4 1094.8,1021.4 1112.7,1036.9 1130.7,1055.8 1148.6,1072.3 1166.5,1090.3 1184.4,1098.6 1202.3,1101.0 1220.3,1091.4 1238.2,1080.0 1256.1,1064.4 1274.0,1037.6 1291.9,1009.3 1309.9,981.0 1327.8,948.6 1345.7,919.9 1363.6,894.2 1381.5,869.9 1399.5,842.5 1417.4,815.5 1435.3,791.1 1453.2,772.9 1471.1,754.2 1489.1,740.3 1507.0,733.5 1524.9,723.5 1542.8,714.7 1560.7,711.1 1578.7,705.7 1596.6,703.9 1614.5,702.8 1632.4,699.0 1650.3,698.7 1668.3,697.5 1686.2,696.7 1704.1,694.8 1722.0,694.3 1739.9,695.6 1757.9,696.3 1775.8,695.2 1793.7,697.6 1811.6,697.6 1829.5,696.1 1847.5,696.1 1865.4,696.7 1883.3,697.6 1901.2,697.3 1919.1,696.9 1937.1,696.6 1955.0,697.3 1972.9,695.8 1990.8,698.0 2008.7,696.2 2026.7,700.0 2044.6,699.5 2062.5,702.3" fill="none" stroke="#808080" stroke-width="3" stroke-linejoin="round" stroke-linecap="butt" shape-rendering="crispEdges"/>
<polyline points="288.4,700.6 306.3,703.2 324.3,702.6 342.2,701.2 360.1,699.6 378.0,698.9 395.9,698.7 413.9,698.0 431.8,697.6 449.7,698.4 467.6,696.1 485.5,697.3 503.5,698.6 521.4,698.0 539.3,699.4 557.2,697.4 575.1,697.1 593.1,697.5 611.0,698.0 628.9,694.1 646.8,692.6 664.7,692.4 682.7,693.3 700.6,695.0 718.5,694.0 736.4,696.3 754.3,699.1 772.3,701.5 790.2,704.0 808.1,710.1 826.0,716.2 843.9,724.3 861.9,732.7 879.8,745.4 897.7,758.8 915.6,779.0 933.5,796.4 951.5,819.1 969.4,839.3 987.3,863.0 1005.2,890.6 1023.1,923.7 1041.1,943.4 1059.0,968.7 1076.9,998.6 1094.8,1022.0 1112.7,1039.3 1130.7,1055.0 1148.6,1073.0 1166.5,1090.1 1184.4,1100.3 1202.3,1099.8 1220.3,1091.3 1238.2,1077.3 1256.1,1062.4 1274.0,1039.4 1291.9,1012.8 1309.9,981.1 1327.8,950.2 1345.7,919.0 1363.6,894.2 1381.5,868.1 1399.5,844.2 1417.4,815.9 1435.3,794.3 1453.2,771.2 1471.1,753.6 1489.1,741.0 1507.0,729.8 1524.9,724.6 1542.8,716.2 1560.7,711.2 1578.7,707.2 1596.6,705.5 1614.5,701.8 1632.4,702.2 1650.3,700.6 1668.3,697.4 1686.2,696.3 1704.1,695.0 1722.0,695.0 1739.9,697.6 1757.9,697.4 1775.8,698.8 1793.7,698.4 1811.6,698.5 1829.5,697.6 1847.5,695.7 1865.4,697.0 1883.3,698.5 1901.2,698.3 1919.1,696.8 1937.1,696.4 1955.0,700.1 1972.9,696.4 1990.8,696.8 2008.7,697.9 2026.7,698.5 2044.6,700.3 2062.5,699.6" fill="none" stroke="#808080" stroke-width="3" stroke-linejoin="round" stroke-linecap="butt" shape-rendering="crispEdges"/>
<polyline points="288.4,701.0 306.3,703.5 324.3,704.0 342.2,702.0 360.1,700.0 378.0,699.0 395.9,698.5 413.9,698.3 431.8,698.2 449.7,698.0 467.6,698.2 485.5,698.4 503.5,698.5 521.4,698.7 539.3,698.9 557.2,698.8 575.1,698.1 593.1,697.5 611.0,696.8 628.9,696.0 646.8,694.8 664.7,694.1 682.7,695.0 700.6,695.1 718.5,693.3 736.4,696.6 754.3,699.1 772.3,701.1 790.2,703.7 808.1,709.8 826.0,716.0 843.9,722.9 861.9,733.2 879.8,744.6 897.7,756.7 915.6,775.8 933.5,795.0 951.5,816.5 969.4,838.7 987.3,862.3 1005.2,891.0 1023.1,921.7 1041.1,943.0 1059.0,969.2 1076.9,997.6 1094.8,1022.8 1112.7,1039.1 1130.7,1056.4 1148.6,1073.4 1166.5,1089.8 1184.4,1100.0 1202.3,1100.7 1220.3,1092.1 1238.2,1079.1 1256.1,1064.5 1274.0,1039.7 1291.9,1011.7 1309.9,980.7 1327.8,949.6 1345.7,918.9 1363.6,894.2 1381.5,868.1 1399.5,842.5 1417.4,816.2 1435.3,793.1 1453.2,772.6 1471.1,754.9 1489.1,741.4 1507.0,731.7 1524.9,723.4 1542.8,716.3 1560.7,711.1 1578.7,707.9 1596.6,705.3 1614.5,702.8 1632.4,701.3 1650.3,699.8 1668.3,698.6 1686.2,697.7 1704.1,697.0 1722.0,697.0 1739.9,697.0 1757.9,697.3 1775.8,698.0 1793.7,698.7 1811.6,698.5 1829.5,697.8 1847.5,697.1 1865.4,697.6 1883.3,698.3 1901.2,699.0 1919.1,698.6 1937.1,698.3 1955.0,698.0 1972.9,698.0 1990.8,698.0 2008.7,698.3 2026.7,698.9 2044.6,699.4 2062.5,700.0" fill="none" stroke="#f00" stroke-width="3" stroke-linejoin="round" stroke-linecap="butt" shape-rendering="crispEdges"/>
<polyline points="288.4,698.5 306.3,698.5 324.3,698.5 342.2,698.5 360.1,698.5 378.0,698.5 395.9,698.5 413.9,698.5 431.8,698.5 449.7,698.5 467.6,698.5 485.5,698.5 503.5,698.5 521.4,698.5 539.3,698.5 557.2,698.5 575.1,698.6 593.1,698.6 611.0,698.6 628.9,698.6 646.8,698.6 664.7,698.7 682.7,699.1 700.6,699.7 718.5,700.3 736.4,701.2 754.3,702.4 772.3,704.0 790.2,706.1 808.1,709.6 826.0,714.9 843.9,720.9 861.9,728.1 879.8,738.6 897.7,751.2 915.6,764.9 933.5,781.6 951.5,804.7 969.4,830.3 987.3,856.2 1005.2,881.3 1023.1,908.6 1041.1,945.1 1059.0,975.4 1076.9,1005.8 1094.8,1031.9 1112.7,1060.8 1130.7,1082.4 1148.6,1097.2 1166.5,1107.3 1184.4,1110.5 1202.3,1107.0 1220.3,1097.4 1238.2,1081.8 1256.1,1060.5 1274.0,1031.4 1291.9,1001.5 1309.9,975.7 1327.8,946.1 1345.7,912.1 1363.6,882.3 1381.5,856.9 1399.5,830.4 1417.4,803.5 1435.3,785.0 1453.2,768.5 1471.1,752.7 1489.1,739.7 1507.0,730.0 1524.9,722.0 1542.8,715.3 1560.7,709.6 1578.7,706.5 1596.6,704.3 1614.5,702.6 1632.4,701.0 1650.3,699.7 1668.3,699.0 1686.2,698.5 1704.1,698.4 1722.0,698.4 1739.9,698.4 1757.9,698.4 1775.8,698.4 1793.7,698.4 1811.6,698.4 1829.5,698.4 1847.5,698.4 1865.4,698.4 1883.3,698.4 1901.2,698.4 1919.1,698.4 1937.1,698.4 1955.0,698.4 1972.9,698.4 1990.8,698.4 2008.7,698.4 2026.7,698.4 2044.6,698.4 2062.5,698.4" fill="none" stroke="#00f" stroke-width="3" stroke-linejoin="round" stroke-linecap="butt" shape-rendering="crispEdges"/>
<rect x="270.5" y="639.5" width="1792.0" height="511.9000000000001" fill="none" stroke="#262626" stroke-width="3"/>
<line x1="270.5" y1="1151.4" x2="270.5" y2="1131.9" stroke="#262626" stroke-width="3"/>
<line x1="270.5" y1="639.5" x2="270.5" y2="659.0" stroke="#262626" stroke-width="3"/>
<text transform="translate(270.5 1237.6) scale(0.955 1)" class="tk" text-anchor="middle">0</text>
<line x1="629.5" y1="1151.4" x2="629.5" y2="1131.9" stroke="#262626" stroke-width="3"/>
<line x1="629.5" y1="639.5" x2="629.5" y2="659.0" stroke="#262626" stroke-width="3"/>
<text transform="translate(629.5 1237.6) scale(0.955 1)" class="tk" text-anchor="middle">20</text>
<line x1="987.5" y1="1151.4" x2="987.5" y2="1131.9" stroke="#262626" stroke-width="3"/>
<line x1="987.5" y1="639.5" x2="987.5" y2="659.0" stroke="#262626" stroke-width="3"/>
<text transform="translate(987.5 1237.6) scale(0.955 1)" class="tk" text-anchor="middle">40</text>
<line x1="1345.5" y1="1151.4" x2="1345.5" y2="1131.9" stroke="#262626" stroke-width="3"/>
<line x1="1345.5" y1="639.5" x2="1345.5" y2="659.0" stroke="#262626" stroke-width="3"/>
<text transform="translate(1345.5 1237.6) scale(0.955 1)" class="tk" text-anchor="middle">60</text>
<line x1="1704.5" y1="1151.4" x2="1704.5" y2="1131.9" stroke="#262626" stroke-width="3"/>
<line x1="1704.5" y1="639.5" x2="1704.5" y2="659.0" stroke="#262626" stroke-width="3"/>
<text transform="translate(1704.5 1237.6) scale(0.955 1)" class="tk" text-anchor="middle">80</text>
<line x1="2062.5" y1="1151.4" x2="2062.5" y2="1131.9" stroke="#262626" stroke-width="3"/>
<line x1="2062.5" y1="639.5" x2="2062.5" y2="659.0" stroke="#262626" stroke-width="3"/>
<text transform="translate(2062.5 1237.6) scale(0.955 1)" class="tk" text-anchor="middle">100</text>
<line x1="270.5" y1="1110.5" x2="290.0" y2="1110.5" stroke="#262626" stroke-width="3"/>
<line x1="2062.5" y1="1110.5" x2="2043.0" y2="1110.5" stroke="#262626" stroke-width="3"/>
<text transform="translate(248 1136.3) scale(0.955 1)" class="tk" text-anchor="end">0.3</text>
<line x1="270.5" y1="904.5" x2="290.0" y2="904.5" stroke="#262626" stroke-width="3"/>
<line x1="2062.5" y1="904.5" x2="2043.0" y2="904.5" stroke="#262626" stroke-width="3"/>
<text transform="translate(248 930.3) scale(0.955 1)" class="tk" text-anchor="end">0.35</text>
<line x1="270.5" y1="698.5" x2="290.0" y2="698.5" stroke="#262626" stroke-width="3"/>
<line x1="2062.5" y1="698.5" x2="2043.0" y2="698.5" stroke="#262626" stroke-width="3"/>
<text transform="translate(248 724.3) scale(0.955 1)" class="tk" text-anchor="end">0.4</text>
<text transform="translate(94.62 438.29) rotate(-90) scale(0.7426 0.6941)" text-anchor="middle" style="font-family:'Liberation Serif','Times New Roman',serif;font-size:100px;font-style:italic;" fill="#262626">ρ</text>
<text transform="translate(115.60 410.25) rotate(-90) scale(0.5762 0.5159)" text-anchor="middle" style="font-family:'Liberation Serif','Times New Roman',serif;font-size:100px;font-style:italic;" fill="#262626">k</text>
<text transform="translate(59.18 408.99) rotate(-90) scale(0.5714 0.5151)" text-anchor="middle" style="font-family:'Liberation Serif','Times New Roman',serif;font-size:100px;font-style:italic;" fill="#262626">j</text>
<text transform="translate(100.59 379.02) rotate(-90) scale(0.4864 0.8780)" text-anchor="middle" style="font-family:'Liberation Serif','Times New Roman',serif;font-size:100px;" fill="#262626">[</text>
<text transform="translate(94.95 354.15) rotate(-90) scale(0.6477 0.6318)" text-anchor="middle" style="font-family:'Liberation Serif','Times New Roman',serif;font-size:100px;" fill="#262626">○</text>
<text transform="translate(94.80 310.29) rotate(-90) scale(0.8290 0.8000)" text-anchor="middle" style="font-family:'Liberation Serif','Times New Roman',serif;font-size:100px;font-style:italic;" fill="#262626">C</text>
<text transform="translate(110.91 265.15) rotate(-90) scale(1.0393 1.0864)" text-anchor="middle" style="font-family:'Liberation Serif','Times New Roman',serif;font-size:100px;" fill="#262626">/</text>
<text transform="translate(93.70 230.55) rotate(-90) scale(0.7029 0.7273)" text-anchor="middle" style="font-family:'Liberation Serif','Times New Roman',serif;font-size:100px;" fill="#262626">1</text>
<text transform="translate(93.65 194.20) rotate(-90) scale(0.7190 0.7269)" text-anchor="middle" style="font-family:'Liberation Serif','Times New Roman',serif;font-size:100px;" fill="#262626">0</text>
<text transform="translate(93.65 158.80) rotate(-90) scale(0.7000 0.7269)" text-anchor="middle" style="font-family:'Liberation Serif','Times New Roman',serif;font-size:100px;" fill="#262626">0</text>
<text transform="translate(100.63 133.45) rotate(-90) scale(0.4727 0.8744)" text-anchor="middle" style="font-family:'Liberation Serif','Times New Roman',serif;font-size:100px;" fill="#262626">]</text>
<text transform="translate(87.30 1091.07) rotate(-90) scale(0.6577 0.7000)" text-anchor="middle" style="font-family:'Liberation Serif','Times New Roman',serif;font-size:100px;font-style:italic;" fill="#262626">y</text>
<text transform="translate(108.80 1065.48) rotate(-90) scale(0.5381 0.5304)" text-anchor="middle" style="font-family:'Liberation Serif','Times New Roman',serif;font-size:100px;font-style:italic;" fill="#262626">k</text>
<text transform="translate(49.69 1060.20) rotate(-90) scale(0.6457 0.4721)" text-anchor="middle" style="font-family:'Liberation Serif','Times New Roman',serif;font-size:100px;font-style:italic;" fill="#262626">j</text>
<text transform="translate(87.18 1035.82) rotate(-90) scale(0.7200 0.8680)" text-anchor="middle" style="font-family:'Liberation Serif','Times New Roman',serif;font-size:100px;" fill="#262626">,</text>
<text transform="translate(87.30 994.61) rotate(-90) scale(0.6596 0.7000)" text-anchor="middle" style="font-family:'Liberation Serif','Times New Roman',serif;font-size:100px;font-style:italic;" fill="#262626">y</text>
<text transform="translate(108.30 968.57) rotate(-90) scale(0.5595 0.5232)" text-anchor="middle" style="font-family:'Liberation Serif','Times New Roman',serif;font-size:100px;font-style:italic;" fill="#262626">k</text>
<text transform="translate(60.90 965.56) rotate(-90) scale(0.5383 0.5029)" text-anchor="middle" style="font-family:'Liberation Serif','Times New Roman',serif;font-size:100px;font-style:italic;" fill="#262626">d</text>
<text transform="translate(93.35 936.54) rotate(-90) scale(0.4955 0.8732)" text-anchor="middle" style="font-family:'Liberation Serif','Times New Roman',serif;font-size:100px;" fill="#262626">[</text>
<text transform="translate(87.55 911.10) rotate(-90) scale(0.6364 0.6318)" text-anchor="middle" style="font-family:'Liberation Serif','Times New Roman',serif;font-size:100px;" fill="#262626">○</text>
<text transform="translate(87.80 867.17) rotate(-90) scale(0.8226 0.7985)" text-anchor="middle" style="font-family:'Liberation Serif','Times New Roman',serif;font-size:100px;font-style:italic;" fill="#262626">C</text>
<text transform="translate(103.52 822.35) rotate(-90) scale(1.0179 1.0803)" text-anchor="middle" style="font-family:'Liberation Serif','Times New Roman',serif;font-size:100px;" fill="#262626">/</text>
<text transform="translate(86.80 787.17) rotate(-90) scale(0.7143 0.7182)" text-anchor="middle" style="font-family:'Liberation Serif','Times New Roman',serif;font-size:100px;" fill="#262626">1</text>
<text transform="translate(87.13 751.15) rotate(-90) scale(0.6976 0.7343)" text-anchor="middle" style="font-family:'Liberation Serif','Times New Roman',serif;font-size:100px;" fill="#262626">0</text>
<text transform="translate(87.13 715.75) rotate(-90) scale(0.6976 0.7343)" text-anchor="middle" style="font-family:'Liberation Serif','Times New Roman',serif;font-size:100px;" fill="#262626">0</text>
<text transform="translate(93.30 690.36) rotate(-90) scale(0.4955 0.8695)" text-anchor="middle" style="font-family:'Liberation Serif','Times New Roman',serif;font-size:100px;" fill="#262626">]</text>
<text transform="translate(992.34 1296.66) scale(0.7810 0.7067)" text-anchor="middle" style="font-family:'Liberation Serif','Times New Roman',serif;font-size:100px;font-style:italic;" fill="#262626">sample</text>
<text transform="translate(1212.37 1297.88) scale(0.8262 0.7243)" text-anchor="middle" style="font-family:'Liberation Serif','Times New Roman',serif;font-size:100px;font-style:italic;" fill="#262626">index</text>
<text transform="translate(1346.16 1298.60) scale(0.7929 0.7348)" text-anchor="middle" style="font-family:'Liberation Serif','Times New Roman',serif;font-size:100px;font-style:italic;" fill="#262626">k</text>
</svg>
</body></html>
